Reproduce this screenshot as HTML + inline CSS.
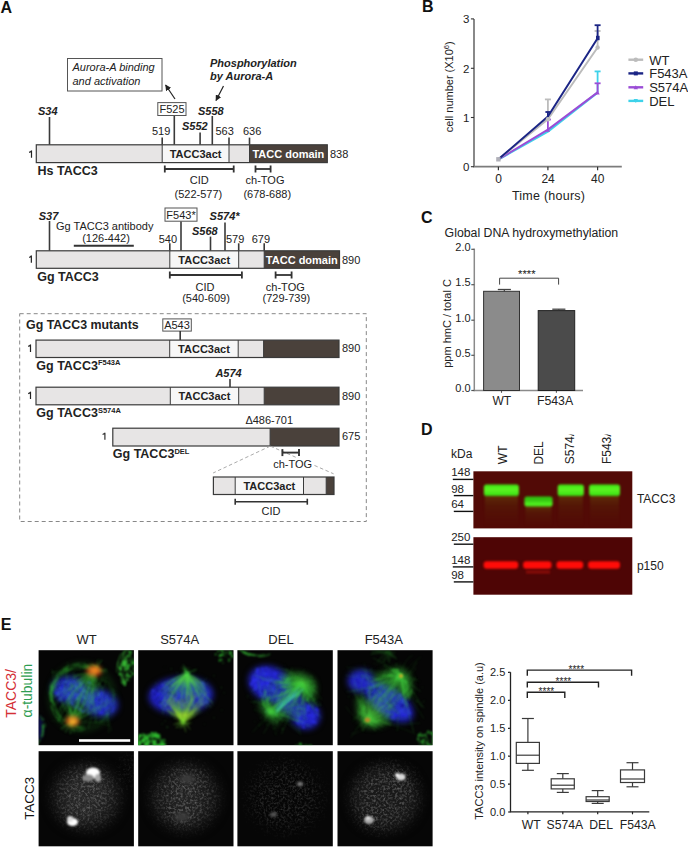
<!DOCTYPE html>
<html><head><meta charset="utf-8">
<style>
html,body{margin:0;padding:0;background:#fff;}
body{width:688px;height:847px;overflow:hidden;position:relative;}
svg{position:absolute;left:0;top:0;color-interpolation-filters:sRGB;}
text{font-family:"Liberation Sans",sans-serif;}
.b{font-weight:bold}
.i{font-style:italic}
</style></head><body>
<svg width="688" height="847" viewBox="0 0 688 847">
<defs>
  <filter id="bl08" x="-20%" y="-20%" width="140%" height="140%"><feGaussianBlur stdDeviation="1.0"/></filter>
  <filter id="bl1" x="-50%" y="-50%" width="200%" height="200%"><feGaussianBlur stdDeviation="1"/></filter>
  <filter id="bl2" x="-50%" y="-50%" width="200%" height="200%"><feGaussianBlur stdDeviation="2"/></filter>
  <filter id="bl3" x="-50%" y="-50%" width="200%" height="200%"><feGaussianBlur stdDeviation="3"/></filter>
  <filter id="bl4" x="-50%" y="-50%" width="200%" height="200%"><feGaussianBlur stdDeviation="4"/></filter>
  <filter id="bl6" x="-50%" y="-50%" width="200%" height="200%"><feGaussianBlur stdDeviation="6"/></filter>
  <marker id="ah" viewBox="0 0 10 10" refX="9" refY="5" markerWidth="5" markerHeight="5" orient="auto-start-reverse"><path d="M0,0 L10,5 L0,10 z" fill="#222"/></marker>
</defs>
<text x="0.5" y="12.6" class="b" font-size="16" fill="#111">A</text><rect x="67.5" y="58.5" width="94.5" height="32.5" fill="#fff" stroke="#555" stroke-width="1"/><text x="72.5" y="71.2" class="i" font-size="11" fill="#222">Aurora-A binding</text><text x="72.5" y="84.8" class="i" font-size="11" fill="#222">and activation</text><text x="210" y="66.5" class="b i" font-size="11" fill="#222">Phosphorylation</text><text x="210" y="80" class="b i" font-size="11" fill="#222">by Aurora-A</text><line x1="175" y1="99" x2="165.6" y2="85" stroke="#222" stroke-width="1.2" marker-end="url(#ah)"/><line x1="223.5" y1="86" x2="216" y2="100.5" stroke="#222" stroke-width="1.2" marker-end="url(#ah)"/><line x1="49.5" y1="117" x2="49.5" y2="144.8" stroke="#3a3a3a" stroke-width="1.6"/><line x1="162.2" y1="137.6" x2="162.2" y2="144.8" stroke="#3a3a3a" stroke-width="1.6"/><line x1="174.3" y1="115.5" x2="174.3" y2="144.8" stroke="#3a3a3a" stroke-width="1.6"/><line x1="200.1" y1="132.4" x2="200.1" y2="144.8" stroke="#3a3a3a" stroke-width="1.6"/><line x1="212.3" y1="116" x2="212.3" y2="144.8" stroke="#3a3a3a" stroke-width="1.6"/><line x1="229" y1="137.6" x2="229" y2="144.8" stroke="#3a3a3a" stroke-width="1.6"/><line x1="249.5" y1="137.6" x2="249.5" y2="144.8" stroke="#3a3a3a" stroke-width="1.6"/><rect x="36.3" y="144.8" width="125.89999999999999" height="17.799999999999983" fill="#e7e5e5"/><rect x="162.2" y="144.8" width="66.80000000000001" height="17.799999999999983" fill="#f7f7f7"/><rect x="229" y="144.8" width="20.5" height="17.799999999999983" fill="#e7e5e5"/><rect x="249.5" y="144.8" width="77.80000000000001" height="17.799999999999983" fill="#4a413b"/><rect x="36.3" y="144.8" width="291.0" height="17.799999999999983" fill="none" stroke="#3a3a3a" stroke-width="1.2"/><line x1="162.2" y1="144.8" x2="162.2" y2="162.6" stroke="#3a3a3a" stroke-width="1.0"/><line x1="229" y1="144.8" x2="229" y2="162.6" stroke="#3a3a3a" stroke-width="1.0"/><line x1="249.5" y1="144.8" x2="249.5" y2="162.6" stroke="#3a3a3a" stroke-width="1.0"/><text x="38" y="114.8" class="b i" font-size="11" fill="#222">S34</text><rect x="157.8" y="102.6" width="28.2" height="12.9" fill="#fff" stroke="#555" stroke-width="1"/><text x="172" y="113" font-size="11" fill="#222" text-anchor="middle">F525</text><text x="198" y="114.8" class="b i" font-size="11" fill="#222">S558</text><text x="182" y="129.8" class="b i" font-size="11" fill="#222">S552</text><text x="152" y="135" font-size="11" fill="#222">519</text><text x="215.5" y="135" font-size="11" fill="#222">563</text><text x="243" y="135" font-size="11" fill="#222">636</text><path d="M31.5,157.7 V150.5 M31.7,150.6 Q30.9,151.8 29.1,152.4" stroke="#222" stroke-width="1.2" fill="none" stroke-linecap="butt"/><text x="195.6" y="158.2" class="b" font-size="11" fill="#222" text-anchor="middle">TACC3act</text><text x="288.4" y="158.2" class="b" font-size="11" fill="#fff" text-anchor="middle">TACC domain</text><text x="330" y="157.6" font-size="11" fill="#222">838</text><text x="37.6" y="175.1" class="b" font-size="12.5" fill="#222">Hs TACC3</text><line x1="164.8" y1="169" x2="233.7" y2="169" stroke="#333" stroke-width="1.8"/><line x1="164.8" y1="165.5" x2="164.8" y2="172.5" stroke="#333" stroke-width="1.8"/><line x1="233.7" y1="165.5" x2="233.7" y2="172.5" stroke="#333" stroke-width="1.8"/><text x="199.2" y="183.8" font-size="11" fill="#222" text-anchor="middle">CID</text><text x="198.4" y="198.3" font-size="11" fill="#222" text-anchor="middle">(522-577)</text><line x1="255.5" y1="169" x2="270.6" y2="169" stroke="#333" stroke-width="1.8"/><line x1="255.5" y1="165.5" x2="255.5" y2="172.5" stroke="#333" stroke-width="1.8"/><line x1="270.6" y1="165.5" x2="270.6" y2="172.5" stroke="#333" stroke-width="1.8"/><text x="265" y="183.8" font-size="11" fill="#222" text-anchor="middle">ch-TOG</text><text x="267.3" y="198.3" font-size="11" fill="#222" text-anchor="middle">(678-688)</text><line x1="49.5" y1="221" x2="49.5" y2="250.8" stroke="#3a3a3a" stroke-width="1.6"/><line x1="73.8" y1="245.8" x2="133.8" y2="245.8" stroke="#333" stroke-width="2.0"/><line x1="169.8" y1="243.3" x2="169.8" y2="250.8" stroke="#3a3a3a" stroke-width="1.6"/><line x1="181" y1="221.2" x2="181" y2="250.8" stroke="#3a3a3a" stroke-width="1.6"/><line x1="210.5" y1="236.6" x2="210.5" y2="250.8" stroke="#3a3a3a" stroke-width="1.6"/><line x1="225" y1="222.6" x2="225" y2="250.8" stroke="#3a3a3a" stroke-width="1.6"/><line x1="238.7" y1="243.3" x2="238.7" y2="250.8" stroke="#3a3a3a" stroke-width="1.6"/><line x1="264.2" y1="243.3" x2="264.2" y2="250.8" stroke="#3a3a3a" stroke-width="1.6"/><rect x="36.3" y="250.8" width="133.5" height="17.5" fill="#e7e5e5"/><rect x="169.8" y="250.8" width="68.89999999999998" height="17.5" fill="#f7f7f7"/><rect x="238.7" y="250.8" width="25.5" height="17.5" fill="#e7e5e5"/><rect x="264.2" y="250.8" width="75.30000000000001" height="17.5" fill="#4a413b"/><rect x="36.3" y="250.8" width="303.2" height="17.5" fill="none" stroke="#3a3a3a" stroke-width="1.2"/><line x1="169.8" y1="250.8" x2="169.8" y2="268.3" stroke="#3a3a3a" stroke-width="1.0"/><line x1="238.7" y1="250.8" x2="238.7" y2="268.3" stroke="#3a3a3a" stroke-width="1.0"/><line x1="264.2" y1="250.8" x2="264.2" y2="268.3" stroke="#3a3a3a" stroke-width="1.0"/><text x="38.7" y="220" class="b i" font-size="11" fill="#222">S37</text><text x="56" y="229.5" font-size="11" fill="#222">Gg TACC3 antibody</text><text x="106" y="242" font-size="11" fill="#222" text-anchor="middle">(126-442)</text><rect x="165" y="208" width="32" height="13.2" fill="#fff" stroke="#555" stroke-width="1"/><text x="181" y="218.6" font-size="11" fill="#222" text-anchor="middle">F543*</text><text x="209.6" y="220" class="b i" font-size="11" fill="#222">S574*</text><text x="192" y="234.8" class="b i" font-size="11" fill="#222">S568</text><text x="158.7" y="242.6" font-size="11" fill="#222">540</text><text x="226" y="242.6" font-size="11" fill="#222">579</text><text x="251.7" y="242.6" font-size="11" fill="#222">679</text><path d="M31.35,262.8 V255.60000000000002 M31.55,255.70000000000002 Q30.75,256.9 29.2,257.5" stroke="#222" stroke-width="1.2" fill="none" stroke-linecap="butt"/><text x="204.2" y="264" class="b" font-size="11" fill="#222" text-anchor="middle">TACC3act</text><text x="301.8" y="264" class="b" font-size="11" fill="#fff" text-anchor="middle">TACC domain</text><text x="342" y="263.5" font-size="11" fill="#222">890</text><text x="37.2" y="281.3" class="b" font-size="12.5" fill="#222">Gg TACC3</text><line x1="169.8" y1="275" x2="241.9" y2="275" stroke="#333" stroke-width="1.8"/><line x1="169.8" y1="271.5" x2="169.8" y2="278.5" stroke="#333" stroke-width="1.8"/><line x1="241.9" y1="271.5" x2="241.9" y2="278.5" stroke="#333" stroke-width="1.8"/><text x="205" y="290.6" font-size="11" fill="#222" text-anchor="middle">CID</text><text x="206" y="302.2" font-size="11" fill="#222" text-anchor="middle">(540-609)</text><line x1="275.6" y1="275" x2="291.6" y2="275" stroke="#333" stroke-width="1.8"/><line x1="275.6" y1="271.5" x2="275.6" y2="278.5" stroke="#333" stroke-width="1.8"/><line x1="291.6" y1="271.5" x2="291.6" y2="278.5" stroke="#333" stroke-width="1.8"/><text x="285.3" y="290.6" font-size="11" fill="#222" text-anchor="middle">ch-TOG</text><text x="286.4" y="302.2" font-size="11" fill="#222" text-anchor="middle">(729-739)</text><rect x="19.7" y="313.7" width="346.6" height="207.8" fill="none" stroke="#888" stroke-width="1" stroke-dasharray="4,3"/><text x="26" y="329" class="b" font-size="12.4" fill="#222">Gg TACC3 mutants</text><rect x="162.8" y="318.9" width="28.5" height="12.2" fill="#fff" stroke="#555" stroke-width="1"/><text x="177" y="329" font-size="11" fill="#222" text-anchor="middle">A543</text><line x1="180.2" y1="331.1" x2="180.2" y2="340.1" stroke="#3a3a3a" stroke-width="1.6"/><rect x="36" y="340.1" width="133.7" height="17.399999999999977" fill="#e7e5e5"/><rect x="169.7" y="340.1" width="68.5" height="17.399999999999977" fill="#f7f7f7"/><rect x="238.2" y="340.1" width="25.400000000000034" height="17.399999999999977" fill="#e7e5e5"/><rect x="263.6" y="340.1" width="75.39999999999998" height="17.399999999999977" fill="#4a413b"/><rect x="36" y="340.1" width="303" height="17.399999999999977" fill="none" stroke="#3a3a3a" stroke-width="1.2"/><line x1="169.7" y1="340.1" x2="169.7" y2="357.5" stroke="#3a3a3a" stroke-width="1.0"/><line x1="238.2" y1="340.1" x2="238.2" y2="357.5" stroke="#3a3a3a" stroke-width="1.0"/><line x1="263.6" y1="340.1" x2="263.6" y2="357.5" stroke="#3a3a3a" stroke-width="1.0"/><path d="M30.5,351.9 V344.5 M30.7,344.59999999999997 Q29.9,345.79999999999995 28.2,346.4" stroke="#222" stroke-width="1.2" fill="none" stroke-linecap="butt"/><text x="204" y="352.6" class="b" font-size="11" fill="#222" text-anchor="middle">TACC3act</text><text x="342" y="352.3" font-size="11" fill="#222">890</text><text x="36.3" y="369.8" class="b" font-size="12.5" fill="#222">Gg TACC3<tspan font-size="7.5" dy="-4.5">F543A</tspan></text><text x="215.4" y="376.8" class="b i" font-size="11" fill="#222">A574</text><line x1="230" y1="379" x2="230" y2="387.2" stroke="#3a3a3a" stroke-width="1.6"/><rect x="36" y="387.2" width="134.3" height="17.600000000000023" fill="#e7e5e5"/><rect x="170.3" y="387.2" width="68.39999999999998" height="17.600000000000023" fill="#f7f7f7"/><rect x="238.7" y="387.2" width="25.5" height="17.600000000000023" fill="#e7e5e5"/><rect x="264.2" y="387.2" width="74.80000000000001" height="17.600000000000023" fill="#4a413b"/><rect x="36" y="387.2" width="303" height="17.600000000000023" fill="none" stroke="#3a3a3a" stroke-width="1.2"/><line x1="170.3" y1="387.2" x2="170.3" y2="404.8" stroke="#3a3a3a" stroke-width="1.0"/><line x1="238.7" y1="387.2" x2="238.7" y2="404.8" stroke="#3a3a3a" stroke-width="1.0"/><line x1="264.2" y1="387.2" x2="264.2" y2="404.8" stroke="#3a3a3a" stroke-width="1.0"/><path d="M30.5,399.1 V391.7 M30.7,391.79999999999995 Q29.9,393.0 28.2,393.6" stroke="#222" stroke-width="1.2" fill="none" stroke-linecap="butt"/><text x="204.5" y="399.8" class="b" font-size="11" fill="#222" text-anchor="middle">TACC3act</text><text x="342" y="399.6" font-size="11" fill="#222">890</text><text x="36.3" y="417.4" class="b" font-size="12.5" fill="#222">Gg TACC3<tspan font-size="7.5" dy="-4.5">S574A</tspan></text><text x="245.4" y="424.3" font-size="11" fill="#222">Δ486-701</text><rect x="112.8" y="428.2" width="157.3" height="17.80000000000001" fill="#e7e5e5"/><rect x="270.1" y="428.2" width="68.89999999999998" height="17.80000000000001" fill="#4a413b"/><rect x="112.8" y="428.2" width="226.2" height="17.80000000000001" fill="none" stroke="#3a3a3a" stroke-width="1.2"/><line x1="270.1" y1="428.2" x2="270.1" y2="446" stroke="#3a3a3a" stroke-width="1.0"/><path d="M104.9,439.7 V432.7 M105.10000000000001,432.79999999999995 Q104.30000000000001,433.9 102.6,434.5" stroke="#333" stroke-width="1.2" fill="none" stroke-linecap="butt"/><text x="342" y="440.3" font-size="11" fill="#222">675</text><text x="112.8" y="458" class="b" font-size="12.5" fill="#222">Gg TACC3<tspan font-size="7.5" dy="-4.5">DEL</tspan></text><line x1="270.1" y1="446.2" x2="213.1" y2="473" stroke="#a0a0a0" stroke-width="0.9" stroke-dasharray="3.5,2.5"/><line x1="270.5" y1="446.2" x2="333.6" y2="473.8" stroke="#a0a0a0" stroke-width="0.9" stroke-dasharray="3.5,2.5"/><line x1="282.4" y1="452.6" x2="299" y2="452.6" stroke="#333" stroke-width="1.9"/><line x1="282.4" y1="449.1" x2="282.4" y2="456.1" stroke="#333" stroke-width="1.9"/><line x1="299" y1="449.1" x2="299" y2="456.1" stroke="#333" stroke-width="1.9"/><rect x="272" y="458" width="42" height="11.5" fill="#fff"/><text x="292.6" y="468.4" font-size="11" fill="#222" text-anchor="middle">ch-TOG</text><rect x="213.4" y="477" width="21.799999999999983" height="17.5" fill="#e7e5e5"/><rect x="235.2" y="477" width="68.30000000000001" height="17.5" fill="#f7f7f7"/><rect x="303.5" y="477" width="22.69999999999999" height="17.5" fill="#e7e5e5"/><rect x="326.2" y="477" width="7.800000000000011" height="17.5" fill="#4a413b"/><rect x="213.4" y="477" width="120.6" height="17.5" fill="none" stroke="#3a3a3a" stroke-width="1.2"/><line x1="235.2" y1="477" x2="235.2" y2="494.5" stroke="#3a3a3a" stroke-width="1.0"/><line x1="303.5" y1="477" x2="303.5" y2="494.5" stroke="#3a3a3a" stroke-width="1.0"/><line x1="326.2" y1="477" x2="326.2" y2="494.5" stroke="#3a3a3a" stroke-width="1.0"/><text x="269.3" y="490" class="b" font-size="11" fill="#222" text-anchor="middle">TACC3act</text><line x1="235.2" y1="501.7" x2="307.3" y2="501.7" stroke="#333" stroke-width="1.6"/><line x1="235.2" y1="498.7" x2="235.2" y2="504.7" stroke="#333" stroke-width="1.6"/><line x1="307.3" y1="498.7" x2="307.3" y2="504.7" stroke="#333" stroke-width="1.6"/><text x="271" y="515.3" font-size="11" fill="#222" text-anchor="middle">CID</text><text x="422" y="11.8" class="b" font-size="16" fill="#111">B</text><line x1="474" y1="18.9" x2="474" y2="166.8" stroke="#7c7c7c" stroke-width="1.8"/><line x1="473.1" y1="166.7" x2="621.8" y2="166.7" stroke="#7c7c7c" stroke-width="1.8"/><line x1="470.9" y1="18.9" x2="474" y2="18.9" stroke="#333" stroke-width="1.1"/><text x="469.5" y="23.4" font-size="11.5" fill="#222" text-anchor="end">3</text><line x1="470.9" y1="68.3" x2="474" y2="68.3" stroke="#333" stroke-width="1.1"/><text x="469.5" y="72.8" font-size="11.5" fill="#222" text-anchor="end">2</text><line x1="470.9" y1="117.5" x2="474" y2="117.5" stroke="#333" stroke-width="1.1"/><text x="469.5" y="122.0" font-size="11.5" fill="#222" text-anchor="end">1</text><line x1="470.9" y1="166.7" x2="474" y2="166.7" stroke="#333" stroke-width="1.1"/><text x="469.5" y="171.2" font-size="11.5" fill="#222" text-anchor="end">0</text><line x1="498.4" y1="166.7" x2="498.4" y2="170.2" stroke="#333" stroke-width="1.2"/><text x="498.59999999999997" y="182.8" font-size="12" fill="#222" text-anchor="middle">0</text><line x1="547.9" y1="166.7" x2="547.9" y2="170.2" stroke="#333" stroke-width="1.2"/><text x="548.1" y="182.8" font-size="12" fill="#222" text-anchor="middle">24</text><line x1="597.6" y1="166.7" x2="597.6" y2="170.2" stroke="#333" stroke-width="1.2"/><text x="597.8000000000001" y="182.8" font-size="12" fill="#222" text-anchor="middle">40</text><text x="548.6" y="199.8" font-size="12.5" letter-spacing="0.25" fill="#222" text-anchor="middle">Time (hours)</text><text transform="translate(453.4,86.8) rotate(-90)" font-size="11" fill="#222" text-anchor="middle">cell number (X10<tspan font-size="7.5" dy="-4.2">6</tspan><tspan dy="4.2">)</tspan></text><polyline points="498.4,159.6 547.9,131.6 597.6,92.6" fill="none" stroke="#3ed2ea" stroke-width="2" stroke-linejoin="round"/><line x1="597.6" y1="92.6" x2="597.6" y2="71.4" stroke="#3ed2ea" stroke-width="1.8"/><line x1="594.6" y1="71.4" x2="600.6" y2="71.4" stroke="#3ed2ea" stroke-width="1.8"/><polyline points="498.4,159.4 547.9,129.6 597.6,92.4" fill="none" stroke="#9b4dd6" stroke-width="2" stroke-linejoin="round"/><line x1="547.9" y1="129.6" x2="547.9" y2="119.5" stroke="#9b4dd6" stroke-width="1.8"/><line x1="544.9" y1="119.5" x2="550.9" y2="119.5" stroke="#9b4dd6" stroke-width="1.8"/><line x1="597.6" y1="92.4" x2="597.6" y2="83.3" stroke="#9b4dd6" stroke-width="1.8"/><line x1="594.6" y1="83.3" x2="600.6" y2="83.3" stroke="#9b4dd6" stroke-width="1.8"/><line x1="547.9" y1="119.2" x2="547.9" y2="99.4" stroke="#bcbcbc" stroke-width="1.8"/><line x1="544.9" y1="99.4" x2="550.9" y2="99.4" stroke="#bcbcbc" stroke-width="1.8"/><line x1="597.6" y1="47.5" x2="597.6" y2="31" stroke="#bcbcbc" stroke-width="1.8"/><line x1="594.6" y1="31" x2="600.6" y2="31" stroke="#bcbcbc" stroke-width="1.8"/><polyline points="498.4,159.3 547.9,119.2 597.6,47.5" fill="none" stroke="#bcbcbc" stroke-width="2" stroke-linejoin="round"/><polyline points="498.4,159.3 547.9,116.5 597.6,38.2" fill="none" stroke="#1b2585" stroke-width="2" stroke-linejoin="round"/><line x1="597.6" y1="38.2" x2="597.6" y2="25.2" stroke="#1b2585" stroke-width="1.8"/><line x1="594.6" y1="25.2" x2="600.6" y2="25.2" stroke="#1b2585" stroke-width="1.8"/><line x1="547.9" y1="116.5" x2="547.9" y2="112" stroke="#1b2585" stroke-width="1.8"/><line x1="545.4" y1="112" x2="550.4" y2="112" stroke="#1b2585" stroke-width="1.8"/><rect x="596" y="35.8" width="3.6" height="4.4" fill="#1b2585"/><circle cx="597.6" cy="47.5" r="2.2" fill="#bcbcbc"/><circle cx="547.9" cy="119.2" r="2.2" fill="#bcbcbc"/><path d="M595.5,94.5 L599.7,94.5 L597.6,90.3 z" fill="#9b4dd6"/><path d="M545.8,131.7 L550,131.7 L547.9,127.5 z" fill="#9b4dd6"/><rect x="496.2" y="157.1" width="4.4" height="4.4" fill="#b0b0b8"/><line x1="628.4" y1="59.7" x2="643.2" y2="59.7" stroke="#bcbcbc" stroke-width="2.4"/><circle cx="635.8" cy="59.7" r="2.3" fill="#bcbcbc"/><text x="649.2" y="64.7" font-size="13" fill="#222">WT</text><line x1="628.4" y1="73.4" x2="643.2" y2="73.4" stroke="#1b2585" stroke-width="2.4"/><rect x="633.8" y="71.4" width="4" height="4" fill="#1b2585"/><text x="649.2" y="78.4" font-size="13" fill="#222">F543A</text><line x1="628.4" y1="87.3" x2="643.2" y2="87.3" stroke="#9b4dd6" stroke-width="2.4"/><path d="M633.6,89.3 L638,89.3 L635.8,85.3 z" fill="#9b4dd6"/><text x="649.2" y="92.3" font-size="13" fill="#222">S574A</text><line x1="628.4" y1="100.9" x2="643.2" y2="100.9" stroke="#3ed2ea" stroke-width="2.4"/><path d="M633.6,98.9 L638,98.9 L635.8,102.9 z" fill="#3ed2ea"/><text x="649.2" y="105.9" font-size="13" fill="#222">DEL</text><text x="421" y="223.2" class="b" font-size="16" fill="#111">C</text><text x="444.6" y="237.3" font-size="12.3" fill="#222">Global DNA hydroxymethylation</text><line x1="474.3" y1="248.6" x2="474.3" y2="391.2" stroke="#8a8a8a" stroke-width="1.5"/><line x1="473.6" y1="390.5" x2="583" y2="390.5" stroke="#8a8a8a" stroke-width="1.5"/><line x1="471.3" y1="249.3" x2="474.3" y2="249.3" stroke="#555" stroke-width="1.2"/><text x="470.6" y="250.9" font-size="11" fill="#222" text-anchor="end">2.0</text><line x1="471.3" y1="284.7" x2="474.3" y2="284.7" stroke="#555" stroke-width="1.2"/><text x="470.6" y="286.3" font-size="11" fill="#222" text-anchor="end">1.5</text><line x1="471.3" y1="320.2" x2="474.3" y2="320.2" stroke="#555" stroke-width="1.2"/><text x="470.6" y="321.8" font-size="11" fill="#222" text-anchor="end">1.0</text><line x1="471.3" y1="355.3" x2="474.3" y2="355.3" stroke="#555" stroke-width="1.2"/><text x="470.6" y="356.90000000000003" font-size="11" fill="#222" text-anchor="end">0.5</text><line x1="471.3" y1="390.5" x2="474.3" y2="390.5" stroke="#555" stroke-width="1.2"/><text x="470.6" y="392.1" font-size="11" fill="#222" text-anchor="end">0.0</text><line x1="501.5" y1="390.5" x2="501.5" y2="392.8" stroke="#555" stroke-width="1.1"/><line x1="556.4" y1="390.5" x2="556.4" y2="392.8" stroke="#555" stroke-width="1.1"/><rect x="483.6" y="291.3" width="35.9" height="99.2" fill="#8b8b8b" stroke="#333" stroke-width="1.0"/><rect x="538.2" y="310.6" width="36.5" height="79.9" fill="#4b4b4b" stroke="#222" stroke-width="1.0"/><line x1="504.3" y1="289.5" x2="504.3" y2="291.3" stroke="#333" stroke-width="1.1"/><line x1="497.8" y1="289.5" x2="510.9" y2="289.5" stroke="#444" stroke-width="1.3"/><line x1="558.8" y1="309.2" x2="558.8" y2="310.6" stroke="#333" stroke-width="1.1"/><line x1="552.3" y1="309.2" x2="565.4" y2="309.2" stroke="#444" stroke-width="1.3"/><path d="M499.6,284.6 V278.2 H558.6 V284.6" fill="none" stroke="#444" stroke-width="1"/><text x="526.8" y="278.2" font-size="11.2" fill="#222" text-anchor="middle">****</text><text transform="translate(450.5,323.5) rotate(-90)" font-size="11" fill="#222" text-anchor="middle">ppm hmC / total C</text><text x="501.8" y="405.3" font-size="12" fill="#222" text-anchor="middle">WT</text><text x="555" y="405.3" font-size="12.3" fill="#222" text-anchor="middle">F543A</text><text x="421" y="435" class="b" font-size="16" fill="#111">D</text><text x="451" y="457.8" font-size="12" fill="#222">kDa</text><defs><clipPath id="lblclip"><rect x="480" y="434.6" width="150" height="40"/></clipPath><linearGradient id="smear" x1="0" y1="0" x2="0" y2="1"><stop offset="0" stop-color="#6a4a0a" stop-opacity="0.6"/><stop offset="0.35" stop-color="#5a3008" stop-opacity="0.32"/><stop offset="1" stop-color="#5a2008" stop-opacity="0.0"/></linearGradient><linearGradient id="gband" x1="0" y1="0" x2="0" y2="1"><stop offset="0" stop-color="#3ee612"/><stop offset="0.45" stop-color="#5cf422"/><stop offset="0.8" stop-color="#44e818"/><stop offset="1" stop-color="#3ad010"/></linearGradient><linearGradient id="gdel" x1="0" y1="0" x2="0" y2="1"><stop offset="0" stop-color="#2fc010"/><stop offset="0.4" stop-color="#36c812"/><stop offset="0.7" stop-color="#50f020"/><stop offset="1" stop-color="#48e818"/></linearGradient></defs><g clip-path="url(#lblclip)"><text transform="translate(507.1,464.2) rotate(-90)" font-size="12" fill="#222">WT</text><text transform="translate(542.8,464.6) rotate(-90)" font-size="12" fill="#222">DEL</text><text transform="translate(574.4,464.3) rotate(-90)" font-size="12" fill="#222">S574A</text><text transform="translate(611.1,464.1) rotate(-90)" font-size="12" fill="#222">F543A</text></g><rect x="473.4" y="471.3" width="158.9" height="57.1" fill="#520a06"/><rect x="473.4" y="537.2" width="158.9" height="57.5" fill="#4e0505"/><text x="451.2" y="476" font-size="11.5" fill="#222">148</text><text x="451.2" y="492.8" font-size="11.5" fill="#222">98</text><text x="451.2" y="508.4" font-size="11.5" fill="#222">64</text><line x1="452.8" y1="479.4" x2="473.4" y2="479.4" stroke="#111" stroke-width="1.4"/><line x1="453.8" y1="495.6" x2="473.4" y2="495.6" stroke="#111" stroke-width="1.4"/><line x1="453.8" y1="511.4" x2="473.4" y2="511.4" stroke="#111" stroke-width="1.4"/><text x="451.2" y="540.7" font-size="11.5" fill="#222">250</text><text x="451.2" y="563.8" font-size="11.5" fill="#222">148</text><text x="451.2" y="579.4" font-size="11.5" fill="#222">98</text><line x1="453.8" y1="544.2" x2="473.4" y2="544.2" stroke="#111" stroke-width="1.4"/><line x1="452.8" y1="566.9" x2="473.4" y2="566.9" stroke="#111" stroke-width="1.4"/><line x1="453.8" y1="581.9" x2="473.4" y2="581.9" stroke="#111" stroke-width="1.4"/><text x="636.9" y="502.9" font-size="12" fill="#222">TACC3</text><text x="636.9" y="569.8" font-size="12" fill="#222">p150</text><rect x="484.9" y="495" width="33.0" height="32" fill="url(#smear)" filter="url(#bl1)"/><rect x="558.7" y="495" width="24.199999999999932" height="32" fill="url(#smear)" filter="url(#bl1)"/><rect x="590.1" y="495" width="28.899999999999977" height="32" fill="url(#smear)" filter="url(#bl1)"/><rect x="525.5" y="505.5" width="26" height="22" fill="url(#smear)" filter="url(#bl1)"/><rect x="483.9" y="484.6" width="35.0" height="11.4" rx="2.5" fill="url(#gband)" filter="url(#bl08)"/><rect x="557.7" y="484.6" width="26.199999999999932" height="11.4" rx="2.5" fill="url(#gband)" filter="url(#bl08)"/><rect x="589.1" y="484.6" width="30.899999999999977" height="11.4" rx="2.5" fill="url(#gband)" filter="url(#bl08)"/><rect x="524.4" y="496.6" width="28.2" height="10" rx="2.5" fill="url(#gdel)" filter="url(#bl08)"/><rect x="483.6" y="561.3" width="34.60000000000002" height="7.4" rx="3" fill="#ff0c08" filter="url(#bl08)"/><rect x="523.1" y="561.3" width="28.399999999999977" height="7.4" rx="3" fill="#ff0c08" filter="url(#bl08)"/><rect x="556.5" y="561.3" width="26.700000000000045" height="7.4" rx="3" fill="#ff0c08" filter="url(#bl08)"/><rect x="588.1" y="561.3" width="31.899999999999977" height="7.4" rx="3" fill="#ff0c08" filter="url(#bl08)"/><rect x="526" y="570.5" width="24" height="3" fill="#8a0c08" filter="url(#bl1)"/><text x="0.8" y="629.9" class="b" font-size="16" fill="#111">E</text><text x="86.7" y="644.4" font-size="13" fill="#222" text-anchor="middle">WT</text><text x="179.7" y="644.4" font-size="13" fill="#222" text-anchor="middle">S574A</text><text x="281" y="644.4" font-size="13" fill="#222" text-anchor="middle">DEL</text><text x="383.8" y="644.4" font-size="13" fill="#222" text-anchor="middle">F543A</text><text transform="translate(16,717.8) rotate(-90)" font-size="14" fill="#d43036">TACC3/</text><text transform="translate(32.2,717.4) rotate(-90)" font-size="13.9" fill="#2e9c50">α-tubulin</text><text transform="translate(34.1,819.8) rotate(-90)" font-size="13.4" fill="#111">TACC3</text><defs><clipPath id="c1_0"><rect x="38.6" y="650.2" width="95.30000000000001" height="95.0"/></clipPath><clipPath id="c2_0"><rect x="38.6" y="751.2" width="95.30000000000001" height="95.09999999999991"/></clipPath><clipPath id="c1_1"><rect x="138.2" y="650.2" width="95.30000000000001" height="95.0"/></clipPath><clipPath id="c2_1"><rect x="138.2" y="751.2" width="95.30000000000001" height="95.09999999999991"/></clipPath><clipPath id="c1_2"><rect x="237.4" y="650.2" width="95.4" height="95.0"/></clipPath><clipPath id="c2_2"><rect x="237.4" y="751.2" width="95.4" height="95.09999999999991"/></clipPath><clipPath id="c1_3"><rect x="337.5" y="650.2" width="95.10000000000002" height="95.0"/></clipPath><clipPath id="c2_3"><rect x="337.5" y="751.2" width="95.10000000000002" height="95.09999999999991"/></clipPath><filter id="noise" x="0" y="0" width="100%" height="100%">
<feTurbulence type="fractalNoise" baseFrequency="0.9" numOctaves="1" seed="3" result="t"/>
<feColorMatrix type="matrix" values="0 0 0 0 1  0 0 0 0 1  0 0 0 0 1  0 0 0 1.6 -0.95" />
</filter></defs><rect x="38.6" y="650.2" width="95.30000000000001" height="95.0" fill="#050505"/><rect x="38.6" y="751.2" width="95.30000000000001" height="95.09999999999991" fill="#060606"/><rect x="138.2" y="650.2" width="95.30000000000001" height="95.0" fill="#050505"/><rect x="138.2" y="751.2" width="95.30000000000001" height="95.09999999999991" fill="#060606"/><rect x="237.4" y="650.2" width="95.4" height="95.0" fill="#050505"/><rect x="237.4" y="751.2" width="95.4" height="95.09999999999991" fill="#060606"/><rect x="337.5" y="650.2" width="95.10000000000002" height="95.0" fill="#050505"/><rect x="337.5" y="751.2" width="95.10000000000002" height="95.09999999999991" fill="#060606"/><g clip-path="url(#c1_0)"><g filter="url(#bl3)"><ellipse cx="70" cy="690" rx="18" ry="13" transform="rotate(10 70 690)" fill="#2224c8"/><ellipse cx="100" cy="703" rx="18" ry="13" transform="rotate(15 100 703)" fill="#2224c8"/></g><g filter="url(#bl08)"><circle cx="77.5" cy="683.6" r="1.6" fill="#2d30ec" opacity="0.24"/><circle cx="88.4" cy="693.9" r="0.9" fill="#2d30ec" opacity="0.45"/><circle cx="57.5" cy="686.0" r="0.9" fill="#2d30ec" opacity="0.25"/><circle cx="77.4" cy="704.8" r="0.9" fill="#2d30ec" opacity="0.31"/><circle cx="88.6" cy="712.3" r="1.5" fill="#2d30ec" opacity="0.40"/><circle cx="108.8" cy="698.1" r="1.0" fill="#2d30ec" opacity="0.26"/><circle cx="70.4" cy="702.2" r="1.0" fill="#2d30ec" opacity="0.49"/><circle cx="94.6" cy="696.1" r="1.5" fill="#2d30ec" opacity="0.23"/><circle cx="96.7" cy="698.5" r="1.2" fill="#2d30ec" opacity="0.49"/><circle cx="84.0" cy="690.4" r="1.8" fill="#2d30ec" opacity="0.55"/><circle cx="68.7" cy="694.1" r="1.4" fill="#2d30ec" opacity="0.64"/><circle cx="100.9" cy="695.5" r="2.0" fill="#2d30ec" opacity="0.26"/><circle cx="77.6" cy="702.7" r="1.0" fill="#2d30ec" opacity="0.44"/><circle cx="55.4" cy="692.7" r="1.7" fill="#2d30ec" opacity="0.49"/><circle cx="109.6" cy="699.1" r="1.6" fill="#2d30ec" opacity="0.50"/><circle cx="90.3" cy="697.3" r="1.8" fill="#2d30ec" opacity="0.67"/><circle cx="81.9" cy="701.2" r="0.9" fill="#2d30ec" opacity="0.55"/><circle cx="106.6" cy="697.2" r="1.3" fill="#2d30ec" opacity="0.53"/><circle cx="56.3" cy="686.5" r="1.0" fill="#2d30ec" opacity="0.26"/><circle cx="64.8" cy="682.5" r="1.3" fill="#2d30ec" opacity="0.64"/><circle cx="59.9" cy="687.3" r="1.5" fill="#2d30ec" opacity="0.64"/><circle cx="101.1" cy="713.7" r="1.1" fill="#2d30ec" opacity="0.41"/><circle cx="72.8" cy="705.2" r="1.9" fill="#2d30ec" opacity="0.28"/><circle cx="67.8" cy="682.9" r="1.1" fill="#2d30ec" opacity="0.44"/><circle cx="92.6" cy="692.0" r="0.8" fill="#2d30ec" opacity="0.41"/><circle cx="76.4" cy="696.3" r="1.9" fill="#2d30ec" opacity="0.55"/><circle cx="84.9" cy="700.7" r="1.6" fill="#2d30ec" opacity="0.23"/><circle cx="106.7" cy="712.9" r="1.8" fill="#2d30ec" opacity="0.60"/><circle cx="79.4" cy="692.0" r="0.9" fill="#2d30ec" opacity="0.52"/><circle cx="70.4" cy="681.6" r="1.2" fill="#2d30ec" opacity="0.23"/><circle cx="62.0" cy="685.2" r="0.8" fill="#2d30ec" opacity="0.64"/><circle cx="95.2" cy="689.2" r="1.1" fill="#2d30ec" opacity="0.37"/><circle cx="80.2" cy="683.6" r="1.8" fill="#2d30ec" opacity="0.70"/><circle cx="83.1" cy="695.9" r="0.9" fill="#2d30ec" opacity="0.25"/><circle cx="77.6" cy="687.2" r="1.8" fill="#2d30ec" opacity="0.28"/><circle cx="90.0" cy="687.5" r="1.5" fill="#2d30ec" opacity="0.21"/><circle cx="82.3" cy="711.2" r="1.8" fill="#2d30ec" opacity="0.55"/><circle cx="71.7" cy="688.5" r="1.0" fill="#2d30ec" opacity="0.59"/><circle cx="84.4" cy="705.6" r="1.2" fill="#2d30ec" opacity="0.31"/><circle cx="103.6" cy="712.7" r="1.8" fill="#2d30ec" opacity="0.57"/><circle cx="68.2" cy="692.1" r="1.2" fill="#2d30ec" opacity="0.21"/><circle cx="68.6" cy="697.7" r="1.9" fill="#2d30ec" opacity="0.42"/><circle cx="113.9" cy="702.1" r="1.1" fill="#2d30ec" opacity="0.31"/><circle cx="69.3" cy="682.6" r="1.5" fill="#2d30ec" opacity="0.65"/><circle cx="105.9" cy="703.1" r="1.6" fill="#2d30ec" opacity="0.60"/><circle cx="58.2" cy="693.4" r="1.9" fill="#2d30ec" opacity="0.59"/><circle cx="100.4" cy="701.3" r="1.0" fill="#2d30ec" opacity="0.59"/><circle cx="72.0" cy="702.3" r="2.0" fill="#2d30ec" opacity="0.40"/><circle cx="74.9" cy="707.8" r="1.7" fill="#2d30ec" opacity="0.29"/><circle cx="60.4" cy="699.3" r="2.0" fill="#2d30ec" opacity="0.53"/><circle cx="75.4" cy="695.4" r="1.0" fill="#2d30ec" opacity="0.21"/><circle cx="112.3" cy="710.6" r="1.4" fill="#2d30ec" opacity="0.67"/><circle cx="77.5" cy="706.3" r="1.8" fill="#2d30ec" opacity="0.31"/><circle cx="71.8" cy="686.2" r="1.1" fill="#2d30ec" opacity="0.49"/><circle cx="71.1" cy="689.9" r="1.0" fill="#2d30ec" opacity="0.66"/><circle cx="76.5" cy="692.9" r="1.5" fill="#2d30ec" opacity="0.65"/><circle cx="76.3" cy="707.3" r="1.4" fill="#2d30ec" opacity="0.47"/><circle cx="90.9" cy="683.7" r="1.3" fill="#2d30ec" opacity="0.29"/><circle cx="65.3" cy="689.8" r="1.7" fill="#2d30ec" opacity="0.48"/><circle cx="74.2" cy="694.1" r="1.5" fill="#2d30ec" opacity="0.59"/><circle cx="60.5" cy="690.9" r="1.1" fill="#2d30ec" opacity="0.34"/><circle cx="101.5" cy="702.6" r="1.5" fill="#2d30ec" opacity="0.58"/><circle cx="110.6" cy="703.5" r="1.5" fill="#2d30ec" opacity="0.45"/><circle cx="84.0" cy="702.7" r="1.3" fill="#2d30ec" opacity="0.47"/><circle cx="79.6" cy="709.2" r="1.6" fill="#2d30ec" opacity="0.64"/><circle cx="84.5" cy="710.8" r="1.8" fill="#2d30ec" opacity="0.27"/><circle cx="62.5" cy="687.9" r="0.9" fill="#2d30ec" opacity="0.32"/><circle cx="57.4" cy="693.4" r="1.7" fill="#2d30ec" opacity="0.65"/><circle cx="62.0" cy="696.3" r="1.6" fill="#2d30ec" opacity="0.27"/><circle cx="78.9" cy="694.6" r="2.0" fill="#2d30ec" opacity="0.62"/><circle cx="65.0" cy="688.4" r="1.4" fill="#2d30ec" opacity="0.37"/><circle cx="68.2" cy="685.8" r="1.7" fill="#2d30ec" opacity="0.21"/><circle cx="88.8" cy="696.4" r="0.8" fill="#2d30ec" opacity="0.37"/><circle cx="92.4" cy="699.8" r="0.9" fill="#2d30ec" opacity="0.69"/><circle cx="63.1" cy="682.5" r="0.8" fill="#2d30ec" opacity="0.59"/><circle cx="74.5" cy="681.9" r="1.3" fill="#2d30ec" opacity="0.66"/><circle cx="106.7" cy="696.4" r="1.0" fill="#2d30ec" opacity="0.66"/><circle cx="87.4" cy="704.1" r="0.9" fill="#2d30ec" opacity="0.23"/><circle cx="97.1" cy="698.6" r="0.9" fill="#2d30ec" opacity="0.67"/><circle cx="90.4" cy="708.3" r="0.9" fill="#2d30ec" opacity="0.63"/><circle cx="83.7" cy="691.5" r="1.5" fill="#2d30ec" opacity="0.66"/><circle cx="74.3" cy="681.8" r="1.4" fill="#2d30ec" opacity="0.32"/><circle cx="75.4" cy="687.7" r="1.7" fill="#2d30ec" opacity="0.34"/><circle cx="88.0" cy="687.8" r="1.2" fill="#2d30ec" opacity="0.21"/><circle cx="98.7" cy="703.1" r="1.0" fill="#2d30ec" opacity="0.44"/><circle cx="105.0" cy="701.4" r="1.4" fill="#2d30ec" opacity="0.62"/><circle cx="78.4" cy="695.1" r="1.6" fill="#2d30ec" opacity="0.69"/><circle cx="72.3" cy="703.4" r="1.6" fill="#2d30ec" opacity="0.52"/><circle cx="80.6" cy="690.8" r="0.9" fill="#2d30ec" opacity="0.26"/><circle cx="56.6" cy="695.4" r="1.1" fill="#2d30ec" opacity="0.28"/><circle cx="106.0" cy="709.2" r="1.1" fill="#2d30ec" opacity="0.32"/><circle cx="72.8" cy="691.8" r="1.0" fill="#2d30ec" opacity="0.42"/><circle cx="113.3" cy="707.7" r="1.1" fill="#2d30ec" opacity="0.68"/><circle cx="74.7" cy="689.1" r="0.8" fill="#2d30ec" opacity="0.39"/><circle cx="83.4" cy="696.6" r="1.0" fill="#2d30ec" opacity="0.45"/><circle cx="61.0" cy="686.0" r="0.9" fill="#2d30ec" opacity="0.21"/><circle cx="75.6" cy="685.5" r="1.5" fill="#2d30ec" opacity="0.46"/><circle cx="98.8" cy="706.4" r="1.7" fill="#2d30ec" opacity="0.64"/><circle cx="79.9" cy="689.9" r="2.0" fill="#2d30ec" opacity="0.27"/><circle cx="97.3" cy="705.5" r="0.9" fill="#2d30ec" opacity="0.62"/><circle cx="107.7" cy="708.4" r="1.7" fill="#2d30ec" opacity="0.61"/><circle cx="62.8" cy="690.5" r="1.4" fill="#2d30ec" opacity="0.62"/><circle cx="100.5" cy="712.3" r="1.5" fill="#2d30ec" opacity="0.65"/><circle cx="94.3" cy="706.1" r="1.1" fill="#2d30ec" opacity="0.22"/><circle cx="64.0" cy="685.8" r="0.9" fill="#2d30ec" opacity="0.62"/><circle cx="87.4" cy="701.8" r="1.6" fill="#2d30ec" opacity="0.54"/><circle cx="89.0" cy="682.6" r="1.8" fill="#2d30ec" opacity="0.57"/><circle cx="84.9" cy="698.1" r="1.6" fill="#2d30ec" opacity="0.23"/><circle cx="101.7" cy="694.6" r="0.9" fill="#2d30ec" opacity="0.33"/><circle cx="101.7" cy="693.1" r="1.7" fill="#2d30ec" opacity="0.69"/></g><g filter="url(#bl08)"><circle cx="85.7" cy="693.8" r="1.0" fill="#0c0c60" opacity="0.47"/><circle cx="99.7" cy="705.2" r="1.2" fill="#0c0c60" opacity="0.23"/><circle cx="66.3" cy="683.7" r="1.3" fill="#0c0c60" opacity="0.32"/><circle cx="93.2" cy="685.3" r="0.7" fill="#0c0c60" opacity="0.31"/><circle cx="93.5" cy="705.4" r="1.2" fill="#0c0c60" opacity="0.32"/><circle cx="86.3" cy="696.4" r="1.0" fill="#0c0c60" opacity="0.25"/><circle cx="110.8" cy="696.5" r="1.5" fill="#0c0c60" opacity="0.57"/><circle cx="56.9" cy="686.7" r="1.3" fill="#0c0c60" opacity="0.59"/><circle cx="84.0" cy="689.9" r="0.8" fill="#0c0c60" opacity="0.58"/><circle cx="67.2" cy="693.6" r="0.7" fill="#0c0c60" opacity="0.41"/><circle cx="103.8" cy="703.4" r="1.4" fill="#0c0c60" opacity="0.48"/><circle cx="65.7" cy="702.4" r="1.0" fill="#0c0c60" opacity="0.21"/><circle cx="55.8" cy="687.3" r="1.0" fill="#0c0c60" opacity="0.32"/><circle cx="65.2" cy="686.0" r="0.9" fill="#0c0c60" opacity="0.54"/><circle cx="108.3" cy="710.8" r="1.4" fill="#0c0c60" opacity="0.32"/><circle cx="78.4" cy="691.7" r="1.5" fill="#0c0c60" opacity="0.44"/><circle cx="77.4" cy="692.4" r="0.8" fill="#0c0c60" opacity="0.22"/><circle cx="68.6" cy="704.5" r="0.8" fill="#0c0c60" opacity="0.31"/><circle cx="88.3" cy="689.0" r="0.9" fill="#0c0c60" opacity="0.58"/><circle cx="105.0" cy="712.7" r="1.2" fill="#0c0c60" opacity="0.57"/><circle cx="110.6" cy="706.8" r="1.2" fill="#0c0c60" opacity="0.22"/><circle cx="99.1" cy="700.1" r="1.3" fill="#0c0c60" opacity="0.46"/><circle cx="76.3" cy="680.9" r="1.4" fill="#0c0c60" opacity="0.25"/><circle cx="84.7" cy="692.3" r="0.9" fill="#0c0c60" opacity="0.50"/><circle cx="95.9" cy="694.7" r="1.1" fill="#0c0c60" opacity="0.36"/><circle cx="68.3" cy="681.6" r="0.8" fill="#0c0c60" opacity="0.56"/><circle cx="87.3" cy="689.5" r="1.4" fill="#0c0c60" opacity="0.60"/><circle cx="85.2" cy="686.4" r="0.8" fill="#0c0c60" opacity="0.24"/><circle cx="79.2" cy="683.1" r="0.8" fill="#0c0c60" opacity="0.30"/><circle cx="85.8" cy="708.6" r="1.3" fill="#0c0c60" opacity="0.37"/><circle cx="79.7" cy="696.0" r="0.9" fill="#0c0c60" opacity="0.34"/><circle cx="61.1" cy="682.7" r="1.5" fill="#0c0c60" opacity="0.25"/><circle cx="84.1" cy="700.5" r="1.4" fill="#0c0c60" opacity="0.29"/><circle cx="73.7" cy="685.9" r="1.0" fill="#0c0c60" opacity="0.38"/><circle cx="108.6" cy="703.9" r="1.1" fill="#0c0c60" opacity="0.20"/><circle cx="74.9" cy="706.3" r="1.3" fill="#0c0c60" opacity="0.54"/><circle cx="84.7" cy="702.3" r="1.4" fill="#0c0c60" opacity="0.49"/><circle cx="91.4" cy="706.9" r="1.0" fill="#0c0c60" opacity="0.42"/><circle cx="65.6" cy="703.1" r="1.2" fill="#0c0c60" opacity="0.32"/><circle cx="65.2" cy="683.3" r="1.2" fill="#0c0c60" opacity="0.48"/><circle cx="85.7" cy="699.7" r="0.9" fill="#0c0c60" opacity="0.29"/><circle cx="95.2" cy="685.9" r="0.9" fill="#0c0c60" opacity="0.38"/><circle cx="110.8" cy="709.6" r="1.4" fill="#0c0c60" opacity="0.39"/><circle cx="71.5" cy="685.2" r="1.5" fill="#0c0c60" opacity="0.48"/><circle cx="83.4" cy="701.6" r="1.0" fill="#0c0c60" opacity="0.30"/><circle cx="91.2" cy="711.5" r="0.8" fill="#0c0c60" opacity="0.21"/><circle cx="76.1" cy="691.8" r="1.2" fill="#0c0c60" opacity="0.28"/><circle cx="100.4" cy="709.1" r="1.1" fill="#0c0c60" opacity="0.28"/><circle cx="106.2" cy="696.0" r="0.8" fill="#0c0c60" opacity="0.50"/><circle cx="69.0" cy="705.1" r="1.0" fill="#0c0c60" opacity="0.27"/><circle cx="69.4" cy="689.5" r="1.2" fill="#0c0c60" opacity="0.58"/><circle cx="65.1" cy="687.4" r="0.8" fill="#0c0c60" opacity="0.59"/><circle cx="60.0" cy="685.7" r="1.4" fill="#0c0c60" opacity="0.55"/><circle cx="111.9" cy="700.7" r="0.8" fill="#0c0c60" opacity="0.57"/><circle cx="95.7" cy="696.9" r="0.9" fill="#0c0c60" opacity="0.33"/><circle cx="73.3" cy="688.8" r="1.5" fill="#0c0c60" opacity="0.25"/><circle cx="73.8" cy="702.8" r="1.3" fill="#0c0c60" opacity="0.37"/><circle cx="58.7" cy="687.7" r="0.9" fill="#0c0c60" opacity="0.57"/><circle cx="68.1" cy="687.5" r="1.4" fill="#0c0c60" opacity="0.21"/><circle cx="77.0" cy="703.6" r="1.3" fill="#0c0c60" opacity="0.22"/></g><g filter="url(#bl08)"><circle cx="99.1" cy="694.1" r="0.9" fill="#40a0e0" opacity="0.66"/><circle cx="74.7" cy="686.5" r="1.0" fill="#40a0e0" opacity="0.55"/><circle cx="68.7" cy="693.9" r="0.7" fill="#40a0e0" opacity="0.41"/><circle cx="96.6" cy="701.2" r="1.0" fill="#40a0e0" opacity="0.31"/><circle cx="69.0" cy="688.9" r="1.0" fill="#40a0e0" opacity="0.68"/><circle cx="76.8" cy="686.7" r="0.7" fill="#40a0e0" opacity="0.50"/><circle cx="91.2" cy="701.7" r="0.9" fill="#40a0e0" opacity="0.61"/><circle cx="85.6" cy="691.2" r="0.7" fill="#40a0e0" opacity="0.44"/><circle cx="65.8" cy="693.7" r="0.6" fill="#40a0e0" opacity="0.33"/><circle cx="60.2" cy="687.7" r="0.7" fill="#40a0e0" opacity="0.69"/><circle cx="72.7" cy="681.9" r="0.5" fill="#40a0e0" opacity="0.50"/><circle cx="89.1" cy="694.8" r="0.6" fill="#40a0e0" opacity="0.47"/><circle cx="84.0" cy="697.9" r="0.9" fill="#40a0e0" opacity="0.64"/><circle cx="89.2" cy="688.0" r="0.9" fill="#40a0e0" opacity="0.42"/><circle cx="83.6" cy="691.5" r="0.9" fill="#40a0e0" opacity="0.38"/><circle cx="71.0" cy="684.7" r="0.6" fill="#40a0e0" opacity="0.65"/><circle cx="84.3" cy="690.8" r="0.7" fill="#40a0e0" opacity="0.70"/><circle cx="82.0" cy="688.0" r="0.9" fill="#40a0e0" opacity="0.56"/><circle cx="77.0" cy="698.7" r="0.9" fill="#40a0e0" opacity="0.67"/><circle cx="66.0" cy="681.9" r="1.0" fill="#40a0e0" opacity="0.53"/><circle cx="98.8" cy="696.4" r="0.9" fill="#40a0e0" opacity="0.48"/><circle cx="68.2" cy="695.0" r="1.0" fill="#40a0e0" opacity="0.34"/><circle cx="83.3" cy="696.6" r="0.6" fill="#40a0e0" opacity="0.45"/><circle cx="66.8" cy="682.5" r="0.6" fill="#40a0e0" opacity="0.54"/><circle cx="88.2" cy="689.4" r="0.5" fill="#40a0e0" opacity="0.43"/></g><g filter="url(#bl3)"><ellipse cx="82" cy="697" rx="31" ry="32" fill="none" stroke="#1e7a1e" stroke-width="5" opacity="0.3"/></g><g filter="url(#bl08)"><polyline points="75.8,666.6 77.3,666.3 78.7,666.1 80.2,666.0 81.6,665.9" stroke="#38c838" stroke-width="0.8" fill="none" opacity="0.31"/><polyline points="83.7,667.2 85.9,667.5 88.0,667.8 90.1,668.4 92.2,669.1" stroke="#38c838" stroke-width="0.8" fill="none" opacity="0.26"/><polyline points="58.2,675.4 59.9,673.6 61.7,671.9 63.6,670.4 65.6,669.1" stroke="#38c838" stroke-width="0.8" fill="none" opacity="0.25"/><polyline points="52.0,690.8 52.7,688.2 53.5,685.6 54.6,683.1 55.8,680.7" stroke="#38c838" stroke-width="0.8" fill="none" opacity="0.35"/><polyline points="56.0,681.5 57.7,678.7 59.7,676.2 61.9,673.9 64.4,671.8" stroke="#38c838" stroke-width="0.8" fill="none" opacity="0.49"/><polyline points="55.6,676.9 56.9,675.2 58.4,673.5 59.9,672.0 61.6,670.5" stroke="#38c838" stroke-width="0.8" fill="none" opacity="0.70"/><polyline points="56.4,676.9 57.4,675.6 58.5,674.4 59.6,673.2 60.8,672.1" stroke="#38c838" stroke-width="0.8" fill="none" opacity="0.31"/><polyline points="51.8,702.1 51.4,698.9 51.4,695.7 51.7,692.5 52.3,689.3" stroke="#38c838" stroke-width="0.8" fill="none" opacity="0.61"/><polyline points="59.4,675.4 61.6,673.2 64.0,671.2 66.6,669.4 69.4,668.0" stroke="#38c838" stroke-width="0.8" fill="none" opacity="0.29"/><polyline points="50.6,701.6 50.4,699.1 50.3,696.6 50.4,694.2 50.7,691.7" stroke="#38c838" stroke-width="0.8" fill="none" opacity="0.66"/><polyline points="51.7,696.1 51.8,693.6 52.2,691.1 52.8,688.6 53.5,686.2" stroke="#38c838" stroke-width="0.8" fill="none" opacity="0.46"/><polyline points="51.3,692.0 51.6,690.2 52.0,688.5 52.5,686.8 53.1,685.1" stroke="#38c838" stroke-width="0.8" fill="none" opacity="0.66"/><polyline points="49.6,694.6 49.8,692.2 50.2,689.9 50.8,687.5 51.5,685.3" stroke="#38c838" stroke-width="0.8" fill="none" opacity="0.68"/><polyline points="50.0,687.8 50.4,686.3 50.9,684.9 51.5,683.5 52.1,682.1" stroke="#38c838" stroke-width="0.8" fill="none" opacity="0.69"/><polyline points="61.9,669.8 63.0,669.0 64.1,668.3 65.2,667.6 66.3,667.0" stroke="#38c838" stroke-width="0.8" fill="none" opacity="0.40"/><polyline points="91.8,664.9 94.3,665.9 96.7,667.0 99.0,668.3 101.2,669.8" stroke="#38c838" stroke-width="0.8" fill="none" opacity="0.29"/><polyline points="83.1,665.5 84.7,665.6 86.3,665.8 87.8,666.1 89.3,666.4" stroke="#38c838" stroke-width="0.8" fill="none" opacity="0.62"/><polyline points="86.0,666.7 87.4,666.9 88.8,667.2 90.2,667.6 91.6,668.1" stroke="#38c838" stroke-width="0.8" fill="none" opacity="0.41"/><polyline points="66.3,671.7 67.9,670.7 69.5,669.8 71.2,669.0 72.9,668.4" stroke="#38c838" stroke-width="0.8" fill="none" opacity="0.33"/><polyline points="79.1,667.4 82.0,667.3 84.9,667.4 87.8,667.9 90.6,668.7" stroke="#38c838" stroke-width="0.8" fill="none" opacity="0.49"/><polyline points="81.1,663.3 82.4,663.3 83.6,663.3 84.8,663.4 86.1,663.6" stroke="#38c838" stroke-width="0.8" fill="none" opacity="0.27"/><polyline points="70.1,666.8 72.4,665.9 74.7,665.3 77.0,664.8 79.4,664.5" stroke="#38c838" stroke-width="0.8" fill="none" opacity="0.36"/><polyline points="60.2,674.8 61.9,673.1 63.8,671.6 65.8,670.2 67.9,668.9" stroke="#38c838" stroke-width="0.8" fill="none" opacity="0.53"/><polyline points="62.9,675.0 64.4,673.7 65.9,672.5 67.5,671.4 69.2,670.5" stroke="#38c838" stroke-width="0.8" fill="none" opacity="0.51"/><polyline points="62.8,670.2 64.2,669.2 65.7,668.3 67.1,667.4 68.7,666.6" stroke="#38c838" stroke-width="0.8" fill="none" opacity="0.59"/><polyline points="62.0,672.7 63.1,671.8 64.3,670.9 65.6,670.0 66.9,669.2" stroke="#38c838" stroke-width="0.8" fill="none" opacity="0.26"/><polyline points="53.2,693.5 53.5,691.5 53.9,689.6 54.5,687.6 55.2,685.8" stroke="#38c838" stroke-width="0.8" fill="none" opacity="0.43"/><polyline points="64.4,669.8 65.4,669.1 66.5,668.5 67.5,667.9 68.6,667.4" stroke="#38c838" stroke-width="0.8" fill="none" opacity="0.25"/><polyline points="79.5,665.0 82.4,664.9 85.2,665.1 88.1,665.6 90.9,666.3" stroke="#38c838" stroke-width="0.8" fill="none" opacity="0.24"/><polyline points="63.2,668.8 64.9,667.6 66.8,666.6 68.6,665.6 70.6,664.8" stroke="#38c838" stroke-width="0.8" fill="none" opacity="0.28"/><polyline points="88.4,664.5 91.8,665.4 95.0,666.7 98.1,668.3 101.1,670.3" stroke="#38c838" stroke-width="0.8" fill="none" opacity="0.61"/><polyline points="52.1,688.6 53.2,685.4 54.5,682.2 56.2,679.3 58.2,676.5" stroke="#38c838" stroke-width="0.8" fill="none" opacity="0.68"/><polyline points="92.6,665.4 94.0,665.9 95.4,666.6 96.8,667.3 98.2,668.0" stroke="#38c838" stroke-width="0.8" fill="none" opacity="0.67"/><polyline points="49.7,697.9 49.7,695.8 49.9,693.8 50.1,691.8 50.5,689.8" stroke="#38c838" stroke-width="0.8" fill="none" opacity="0.29"/><polyline points="91.3,664.8 93.0,665.4 94.7,666.1 96.3,666.8 97.9,667.7" stroke="#38c838" stroke-width="0.8" fill="none" opacity="0.28"/><polyline points="65.2,671.9 67.8,670.2 70.5,668.9 73.4,667.8 76.3,667.0" stroke="#38c838" stroke-width="0.8" fill="none" opacity="0.34"/><polyline points="65.9,672.5 67.3,671.5 68.8,670.7 70.3,669.9 71.8,669.2" stroke="#38c838" stroke-width="0.8" fill="none" opacity="0.30"/><polyline points="50.7,690.7 51.5,687.4 52.6,684.2 54.1,681.1 55.8,678.2" stroke="#38c838" stroke-width="0.8" fill="none" opacity="0.65"/><polyline points="53.6,690.8 54.2,688.1 55.2,685.4 56.3,682.9 57.7,680.5" stroke="#38c838" stroke-width="0.8" fill="none" opacity="0.47"/><polyline points="72.2,664.7 74.2,664.1 76.2,663.7 78.2,663.4 80.2,663.2" stroke="#38c838" stroke-width="0.8" fill="none" opacity="0.48"/></g><g filter="url(#bl08)"><polyline points="62.5,719.2 60.4,717.1 58.6,714.8 57.0,712.3 55.7,709.6" stroke="#38c838" stroke-width="0.8" fill="none" opacity="0.60"/><polyline points="58.4,720.0 57.0,718.4 55.7,716.7 54.5,714.9 53.5,713.0" stroke="#38c838" stroke-width="0.8" fill="none" opacity="0.29"/><polyline points="52.2,702.9 51.9,700.5 51.7,698.1 51.7,695.6 51.9,693.2" stroke="#38c838" stroke-width="0.8" fill="none" opacity="0.50"/><polyline points="66.0,725.8 64.7,725.0 63.4,724.1 62.1,723.2 60.9,722.1" stroke="#38c838" stroke-width="0.8" fill="none" opacity="0.20"/><polyline points="53.6,711.4 52.9,709.8 52.2,708.2 51.7,706.5 51.2,704.9" stroke="#38c838" stroke-width="0.8" fill="none" opacity="0.59"/><polyline points="61.6,719.8 59.8,718.0 58.2,716.0 56.7,713.8 55.5,711.6" stroke="#38c838" stroke-width="0.8" fill="none" opacity="0.18"/><polyline points="85.8,729.3 84.4,729.5 82.9,729.6 81.5,729.6 80.0,729.5" stroke="#38c838" stroke-width="0.8" fill="none" opacity="0.36"/><polyline points="64.8,721.4 62.5,719.4 60.4,717.3 58.5,714.9 56.9,712.4" stroke="#38c838" stroke-width="0.8" fill="none" opacity="0.28"/><polyline points="60.6,716.4 59.9,715.6 59.2,714.8 58.6,713.9 58.0,713.0" stroke="#38c838" stroke-width="0.8" fill="none" opacity="0.33"/><polyline points="82.2,727.6 80.4,727.6 78.6,727.4 76.8,727.1 75.0,726.8" stroke="#38c838" stroke-width="0.8" fill="none" opacity="0.43"/><polyline points="60.4,720.8 59.3,719.7 58.2,718.5 57.2,717.3 56.3,715.9" stroke="#38c838" stroke-width="0.8" fill="none" opacity="0.38"/><polyline points="80.9,727.7 77.8,727.4 74.8,726.8 71.8,725.9 68.9,724.6" stroke="#38c838" stroke-width="0.8" fill="none" opacity="0.24"/><polyline points="82.8,730.8 80.1,730.8 77.4,730.5 74.7,730.0 72.1,729.3" stroke="#38c838" stroke-width="0.8" fill="none" opacity="0.51"/><polyline points="69.4,723.5 68.0,722.8 66.7,722.0 65.4,721.0 64.2,720.1" stroke="#38c838" stroke-width="0.8" fill="none" opacity="0.45"/><polyline points="61.3,721.8 59.9,720.5 58.6,719.1 57.3,717.6 56.1,716.0" stroke="#38c838" stroke-width="0.8" fill="none" opacity="0.37"/><polyline points="53.4,705.3 52.8,702.6 52.4,699.9 52.3,697.2 52.4,694.4" stroke="#38c838" stroke-width="0.8" fill="none" opacity="0.56"/><polyline points="85.2,728.4 82.9,728.5 80.7,728.5 78.4,728.3 76.2,728.0" stroke="#38c838" stroke-width="0.8" fill="none" opacity="0.28"/><polyline points="84.4,726.5 81.7,726.6 79.1,726.4 76.5,726.0 73.9,725.3" stroke="#38c838" stroke-width="0.8" fill="none" opacity="0.41"/><polyline points="53.6,705.1 53.2,703.7 53.0,702.4 52.8,701.0 52.6,699.6" stroke="#38c838" stroke-width="0.8" fill="none" opacity="0.44"/><polyline points="63.0,724.3 60.9,722.6 58.9,720.7 57.1,718.7 55.5,716.5" stroke="#38c838" stroke-width="0.8" fill="none" opacity="0.25"/><polyline points="73.2,725.3 71.6,724.7 70.1,724.1 68.7,723.3 67.2,722.5" stroke="#38c838" stroke-width="0.8" fill="none" opacity="0.55"/><polyline points="57.2,711.6 56.0,709.2 55.1,706.8 54.4,704.3 53.8,701.8" stroke="#38c838" stroke-width="0.8" fill="none" opacity="0.53"/><polyline points="55.0,715.1 53.8,713.1 52.8,711.0 51.9,708.9 51.2,706.7" stroke="#38c838" stroke-width="0.8" fill="none" opacity="0.37"/><polyline points="76.7,727.2 75.4,726.9 74.2,726.6 73.0,726.2 71.8,725.8" stroke="#38c838" stroke-width="0.8" fill="none" opacity="0.20"/></g><g filter="url(#bl08)"><polyline points="113.8,693.3 114.0,696.3 113.9,699.3 113.6,702.2 113.0,705.1" stroke="#30a030" stroke-width="0.7" fill="none" opacity="0.31"/><polyline points="108.8,713.7 107.8,715.2 106.8,716.6 105.8,718.0 104.6,719.3" stroke="#30a030" stroke-width="0.7" fill="none" opacity="0.21"/><polyline points="105.2,716.3 103.8,718.1 102.2,719.7 100.6,721.1 98.8,722.5" stroke="#30a030" stroke-width="0.7" fill="none" opacity="0.26"/><polyline points="100.2,725.3 98.7,726.2 97.3,727.0 95.8,727.8 94.2,728.5" stroke="#30a030" stroke-width="0.7" fill="none" opacity="0.11"/><polyline points="113.3,689.0 113.6,690.7 113.9,692.4 114.1,694.1 114.2,695.9" stroke="#30a030" stroke-width="0.7" fill="none" opacity="0.34"/><polyline points="109.1,716.3 107.9,717.9 106.7,719.4 105.4,720.9 103.9,722.3" stroke="#30a030" stroke-width="0.7" fill="none" opacity="0.19"/><polyline points="112.4,688.0 113.2,691.2 113.6,694.5 113.6,697.8 113.4,701.2" stroke="#30a030" stroke-width="0.7" fill="none" opacity="0.27"/><polyline points="109.6,711.2 108.0,714.2 106.0,717.0 103.8,719.5 101.3,721.8" stroke="#30a030" stroke-width="0.7" fill="none" opacity="0.31"/><polyline points="108.6,712.7 107.0,715.4 105.1,717.8 103.0,720.1 100.7,722.1" stroke="#30a030" stroke-width="0.7" fill="none" opacity="0.28"/><polyline points="110.3,706.0 109.7,707.6 109.1,709.3 108.3,710.9 107.5,712.4" stroke="#30a030" stroke-width="0.7" fill="none" opacity="0.26"/><polyline points="106.7,680.9 108.2,683.6 109.4,686.4 110.3,689.4 110.9,692.4" stroke="#30a030" stroke-width="0.7" fill="none" opacity="0.11"/><polyline points="108.3,681.7 109.7,684.6 110.8,687.6 111.6,690.8 112.1,694.0" stroke="#30a030" stroke-width="0.7" fill="none" opacity="0.14"/></g><g filter="url(#bl08)"><path d="M94.6,671.7 Q76.0,679.8 53.4,685.3" stroke="#40d040" stroke-width="0.7" fill="none" opacity="0.17"/><path d="M95.2,669.7 Q91.0,687.1 80.3,695.6" stroke="#40d040" stroke-width="0.7" fill="none" opacity="0.45"/><path d="M92.8,669.6 Q90.2,689.1 95.9,714.2" stroke="#40d040" stroke-width="0.7" fill="none" opacity="0.45"/><path d="M93.4,669.8 Q96.4,689.2 91.0,704.3" stroke="#40d040" stroke-width="0.7" fill="none" opacity="0.18"/><path d="M92.6,670.3 Q89.0,679.9 88.4,690.6" stroke="#40d040" stroke-width="0.7" fill="none" opacity="0.25"/><path d="M94.0,672.1 Q88.0,689.0 86.4,695.8" stroke="#40d040" stroke-width="0.7" fill="none" opacity="0.37"/><path d="M93.5,671.6 Q73.0,687.4 53.5,697.2" stroke="#40d040" stroke-width="0.7" fill="none" opacity="0.34"/><path d="M93.0,669.5 Q73.3,695.1 62.4,711.6" stroke="#40d040" stroke-width="0.7" fill="none" opacity="0.22"/><path d="M94.0,671.9 Q85.3,693.0 88.6,715.3" stroke="#40d040" stroke-width="0.7" fill="none" opacity="0.21"/><path d="M95.3,670.4 Q88.9,680.2 75.7,695.1" stroke="#40d040" stroke-width="0.7" fill="none" opacity="0.23"/><path d="M92.7,671.9 Q85.1,687.1 85.6,699.9" stroke="#40d040" stroke-width="0.7" fill="none" opacity="0.39"/><path d="M93.7,672.2 Q90.2,686.4 89.8,704.1" stroke="#40d040" stroke-width="0.7" fill="none" opacity="0.18"/><path d="M95.2,671.0 Q90.8,675.1 94.6,684.8" stroke="#40d040" stroke-width="0.7" fill="none" opacity="0.28"/><path d="M94.8,671.8 Q93.7,681.6 94.4,691.5" stroke="#40d040" stroke-width="0.7" fill="none" opacity="0.38"/><path d="M94.5,671.7 Q77.2,686.8 68.7,694.5" stroke="#40d040" stroke-width="0.7" fill="none" opacity="0.21"/><path d="M93.9,672.2 Q84.5,685.4 73.1,708.7" stroke="#40d040" stroke-width="0.7" fill="none" opacity="0.23"/><path d="M93.0,670.0 Q80.0,686.4 61.2,693.6" stroke="#40d040" stroke-width="0.7" fill="none" opacity="0.24"/><path d="M93.1,672.4 Q76.8,683.8 67.7,700.7" stroke="#40d040" stroke-width="0.7" fill="none" opacity="0.41"/><path d="M95.5,671.9 Q70.7,691.5 56.9,714.8" stroke="#40d040" stroke-width="0.7" fill="none" opacity="0.41"/><path d="M93.1,670.7 Q85.1,675.9 72.9,690.3" stroke="#40d040" stroke-width="0.7" fill="none" opacity="0.16"/><path d="M94.4,670.9 Q84.9,690.2 71.2,709.3" stroke="#40d040" stroke-width="0.7" fill="none" opacity="0.20"/><path d="M93.8,671.2 Q90.4,688.9 81.0,697.0" stroke="#40d040" stroke-width="0.7" fill="none" opacity="0.41"/><path d="M94.8,671.6 Q85.8,685.7 72.2,691.3" stroke="#40d040" stroke-width="0.7" fill="none" opacity="0.45"/><path d="M94.4,669.8 Q88.8,685.5 84.6,704.5" stroke="#40d040" stroke-width="0.7" fill="none" opacity="0.30"/><path d="M93.8,670.9 Q93.3,685.9 89.6,706.8" stroke="#40d040" stroke-width="0.7" fill="none" opacity="0.37"/><path d="M94.5,671.8 Q88.0,684.5 71.6,705.6" stroke="#40d040" stroke-width="0.7" fill="none" opacity="0.29"/><path d="M93.0,671.8 Q79.2,693.6 75.5,715.2" stroke="#40d040" stroke-width="0.7" fill="none" opacity="0.48"/><path d="M94.7,671.0 Q86.4,679.6 76.9,687.2" stroke="#40d040" stroke-width="0.7" fill="none" opacity="0.37"/><path d="M93.1,671.6 Q91.8,691.2 91.8,700.7" stroke="#40d040" stroke-width="0.7" fill="none" opacity="0.29"/><path d="M92.7,670.3 Q97.1,677.7 88.6,687.9" stroke="#40d040" stroke-width="0.7" fill="none" opacity="0.29"/><path d="M93.6,670.3 Q72.4,686.6 52.6,697.4" stroke="#40d040" stroke-width="0.7" fill="none" opacity="0.23"/><path d="M94.9,670.7 Q91.1,689.2 87.6,714.1" stroke="#40d040" stroke-width="0.7" fill="none" opacity="0.22"/><path d="M93.9,671.2 Q79.8,691.5 58.2,708.9" stroke="#40d040" stroke-width="0.7" fill="none" opacity="0.23"/><path d="M94.9,670.9 Q97.8,687.0 98.3,695.3" stroke="#40d040" stroke-width="0.7" fill="none" opacity="0.25"/><path d="M95.1,670.3 Q90.2,677.8 78.3,688.0" stroke="#40d040" stroke-width="0.7" fill="none" opacity="0.28"/><path d="M94.7,670.3 Q75.3,678.4 64.2,697.6" stroke="#40d040" stroke-width="0.7" fill="none" opacity="0.24"/><path d="M94.5,670.6 Q79.4,686.8 66.5,699.3" stroke="#40d040" stroke-width="0.7" fill="none" opacity="0.48"/><path d="M94.9,669.9 Q97.4,683.3 93.0,685.8" stroke="#40d040" stroke-width="0.7" fill="none" opacity="0.44"/><path d="M94.5,670.3 Q82.3,683.2 82.4,684.5" stroke="#40d040" stroke-width="0.7" fill="none" opacity="0.19"/><path d="M93.0,672.2 Q79.7,679.4 58.9,691.5" stroke="#40d040" stroke-width="0.7" fill="none" opacity="0.43"/></g><g filter="url(#bl08)"><path d="M72.5,722.2 Q72.5,718.1 70.4,708.5" stroke="#40d040" stroke-width="0.7" fill="none" opacity="0.38"/><path d="M72.7,720.8 Q90.3,704.0 103.9,686.3" stroke="#40d040" stroke-width="0.7" fill="none" opacity="0.41"/><path d="M72.0,719.7 Q77.7,700.4 89.8,688.5" stroke="#40d040" stroke-width="0.7" fill="none" opacity="0.28"/><path d="M73.1,719.5 Q70.6,708.8 69.2,695.7" stroke="#40d040" stroke-width="0.7" fill="none" opacity="0.40"/><path d="M71.6,720.8 Q80.7,713.6 85.4,698.0" stroke="#40d040" stroke-width="0.7" fill="none" opacity="0.44"/><path d="M72.3,721.5 Q70.5,705.0 65.8,700.4" stroke="#40d040" stroke-width="0.7" fill="none" opacity="0.43"/><path d="M73.2,719.6 Q75.4,716.0 78.5,711.4" stroke="#40d040" stroke-width="0.7" fill="none" opacity="0.36"/><path d="M71.9,721.1 Q87.0,704.3 93.3,690.8" stroke="#40d040" stroke-width="0.7" fill="none" opacity="0.38"/><path d="M73.0,720.4 Q71.3,708.1 72.5,693.9" stroke="#40d040" stroke-width="0.7" fill="none" opacity="0.40"/><path d="M73.4,721.5 Q74.4,708.6 82.2,696.1" stroke="#40d040" stroke-width="0.7" fill="none" opacity="0.38"/><path d="M72.4,721.9 Q72.9,706.6 78.5,690.1" stroke="#40d040" stroke-width="0.7" fill="none" opacity="0.15"/><path d="M71.4,719.5 Q85.6,709.3 98.1,708.3" stroke="#40d040" stroke-width="0.7" fill="none" opacity="0.19"/><path d="M73.2,721.3 Q91.9,713.7 108.1,699.5" stroke="#40d040" stroke-width="0.7" fill="none" opacity="0.33"/><path d="M71.1,721.5 Q83.8,713.8 93.3,702.3" stroke="#40d040" stroke-width="0.7" fill="none" opacity="0.28"/><path d="M72.8,722.2 Q82.2,696.6 100.1,683.2" stroke="#40d040" stroke-width="0.7" fill="none" opacity="0.34"/><path d="M71.3,720.4 Q79.7,714.4 80.4,706.3" stroke="#40d040" stroke-width="0.7" fill="none" opacity="0.27"/><path d="M70.7,721.2 Q76.7,712.6 77.9,693.8" stroke="#40d040" stroke-width="0.7" fill="none" opacity="0.15"/><path d="M71.8,719.5 Q70.9,718.5 67.9,705.9" stroke="#40d040" stroke-width="0.7" fill="none" opacity="0.26"/><path d="M71.7,719.8 Q87.6,715.2 91.6,710.0" stroke="#40d040" stroke-width="0.7" fill="none" opacity="0.34"/><path d="M72.6,719.9 Q66.5,697.0 72.6,684.9" stroke="#40d040" stroke-width="0.7" fill="none" opacity="0.44"/><path d="M72.7,720.2 Q64.8,708.6 66.4,707.8" stroke="#40d040" stroke-width="0.7" fill="none" opacity="0.37"/><path d="M73.1,721.7 Q75.0,703.9 71.4,681.6" stroke="#40d040" stroke-width="0.7" fill="none" opacity="0.16"/><path d="M71.3,722.4 Q82.2,717.0 93.4,702.7" stroke="#40d040" stroke-width="0.7" fill="none" opacity="0.36"/><path d="M70.7,720.4 Q69.1,704.5 62.6,680.5" stroke="#40d040" stroke-width="0.7" fill="none" opacity="0.36"/><path d="M71.6,721.2 Q71.0,709.0 70.3,707.6" stroke="#40d040" stroke-width="0.7" fill="none" opacity="0.27"/><path d="M72.4,721.4 Q87.5,701.2 95.8,684.6" stroke="#40d040" stroke-width="0.7" fill="none" opacity="0.27"/><path d="M72.2,720.4 Q82.0,716.5 81.3,705.2" stroke="#40d040" stroke-width="0.7" fill="none" opacity="0.15"/><path d="M72.3,722.4 Q95.3,709.7 110.7,702.5" stroke="#40d040" stroke-width="0.7" fill="none" opacity="0.40"/><path d="M71.6,721.6 Q81.2,710.1 92.1,689.9" stroke="#40d040" stroke-width="0.7" fill="none" opacity="0.32"/><path d="M71.3,720.8 Q86.8,707.4 106.8,705.8" stroke="#40d040" stroke-width="0.7" fill="none" opacity="0.32"/><path d="M72.9,722.1 Q81.9,718.7 102.8,708.4" stroke="#40d040" stroke-width="0.7" fill="none" opacity="0.32"/><path d="M73.2,720.5 Q77.5,716.3 75.7,707.2" stroke="#40d040" stroke-width="0.7" fill="none" opacity="0.16"/><path d="M73.3,720.2 Q77.2,716.3 89.7,705.5" stroke="#40d040" stroke-width="0.7" fill="none" opacity="0.33"/><path d="M72.8,721.9 Q80.4,705.0 95.9,694.9" stroke="#40d040" stroke-width="0.7" fill="none" opacity="0.28"/><path d="M72.2,722.2 Q72.5,710.2 66.4,705.8" stroke="#40d040" stroke-width="0.7" fill="none" opacity="0.41"/><path d="M71.1,720.0 Q81.1,704.4 88.1,695.3" stroke="#40d040" stroke-width="0.7" fill="none" opacity="0.36"/><path d="M70.9,719.6 Q74.9,709.7 80.1,698.1" stroke="#40d040" stroke-width="0.7" fill="none" opacity="0.45"/><path d="M71.0,721.3 Q77.9,705.6 80.7,683.4" stroke="#40d040" stroke-width="0.7" fill="none" opacity="0.24"/><path d="M73.1,721.0 Q74.4,706.7 88.0,680.7" stroke="#40d040" stroke-width="0.7" fill="none" opacity="0.31"/><path d="M72.8,722.0 Q72.7,718.3 75.1,704.9" stroke="#40d040" stroke-width="0.7" fill="none" opacity="0.44"/></g><g filter="url(#bl08)"><line x1="94.0" y1="671.0" x2="91.5" y2="667.4" stroke="#48d840" stroke-width="0.7" opacity="0.26"/><line x1="94.0" y1="671.0" x2="90.4" y2="667.7" stroke="#48d840" stroke-width="0.7" opacity="0.20"/><line x1="94.0" y1="671.0" x2="98.4" y2="659.1" stroke="#48d840" stroke-width="0.7" opacity="0.37"/><line x1="94.0" y1="671.0" x2="107.1" y2="671.1" stroke="#48d840" stroke-width="0.7" opacity="0.21"/><line x1="94.0" y1="671.0" x2="97.7" y2="663.9" stroke="#48d840" stroke-width="0.7" opacity="0.23"/><line x1="94.0" y1="671.0" x2="100.6" y2="671.3" stroke="#48d840" stroke-width="0.7" opacity="0.42"/><line x1="94.0" y1="671.0" x2="101.8" y2="659.9" stroke="#48d840" stroke-width="0.7" opacity="0.46"/><line x1="94.0" y1="671.0" x2="92.6" y2="662.6" stroke="#48d840" stroke-width="0.7" opacity="0.25"/><line x1="94.0" y1="671.0" x2="107.9" y2="671.9" stroke="#48d840" stroke-width="0.7" opacity="0.27"/><line x1="94.0" y1="671.0" x2="87.7" y2="669.1" stroke="#48d840" stroke-width="0.7" opacity="0.33"/><line x1="94.0" y1="671.0" x2="106.9" y2="669.3" stroke="#48d840" stroke-width="0.7" opacity="0.53"/><line x1="94.0" y1="671.0" x2="82.7" y2="667.2" stroke="#48d840" stroke-width="0.7" opacity="0.48"/><line x1="94.0" y1="671.0" x2="102.2" y2="659.8" stroke="#48d840" stroke-width="0.7" opacity="0.20"/><line x1="94.0" y1="671.0" x2="84.7" y2="664.2" stroke="#48d840" stroke-width="0.7" opacity="0.57"/><line x1="94.0" y1="671.0" x2="98.7" y2="665.8" stroke="#48d840" stroke-width="0.7" opacity="0.43"/><line x1="94.0" y1="671.0" x2="98.2" y2="668.2" stroke="#48d840" stroke-width="0.7" opacity="0.32"/><line x1="94.0" y1="671.0" x2="91.1" y2="666.6" stroke="#48d840" stroke-width="0.7" opacity="0.38"/><line x1="94.0" y1="671.0" x2="89.1" y2="666.9" stroke="#48d840" stroke-width="0.7" opacity="0.24"/><line x1="94.0" y1="671.0" x2="96.8" y2="667.9" stroke="#48d840" stroke-width="0.7" opacity="0.48"/><line x1="94.0" y1="671.0" x2="90.9" y2="667.9" stroke="#48d840" stroke-width="0.7" opacity="0.57"/></g><g filter="url(#bl08)"><line x1="72.0" y1="721.0" x2="65.4" y2="732.6" stroke="#48d840" stroke-width="0.7" opacity="0.54"/><line x1="72.0" y1="721.0" x2="69.3" y2="716.3" stroke="#48d840" stroke-width="0.7" opacity="0.37"/><line x1="72.0" y1="721.0" x2="70.3" y2="734.2" stroke="#48d840" stroke-width="0.7" opacity="0.53"/><line x1="72.0" y1="721.0" x2="63.7" y2="719.1" stroke="#48d840" stroke-width="0.7" opacity="0.32"/><line x1="72.0" y1="721.0" x2="66.1" y2="714.5" stroke="#48d840" stroke-width="0.7" opacity="0.44"/><line x1="72.0" y1="721.0" x2="70.3" y2="727.0" stroke="#48d840" stroke-width="0.7" opacity="0.20"/><line x1="72.0" y1="721.0" x2="63.6" y2="716.5" stroke="#48d840" stroke-width="0.7" opacity="0.24"/><line x1="72.0" y1="721.0" x2="68.3" y2="715.4" stroke="#48d840" stroke-width="0.7" opacity="0.35"/><line x1="72.0" y1="721.0" x2="69.9" y2="727.4" stroke="#48d840" stroke-width="0.7" opacity="0.53"/><line x1="72.0" y1="721.0" x2="67.6" y2="724.6" stroke="#48d840" stroke-width="0.7" opacity="0.39"/><line x1="72.0" y1="721.0" x2="62.4" y2="729.8" stroke="#48d840" stroke-width="0.7" opacity="0.23"/><line x1="72.0" y1="721.0" x2="70.9" y2="716.6" stroke="#48d840" stroke-width="0.7" opacity="0.56"/><line x1="72.0" y1="721.0" x2="66.3" y2="718.9" stroke="#48d840" stroke-width="0.7" opacity="0.38"/><line x1="72.0" y1="721.0" x2="67.6" y2="725.9" stroke="#48d840" stroke-width="0.7" opacity="0.26"/><line x1="72.0" y1="721.0" x2="60.5" y2="728.9" stroke="#48d840" stroke-width="0.7" opacity="0.60"/><line x1="72.0" y1="721.0" x2="70.0" y2="716.4" stroke="#48d840" stroke-width="0.7" opacity="0.30"/><line x1="72.0" y1="721.0" x2="69.8" y2="717.0" stroke="#48d840" stroke-width="0.7" opacity="0.49"/><line x1="72.0" y1="721.0" x2="62.6" y2="731.1" stroke="#48d840" stroke-width="0.7" opacity="0.19"/><line x1="72.0" y1="721.0" x2="66.8" y2="715.7" stroke="#48d840" stroke-width="0.7" opacity="0.24"/><line x1="72.0" y1="721.0" x2="74.1" y2="733.1" stroke="#48d840" stroke-width="0.7" opacity="0.40"/></g><g filter="url(#bl08)"><circle cx="122.4" cy="665.0" r="1.4" fill="#30b830" opacity="0.52"/><circle cx="130.3" cy="656.1" r="0.8" fill="#30b830" opacity="0.82"/><circle cx="132.1" cy="658.4" r="0.7" fill="#30b830" opacity="0.45"/><circle cx="128.7" cy="668.2" r="0.8" fill="#30b830" opacity="0.51"/><circle cx="127.5" cy="675.3" r="1.3" fill="#30b830" opacity="0.72"/><circle cx="131.2" cy="665.6" r="1.2" fill="#30b830" opacity="0.43"/><circle cx="132.9" cy="663.3" r="1.4" fill="#30b830" opacity="0.88"/><circle cx="129.8" cy="651.8" r="1.4" fill="#30b830" opacity="0.66"/><circle cx="134.2" cy="661.2" r="0.8" fill="#30b830" opacity="0.86"/><circle cx="126.9" cy="656.4" r="0.9" fill="#30b830" opacity="0.73"/><circle cx="119.1" cy="667.3" r="1.0" fill="#30b830" opacity="0.68"/><circle cx="119.8" cy="674.1" r="1.3" fill="#30b830" opacity="0.88"/><circle cx="122.9" cy="674.6" r="0.9" fill="#30b830" opacity="0.81"/><circle cx="134.2" cy="669.1" r="1.1" fill="#30b830" opacity="0.69"/><circle cx="130.4" cy="652.1" r="1.5" fill="#30b830" opacity="0.52"/><circle cx="121.2" cy="677.9" r="0.6" fill="#30b830" opacity="0.45"/><circle cx="131.9" cy="658.3" r="0.6" fill="#30b830" opacity="0.73"/><circle cx="128.1" cy="669.0" r="1.2" fill="#30b830" opacity="0.46"/><circle cx="131.5" cy="676.3" r="0.6" fill="#30b830" opacity="0.47"/><circle cx="126.9" cy="668.0" r="0.9" fill="#30b830" opacity="0.47"/><circle cx="127.7" cy="655.6" r="1.1" fill="#30b830" opacity="0.87"/><circle cx="121.0" cy="669.5" r="1.3" fill="#30b830" opacity="0.49"/><circle cx="125.7" cy="665.0" r="1.4" fill="#30b830" opacity="0.69"/><circle cx="122.8" cy="682.5" r="1.3" fill="#30b830" opacity="0.59"/><circle cx="123.9" cy="661.8" r="1.0" fill="#30b830" opacity="0.94"/><circle cx="129.9" cy="680.5" r="0.6" fill="#30b830" opacity="0.68"/><circle cx="123.5" cy="664.7" r="1.2" fill="#30b830" opacity="0.60"/><circle cx="130.0" cy="653.7" r="1.0" fill="#30b830" opacity="0.68"/><circle cx="133.1" cy="673.7" r="1.3" fill="#30b830" opacity="0.89"/><circle cx="130.6" cy="660.6" r="1.2" fill="#30b830" opacity="0.55"/><circle cx="125.2" cy="682.3" r="1.2" fill="#30b830" opacity="0.54"/><circle cx="127.7" cy="665.8" r="1.5" fill="#30b830" opacity="0.56"/><circle cx="123.1" cy="672.4" r="0.7" fill="#30b830" opacity="0.73"/><circle cx="134.1" cy="669.7" r="0.8" fill="#30b830" opacity="0.66"/><circle cx="129.6" cy="656.3" r="0.7" fill="#30b830" opacity="0.47"/><circle cx="124.3" cy="664.3" r="0.9" fill="#30b830" opacity="0.53"/><circle cx="120.2" cy="668.4" r="1.4" fill="#30b830" opacity="0.74"/><circle cx="127.2" cy="673.2" r="0.8" fill="#30b830" opacity="0.79"/><circle cx="126.1" cy="669.5" r="1.2" fill="#30b830" opacity="0.66"/><circle cx="125.5" cy="658.8" r="0.8" fill="#30b830" opacity="0.68"/><circle cx="124.7" cy="670.5" r="0.6" fill="#30b830" opacity="0.59"/><circle cx="134.2" cy="660.3" r="1.1" fill="#30b830" opacity="0.67"/><circle cx="122.2" cy="676.5" r="0.7" fill="#30b830" opacity="0.44"/><circle cx="133.2" cy="667.0" r="0.7" fill="#30b830" opacity="0.61"/><circle cx="124.7" cy="675.7" r="0.7" fill="#30b830" opacity="0.52"/><circle cx="122.5" cy="661.6" r="0.9" fill="#30b830" opacity="0.77"/><circle cx="126.8" cy="680.0" r="1.3" fill="#30b830" opacity="0.68"/><circle cx="129.3" cy="676.8" r="1.3" fill="#30b830" opacity="0.66"/><circle cx="130.3" cy="675.8" r="1.4" fill="#30b830" opacity="0.47"/><circle cx="130.7" cy="671.6" r="1.0" fill="#30b830" opacity="0.93"/><circle cx="128.6" cy="665.5" r="1.3" fill="#30b830" opacity="0.88"/><circle cx="129.4" cy="664.3" r="1.0" fill="#30b830" opacity="0.65"/><circle cx="131.7" cy="661.7" r="1.0" fill="#30b830" opacity="0.71"/><circle cx="126.2" cy="661.7" r="1.3" fill="#30b830" opacity="0.87"/><circle cx="127.3" cy="666.1" r="0.8" fill="#30b830" opacity="0.57"/><circle cx="121.0" cy="669.5" r="1.1" fill="#30b830" opacity="0.45"/><circle cx="134.7" cy="663.3" r="1.4" fill="#30b830" opacity="0.86"/><circle cx="123.4" cy="681.5" r="0.6" fill="#30b830" opacity="0.43"/><circle cx="128.0" cy="668.1" r="1.4" fill="#30b830" opacity="0.83"/><circle cx="124.7" cy="684.8" r="1.1" fill="#30b830" opacity="0.68"/></g><g filter="url(#bl08)"><polyline points="124.1,663.6 124.5,661.8 125.1,660.1 125.7,658.4 126.4,656.8" stroke="#45d840" stroke-width="0.9" fill="none" opacity="0.64"/><polyline points="120.7,675.7 120.3,672.4 120.2,669.1 120.5,665.8 121.1,662.5" stroke="#45d840" stroke-width="0.9" fill="none" opacity="0.60"/><polyline points="126.2,683.7 125.4,682.0 124.8,680.3 124.2,678.6 123.8,676.9" stroke="#45d840" stroke-width="0.9" fill="none" opacity="0.62"/><polyline points="117.5,666.9 117.9,663.4 118.7,660.1 119.8,656.8 121.2,653.7" stroke="#45d840" stroke-width="0.9" fill="none" opacity="0.58"/><polyline points="117.1,672.6 117.0,669.7 117.2,666.9 117.5,664.1 118.1,661.3" stroke="#45d840" stroke-width="0.9" fill="none" opacity="0.49"/><polyline points="125.3,669.0 125.5,666.5 125.9,664.0 126.6,661.5 127.4,659.1" stroke="#45d840" stroke-width="0.9" fill="none" opacity="0.47"/><polyline points="126.5,653.4 128.1,651.0 129.9,648.9 131.9,646.9 134.1,645.2" stroke="#45d840" stroke-width="0.9" fill="none" opacity="0.34"/><polyline points="122.3,654.6 123.7,652.1 125.2,649.8 127.0,647.6 128.9,645.6" stroke="#45d840" stroke-width="0.9" fill="none" opacity="0.89"/><polyline points="128.1,657.9 128.9,656.3 129.8,654.9 130.8,653.5 131.8,652.1" stroke="#45d840" stroke-width="0.9" fill="none" opacity="0.45"/><polyline points="125.1,669.6 125.2,667.7 125.4,665.7 125.8,663.8 126.3,662.0" stroke="#45d840" stroke-width="0.9" fill="none" opacity="0.38"/><polyline points="123.8,665.5 124.2,663.3 124.8,661.1 125.5,658.9 126.4,656.9" stroke="#45d840" stroke-width="0.9" fill="none" opacity="0.90"/><polyline points="123.3,665.2 123.5,664.1 123.7,663.0 123.9,661.9 124.3,660.9" stroke="#45d840" stroke-width="0.9" fill="none" opacity="0.77"/><polyline points="127.6,675.9 127.2,673.7 127.0,671.6 127.0,669.4 127.1,667.3" stroke="#45d840" stroke-width="0.9" fill="none" opacity="0.46"/><polyline points="122.9,657.1 123.9,654.9 125.1,652.8 126.4,650.7 127.9,648.8" stroke="#45d840" stroke-width="0.9" fill="none" opacity="0.39"/><polyline points="124.3,670.1 124.4,668.0 124.6,665.9 125.0,663.8 125.5,661.8" stroke="#45d840" stroke-width="0.9" fill="none" opacity="0.68"/><polyline points="121.3,668.8 121.6,665.5 122.2,662.2 123.1,659.0 124.4,656.0" stroke="#45d840" stroke-width="0.9" fill="none" opacity="0.53"/><polyline points="122.6,684.5 122.0,683.2 121.5,681.8 121.0,680.3 120.6,678.9" stroke="#45d840" stroke-width="0.9" fill="none" opacity="0.34"/><polyline points="125.1,684.2 124.5,682.9 123.9,681.6 123.4,680.2 123.0,678.9" stroke="#45d840" stroke-width="0.9" fill="none" opacity="0.79"/><polyline points="126.6,666.5 127.0,664.1 127.6,661.8 128.5,659.5 129.5,657.3" stroke="#45d840" stroke-width="0.9" fill="none" opacity="0.28"/><polyline points="121.5,659.6 122.1,657.8 122.8,656.1 123.6,654.4 124.5,652.8" stroke="#45d840" stroke-width="0.9" fill="none" opacity="0.49"/><polyline points="127.9,680.2 127.5,678.9 127.0,677.5 126.7,676.2 126.4,674.8" stroke="#45d840" stroke-width="0.9" fill="none" opacity="0.84"/><polyline points="122.6,667.0 122.9,665.3 123.2,663.5 123.6,661.8 124.1,660.1" stroke="#45d840" stroke-width="0.9" fill="none" opacity="0.51"/><polyline points="125.3,686.0 124.0,683.2 122.8,680.3 122.0,677.4 121.5,674.3" stroke="#45d840" stroke-width="0.9" fill="none" opacity="0.87"/><polyline points="124.6,672.0 124.5,669.8 124.6,667.6 124.9,665.4 125.3,663.2" stroke="#45d840" stroke-width="0.9" fill="none" opacity="0.30"/></g><g filter="url(#bl2)"><ellipse cx="38" cy="728" rx="5" ry="12" fill="#1818a0" opacity="0.45"/></g><g filter="url(#bl08)"><polyline points="34.5,745.3 33.3,745.9 32.0,746.2 30.7,746.4 29.3,746.4" stroke="#3ad03a" stroke-width="1.0" fill="none" opacity="0.84"/><polyline points="38.4,743.5 37.7,744.1 37.0,744.7 36.3,745.3 35.5,745.7" stroke="#3ad03a" stroke-width="1.0" fill="none" opacity="0.87"/><polyline points="43.1,730.1 42.8,732.1 42.3,734.0 41.7,735.9 41.0,737.6" stroke="#3ad03a" stroke-width="1.0" fill="none" opacity="0.52"/><polyline points="40.2,739.6 39.7,740.4 39.2,741.1 38.7,741.8 38.2,742.4" stroke="#3ad03a" stroke-width="1.0" fill="none" opacity="0.82"/><polyline points="43.1,729.6 42.9,731.4 42.5,733.1 42.1,734.8 41.5,736.4" stroke="#3ad03a" stroke-width="1.0" fill="none" opacity="0.38"/><polyline points="45.2,723.3 45.3,724.4 45.4,725.4 45.4,726.5 45.4,727.5" stroke="#3ad03a" stroke-width="1.0" fill="none" opacity="0.45"/><polyline points="43.4,733.4 43.2,734.2 42.9,735.0 42.7,735.8 42.4,736.6" stroke="#3ad03a" stroke-width="1.0" fill="none" opacity="0.51"/><polyline points="42.8,725.8 42.9,726.6 42.9,727.3 42.8,728.1 42.8,728.8" stroke="#3ad03a" stroke-width="1.0" fill="none" opacity="0.79"/><polyline points="42.8,723.4 43.0,724.4 43.0,725.4 43.1,726.4 43.1,727.4" stroke="#3ad03a" stroke-width="1.0" fill="none" opacity="0.45"/><polyline points="42.9,717.8 43.2,718.5 43.4,719.2 43.6,719.9 43.8,720.6" stroke="#3ad03a" stroke-width="1.0" fill="none" opacity="0.49"/><polyline points="40.0,715.4 40.7,716.7 41.3,718.1 41.7,719.6 42.1,721.1" stroke="#3ad03a" stroke-width="1.0" fill="none" opacity="0.44"/><polyline points="37.6,743.6 37.0,744.1 36.5,744.5 35.9,744.9 35.4,745.3" stroke="#3ad03a" stroke-width="1.0" fill="none" opacity="0.80"/><polyline points="38.2,742.6 37.7,743.1 37.2,743.6 36.6,744.1 36.1,744.5" stroke="#3ad03a" stroke-width="1.0" fill="none" opacity="0.73"/><polyline points="43.0,724.6 43.1,726.6 43.1,728.6 42.9,730.6 42.5,732.6" stroke="#3ad03a" stroke-width="1.0" fill="none" opacity="0.87"/></g><g filter="url(#bl08)"><line x1="84.3" y1="682.8" x2="81.5" y2="677.8" stroke="#3cc43c" stroke-width="0.6" opacity="0.28"/><line x1="71.6" y1="717.8" x2="88.6" y2="690.1" stroke="#3cc43c" stroke-width="0.6" opacity="0.16"/><line x1="89.6" y1="682.1" x2="103.4" y2="677.4" stroke="#3cc43c" stroke-width="0.6" opacity="0.23"/><line x1="86.2" y1="685.1" x2="98.1" y2="691.0" stroke="#3cc43c" stroke-width="0.6" opacity="0.26"/><line x1="87.5" y1="687.2" x2="78.3" y2="675.5" stroke="#3cc43c" stroke-width="0.6" opacity="0.14"/><line x1="102.3" y1="687.7" x2="92.5" y2="676.7" stroke="#3cc43c" stroke-width="0.6" opacity="0.24"/><line x1="76.8" y1="697.0" x2="73.4" y2="674.4" stroke="#3cc43c" stroke-width="0.6" opacity="0.18"/><line x1="69.8" y1="677.6" x2="95.3" y2="685.7" stroke="#3cc43c" stroke-width="0.6" opacity="0.20"/><line x1="105.3" y1="711.3" x2="103.9" y2="715.8" stroke="#3cc43c" stroke-width="0.6" opacity="0.13"/><line x1="72.4" y1="672.5" x2="93.3" y2="705.5" stroke="#3cc43c" stroke-width="0.6" opacity="0.19"/><line x1="79.5" y1="705.3" x2="94.4" y2="683.9" stroke="#3cc43c" stroke-width="0.6" opacity="0.31"/><line x1="76.3" y1="703.7" x2="67.4" y2="677.0" stroke="#3cc43c" stroke-width="0.6" opacity="0.33"/><line x1="96.2" y1="708.1" x2="60.1" y2="673.1" stroke="#3cc43c" stroke-width="0.6" opacity="0.14"/><line x1="68.3" y1="686.8" x2="77.8" y2="673.0" stroke="#3cc43c" stroke-width="0.6" opacity="0.18"/><line x1="91.2" y1="680.3" x2="101.7" y2="700.6" stroke="#3cc43c" stroke-width="0.6" opacity="0.28"/><line x1="71.2" y1="693.6" x2="93.6" y2="689.2" stroke="#3cc43c" stroke-width="0.6" opacity="0.10"/><line x1="101.4" y1="711.4" x2="72.9" y2="673.2" stroke="#3cc43c" stroke-width="0.6" opacity="0.31"/><line x1="89.6" y1="673.5" x2="70.7" y2="676.8" stroke="#3cc43c" stroke-width="0.6" opacity="0.30"/><line x1="68.9" y1="718.6" x2="97.0" y2="675.5" stroke="#3cc43c" stroke-width="0.6" opacity="0.27"/><line x1="78.5" y1="709.9" x2="101.1" y2="685.6" stroke="#3cc43c" stroke-width="0.6" opacity="0.12"/><line x1="107.2" y1="693.0" x2="106.4" y2="707.0" stroke="#3cc43c" stroke-width="0.6" opacity="0.28"/><line x1="101.2" y1="703.7" x2="81.5" y2="673.8" stroke="#3cc43c" stroke-width="0.6" opacity="0.27"/><line x1="80.3" y1="697.6" x2="106.3" y2="677.6" stroke="#3cc43c" stroke-width="0.6" opacity="0.29"/><line x1="60.3" y1="707.5" x2="99.9" y2="684.6" stroke="#3cc43c" stroke-width="0.6" opacity="0.24"/><line x1="108.4" y1="704.2" x2="86.3" y2="684.0" stroke="#3cc43c" stroke-width="0.6" opacity="0.11"/><line x1="76.6" y1="692.4" x2="68.5" y2="687.1" stroke="#3cc43c" stroke-width="0.6" opacity="0.13"/><line x1="94.8" y1="705.9" x2="70.4" y2="683.6" stroke="#3cc43c" stroke-width="0.6" opacity="0.23"/><line x1="81.1" y1="719.7" x2="76.3" y2="686.6" stroke="#3cc43c" stroke-width="0.6" opacity="0.32"/><line x1="65.4" y1="700.3" x2="75.3" y2="713.4" stroke="#3cc43c" stroke-width="0.6" opacity="0.24"/><line x1="97.5" y1="679.8" x2="92.7" y2="702.1" stroke="#3cc43c" stroke-width="0.6" opacity="0.22"/><line x1="97.8" y1="714.2" x2="64.0" y2="686.0" stroke="#3cc43c" stroke-width="0.6" opacity="0.19"/><line x1="68.7" y1="674.1" x2="72.6" y2="681.2" stroke="#3cc43c" stroke-width="0.6" opacity="0.28"/><line x1="81.3" y1="676.9" x2="74.9" y2="695.4" stroke="#3cc43c" stroke-width="0.6" opacity="0.19"/><line x1="66.7" y1="674.7" x2="58.6" y2="722.6" stroke="#3cc43c" stroke-width="0.6" opacity="0.29"/><line x1="62.4" y1="708.3" x2="109.0" y2="700.3" stroke="#3cc43c" stroke-width="0.6" opacity="0.13"/><line x1="83.4" y1="693.6" x2="67.9" y2="699.2" stroke="#3cc43c" stroke-width="0.6" opacity="0.10"/><line x1="105.8" y1="704.5" x2="90.6" y2="719.6" stroke="#3cc43c" stroke-width="0.6" opacity="0.26"/><line x1="71.1" y1="683.8" x2="65.2" y2="672.4" stroke="#3cc43c" stroke-width="0.6" opacity="0.29"/><line x1="101.7" y1="686.4" x2="67.7" y2="704.2" stroke="#3cc43c" stroke-width="0.6" opacity="0.31"/><line x1="106.2" y1="679.8" x2="98.8" y2="714.2" stroke="#3cc43c" stroke-width="0.6" opacity="0.29"/></g><g filter="url(#bl08)"><path d="M93.6,671.2 Q88.3,671.6 72.2,677.9" stroke="#40c840" stroke-width="0.6" fill="none" opacity="0.20"/><path d="M94.4,672.0 Q92.9,677.4 106.5,681.8" stroke="#40c840" stroke-width="0.6" fill="none" opacity="0.28"/><path d="M93.0,670.4 Q102.7,701.1 111.6,731.1" stroke="#40c840" stroke-width="0.6" fill="none" opacity="0.25"/><path d="M95.4,669.8 Q69.3,691.2 55.5,713.2" stroke="#40c840" stroke-width="0.6" fill="none" opacity="0.11"/><path d="M95.0,672.1 Q90.5,666.7 79.9,678.4" stroke="#40c840" stroke-width="0.6" fill="none" opacity="0.30"/><path d="M93.8,670.5 Q89.1,678.1 78.9,684.8" stroke="#40c840" stroke-width="0.6" fill="none" opacity="0.21"/><path d="M93.4,670.8 Q101.1,691.5 95.3,722.8" stroke="#40c840" stroke-width="0.6" fill="none" opacity="0.24"/><path d="M93.9,672.4 Q77.2,672.0 73.7,678.7" stroke="#40c840" stroke-width="0.6" fill="none" opacity="0.33"/><path d="M94.9,669.7 Q108.8,704.0 108.8,733.2" stroke="#40c840" stroke-width="0.6" fill="none" opacity="0.27"/><path d="M93.9,671.4 Q93.8,685.6 91.4,685.8" stroke="#40c840" stroke-width="0.6" fill="none" opacity="0.18"/><path d="M94.5,670.8 Q76.1,694.0 73.4,727.0" stroke="#40c840" stroke-width="0.6" fill="none" opacity="0.13"/><path d="M94.1,671.2 Q95.7,679.7 94.9,691.0" stroke="#40c840" stroke-width="0.6" fill="none" opacity="0.20"/><path d="M92.8,672.1 Q82.1,675.1 57.8,677.6" stroke="#40c840" stroke-width="0.6" fill="none" opacity="0.17"/><path d="M94.2,670.2 Q71.3,686.4 56.5,702.2" stroke="#40c840" stroke-width="0.6" fill="none" opacity="0.25"/><path d="M93.7,669.7 Q77.3,679.2 57.7,700.9" stroke="#40c840" stroke-width="0.6" fill="none" opacity="0.21"/><path d="M92.8,672.5 Q104.8,691.4 108.7,703.5" stroke="#40c840" stroke-width="0.6" fill="none" opacity="0.28"/><path d="M95.4,671.2 Q73.7,691.8 56.9,723.1" stroke="#40c840" stroke-width="0.6" fill="none" opacity="0.29"/><path d="M93.6,669.5 Q69.6,691.0 59.3,719.3" stroke="#40c840" stroke-width="0.6" fill="none" opacity="0.25"/><path d="M95.2,671.4 Q82.6,677.3 64.5,686.0" stroke="#40c840" stroke-width="0.6" fill="none" opacity="0.32"/><path d="M94.7,670.5 Q97.1,694.8 88.3,729.2" stroke="#40c840" stroke-width="0.6" fill="none" opacity="0.29"/><path d="M94.7,672.3 Q89.1,694.9 96.3,722.8" stroke="#40c840" stroke-width="0.6" fill="none" opacity="0.28"/><path d="M94.9,669.8 Q67.1,689.9 53.0,707.3" stroke="#40c840" stroke-width="0.6" fill="none" opacity="0.33"/><path d="M95.0,671.2 Q90.0,676.1 95.9,682.8" stroke="#40c840" stroke-width="0.6" fill="none" opacity="0.13"/><path d="M94.2,670.4 Q77.5,666.8 51.4,672.7" stroke="#40c840" stroke-width="0.6" fill="none" opacity="0.27"/><path d="M94.6,671.9 Q91.0,673.7 75.9,675.1" stroke="#40c840" stroke-width="0.6" fill="none" opacity="0.34"/><path d="M95.1,671.9 Q66.9,680.0 50.9,689.0" stroke="#40c840" stroke-width="0.6" fill="none" opacity="0.11"/><path d="M93.9,670.0 Q81.1,694.9 62.4,722.3" stroke="#40c840" stroke-width="0.6" fill="none" opacity="0.31"/><path d="M93.5,670.1 Q87.1,691.8 76.8,726.1" stroke="#40c840" stroke-width="0.6" fill="none" opacity="0.32"/><path d="M93.9,671.2 Q86.7,667.3 90.1,668.1" stroke="#40c840" stroke-width="0.6" fill="none" opacity="0.20"/><path d="M92.6,670.9 Q85.3,665.6 74.1,665.4" stroke="#40c840" stroke-width="0.6" fill="none" opacity="0.35"/></g><g filter="url(#bl08)"><path d="M71.3,721.0 Q65.3,692.0 53.1,670.2" stroke="#40c840" stroke-width="0.6" fill="none" opacity="0.17"/><path d="M70.6,721.2 Q87.7,716.9 88.7,697.0" stroke="#40c840" stroke-width="0.6" fill="none" opacity="0.29"/><path d="M71.6,720.3 Q92.8,719.8 109.3,714.2" stroke="#40c840" stroke-width="0.6" fill="none" opacity="0.30"/><path d="M72.8,721.7 Q93.6,720.2 109.4,725.7" stroke="#40c840" stroke-width="0.6" fill="none" opacity="0.23"/><path d="M70.7,720.5 Q83.4,701.3 93.2,684.5" stroke="#40c840" stroke-width="0.6" fill="none" opacity="0.18"/><path d="M71.2,720.5 Q92.5,703.2 117.2,693.7" stroke="#40c840" stroke-width="0.6" fill="none" opacity="0.14"/><path d="M72.2,720.4 Q60.5,720.1 50.5,721.0" stroke="#40c840" stroke-width="0.6" fill="none" opacity="0.15"/><path d="M72.2,722.3 Q60.2,704.7 54.5,681.1" stroke="#40c840" stroke-width="0.6" fill="none" opacity="0.19"/><path d="M72.2,722.5 Q85.6,705.8 112.6,700.8" stroke="#40c840" stroke-width="0.6" fill="none" opacity="0.19"/><path d="M72.0,722.2 Q93.2,698.6 102.7,690.0" stroke="#40c840" stroke-width="0.6" fill="none" opacity="0.17"/><path d="M72.6,720.2 Q64.4,687.6 67.5,661.6" stroke="#40c840" stroke-width="0.6" fill="none" opacity="0.20"/><path d="M71.1,721.7 Q73.6,714.0 63.6,702.2" stroke="#40c840" stroke-width="0.6" fill="none" opacity="0.34"/><path d="M71.5,719.9 Q86.4,699.3 90.9,665.6" stroke="#40c840" stroke-width="0.6" fill="none" opacity="0.15"/><path d="M71.1,720.5 Q81.5,727.9 86.5,721.3" stroke="#40c840" stroke-width="0.6" fill="none" opacity="0.29"/><path d="M70.7,720.7 Q85.9,702.1 94.1,688.4" stroke="#40c840" stroke-width="0.6" fill="none" opacity="0.12"/><path d="M71.3,720.9 Q82.2,703.8 92.6,683.4" stroke="#40c840" stroke-width="0.6" fill="none" opacity="0.11"/><path d="M72.3,721.7 Q100.3,703.1 112.9,699.5" stroke="#40c840" stroke-width="0.6" fill="none" opacity="0.19"/><path d="M70.8,721.9 Q58.5,700.2 56.4,670.9" stroke="#40c840" stroke-width="0.6" fill="none" opacity="0.21"/><path d="M72.3,720.5 Q80.2,713.6 86.6,701.2" stroke="#40c840" stroke-width="0.6" fill="none" opacity="0.29"/><path d="M71.4,721.8 Q74.0,719.8 67.5,709.8" stroke="#40c840" stroke-width="0.6" fill="none" opacity="0.34"/><path d="M70.9,719.5 Q76.8,707.3 80.8,679.5" stroke="#40c840" stroke-width="0.6" fill="none" opacity="0.22"/><path d="M71.2,721.8 Q81.1,725.4 94.6,714.2" stroke="#40c840" stroke-width="0.6" fill="none" opacity="0.13"/><path d="M72.2,720.0 Q54.9,695.2 51.9,669.4" stroke="#40c840" stroke-width="0.6" fill="none" opacity="0.34"/><path d="M73.3,720.0 Q68.3,699.5 74.9,670.5" stroke="#40c840" stroke-width="0.6" fill="none" opacity="0.11"/><path d="M72.4,720.5 Q95.2,699.0 102.9,677.0" stroke="#40c840" stroke-width="0.6" fill="none" opacity="0.30"/><path d="M72.7,719.7 Q83.1,695.6 81.3,682.7" stroke="#40c840" stroke-width="0.6" fill="none" opacity="0.26"/><path d="M71.7,722.3 Q67.6,721.8 77.3,720.5" stroke="#40c840" stroke-width="0.6" fill="none" opacity="0.34"/><path d="M71.8,720.2 Q78.4,694.5 92.6,675.7" stroke="#40c840" stroke-width="0.6" fill="none" opacity="0.15"/><path d="M71.1,721.2 Q83.6,720.9 101.6,705.0" stroke="#40c840" stroke-width="0.6" fill="none" opacity="0.14"/><path d="M73.0,720.3 Q86.6,724.9 108.7,720.8" stroke="#40c840" stroke-width="0.6" fill="none" opacity="0.19"/></g><g filter="url(#bl2)"><ellipse cx="94" cy="671" rx="8" ry="6" fill="#d84a18" opacity="0.75"/><ellipse cx="95" cy="670" rx="5" ry="3.5" fill="#f88a20" opacity="0.9"/></g><g filter="url(#bl2)"><ellipse cx="72.5" cy="721" rx="7" ry="5.5" fill="#e85818" opacity="0.8"/><ellipse cx="73" cy="722" rx="4" ry="3" fill="#ffc030" opacity="0.9"/></g></g><rect x="79" y="739.2" width="51.2" height="2.6" fill="#ffffff"/><g clip-path="url(#c1_1)"><g filter="url(#bl3)"><ellipse cx="181" cy="695.5" rx="32" ry="18" transform="rotate(-3 181 695)" fill="#2224c8"/></g><g filter="url(#bl08)"><circle cx="180.8" cy="708.0" r="1.0" fill="#2d30ec" opacity="0.54"/><circle cx="187.0" cy="693.7" r="1.5" fill="#2d30ec" opacity="0.64"/><circle cx="163.7" cy="708.7" r="1.2" fill="#2d30ec" opacity="0.59"/><circle cx="203.0" cy="684.2" r="1.8" fill="#2d30ec" opacity="0.70"/><circle cx="159.8" cy="704.2" r="0.9" fill="#2d30ec" opacity="0.28"/><circle cx="191.6" cy="681.8" r="1.2" fill="#2d30ec" opacity="0.66"/><circle cx="195.0" cy="707.0" r="2.0" fill="#2d30ec" opacity="0.22"/><circle cx="165.1" cy="705.7" r="1.6" fill="#2d30ec" opacity="0.22"/><circle cx="180.8" cy="686.9" r="1.3" fill="#2d30ec" opacity="0.25"/><circle cx="170.3" cy="708.2" r="0.9" fill="#2d30ec" opacity="0.44"/><circle cx="158.3" cy="694.4" r="1.0" fill="#2d30ec" opacity="0.54"/><circle cx="159.6" cy="704.3" r="1.4" fill="#2d30ec" opacity="0.26"/><circle cx="171.9" cy="695.9" r="1.9" fill="#2d30ec" opacity="0.37"/><circle cx="205.1" cy="701.7" r="1.1" fill="#2d30ec" opacity="0.29"/><circle cx="165.7" cy="682.5" r="0.9" fill="#2d30ec" opacity="0.45"/><circle cx="175.4" cy="697.6" r="1.2" fill="#2d30ec" opacity="0.21"/><circle cx="192.9" cy="699.8" r="1.5" fill="#2d30ec" opacity="0.47"/><circle cx="204.5" cy="701.2" r="1.3" fill="#2d30ec" opacity="0.36"/><circle cx="176.8" cy="710.9" r="1.3" fill="#2d30ec" opacity="0.39"/><circle cx="174.8" cy="684.4" r="2.0" fill="#2d30ec" opacity="0.20"/><circle cx="188.4" cy="708.8" r="1.1" fill="#2d30ec" opacity="0.51"/><circle cx="172.9" cy="687.6" r="1.0" fill="#2d30ec" opacity="0.26"/><circle cx="202.7" cy="703.5" r="1.9" fill="#2d30ec" opacity="0.22"/><circle cx="192.7" cy="689.3" r="1.6" fill="#2d30ec" opacity="0.47"/><circle cx="202.9" cy="694.7" r="1.5" fill="#2d30ec" opacity="0.70"/><circle cx="164.8" cy="700.5" r="1.7" fill="#2d30ec" opacity="0.39"/><circle cx="194.0" cy="691.4" r="1.4" fill="#2d30ec" opacity="0.51"/><circle cx="191.7" cy="689.2" r="1.6" fill="#2d30ec" opacity="0.47"/><circle cx="164.1" cy="700.0" r="1.1" fill="#2d30ec" opacity="0.65"/><circle cx="179.7" cy="702.7" r="1.4" fill="#2d30ec" opacity="0.44"/><circle cx="163.1" cy="685.0" r="1.9" fill="#2d30ec" opacity="0.46"/><circle cx="182.5" cy="696.3" r="1.8" fill="#2d30ec" opacity="0.32"/><circle cx="161.3" cy="706.8" r="1.4" fill="#2d30ec" opacity="0.52"/><circle cx="174.2" cy="706.5" r="1.8" fill="#2d30ec" opacity="0.26"/><circle cx="159.2" cy="688.7" r="0.9" fill="#2d30ec" opacity="0.38"/><circle cx="199.8" cy="695.2" r="1.3" fill="#2d30ec" opacity="0.24"/><circle cx="193.0" cy="693.2" r="1.4" fill="#2d30ec" opacity="0.60"/><circle cx="196.4" cy="683.5" r="1.6" fill="#2d30ec" opacity="0.38"/><circle cx="181.8" cy="687.0" r="1.2" fill="#2d30ec" opacity="0.37"/><circle cx="172.8" cy="680.5" r="1.0" fill="#2d30ec" opacity="0.49"/><circle cx="194.1" cy="687.6" r="1.2" fill="#2d30ec" opacity="0.32"/><circle cx="190.0" cy="706.5" r="1.0" fill="#2d30ec" opacity="0.41"/><circle cx="199.3" cy="698.3" r="1.2" fill="#2d30ec" opacity="0.22"/><circle cx="177.2" cy="691.4" r="1.7" fill="#2d30ec" opacity="0.35"/><circle cx="175.5" cy="700.5" r="1.8" fill="#2d30ec" opacity="0.38"/><circle cx="174.0" cy="698.4" r="1.9" fill="#2d30ec" opacity="0.30"/><circle cx="173.4" cy="701.2" r="1.2" fill="#2d30ec" opacity="0.24"/><circle cx="196.7" cy="690.8" r="1.4" fill="#2d30ec" opacity="0.45"/><circle cx="206.3" cy="702.4" r="0.8" fill="#2d30ec" opacity="0.50"/><circle cx="178.6" cy="694.4" r="1.8" fill="#2d30ec" opacity="0.41"/><circle cx="180.0" cy="708.1" r="1.3" fill="#2d30ec" opacity="0.45"/><circle cx="182.3" cy="705.8" r="1.6" fill="#2d30ec" opacity="0.57"/><circle cx="174.1" cy="681.1" r="1.6" fill="#2d30ec" opacity="0.48"/><circle cx="198.1" cy="703.3" r="0.9" fill="#2d30ec" opacity="0.31"/><circle cx="196.8" cy="696.7" r="0.9" fill="#2d30ec" opacity="0.54"/><circle cx="194.0" cy="694.3" r="0.9" fill="#2d30ec" opacity="0.55"/><circle cx="176.1" cy="698.4" r="2.0" fill="#2d30ec" opacity="0.61"/><circle cx="170.8" cy="696.6" r="0.8" fill="#2d30ec" opacity="0.69"/><circle cx="166.7" cy="688.6" r="1.2" fill="#2d30ec" opacity="0.33"/><circle cx="203.3" cy="696.1" r="1.4" fill="#2d30ec" opacity="0.41"/><circle cx="152.9" cy="690.7" r="1.8" fill="#2d30ec" opacity="0.60"/><circle cx="202.7" cy="686.6" r="1.0" fill="#2d30ec" opacity="0.23"/><circle cx="183.1" cy="691.3" r="1.4" fill="#2d30ec" opacity="0.44"/><circle cx="186.0" cy="690.9" r="1.8" fill="#2d30ec" opacity="0.30"/><circle cx="207.1" cy="695.9" r="0.9" fill="#2d30ec" opacity="0.36"/><circle cx="182.9" cy="692.5" r="1.5" fill="#2d30ec" opacity="0.36"/><circle cx="167.5" cy="705.7" r="1.1" fill="#2d30ec" opacity="0.56"/><circle cx="199.9" cy="697.5" r="1.3" fill="#2d30ec" opacity="0.67"/><circle cx="178.2" cy="707.8" r="0.9" fill="#2d30ec" opacity="0.42"/><circle cx="188.9" cy="680.6" r="1.8" fill="#2d30ec" opacity="0.24"/><circle cx="186.4" cy="685.0" r="1.9" fill="#2d30ec" opacity="0.48"/><circle cx="199.6" cy="694.5" r="1.6" fill="#2d30ec" opacity="0.54"/><circle cx="167.8" cy="686.9" r="1.8" fill="#2d30ec" opacity="0.27"/><circle cx="176.0" cy="700.9" r="1.1" fill="#2d30ec" opacity="0.65"/><circle cx="191.9" cy="683.9" r="0.9" fill="#2d30ec" opacity="0.55"/><circle cx="167.8" cy="687.6" r="1.5" fill="#2d30ec" opacity="0.36"/><circle cx="184.2" cy="684.2" r="1.9" fill="#2d30ec" opacity="0.36"/><circle cx="201.5" cy="683.3" r="1.8" fill="#2d30ec" opacity="0.69"/><circle cx="173.5" cy="680.9" r="1.3" fill="#2d30ec" opacity="0.52"/><circle cx="163.9" cy="697.9" r="0.9" fill="#2d30ec" opacity="0.43"/><circle cx="195.0" cy="692.5" r="1.6" fill="#2d30ec" opacity="0.26"/><circle cx="208.3" cy="694.9" r="1.1" fill="#2d30ec" opacity="0.37"/><circle cx="196.5" cy="694.6" r="1.9" fill="#2d30ec" opacity="0.25"/><circle cx="180.7" cy="707.2" r="1.5" fill="#2d30ec" opacity="0.47"/><circle cx="167.5" cy="708.8" r="1.8" fill="#2d30ec" opacity="0.31"/><circle cx="187.9" cy="710.1" r="1.2" fill="#2d30ec" opacity="0.67"/><circle cx="189.9" cy="680.6" r="1.2" fill="#2d30ec" opacity="0.42"/><circle cx="165.8" cy="704.1" r="1.0" fill="#2d30ec" opacity="0.59"/><circle cx="167.8" cy="682.4" r="1.5" fill="#2d30ec" opacity="0.25"/><circle cx="184.7" cy="704.5" r="1.5" fill="#2d30ec" opacity="0.43"/><circle cx="152.2" cy="697.4" r="0.9" fill="#2d30ec" opacity="0.52"/><circle cx="158.3" cy="699.2" r="1.2" fill="#2d30ec" opacity="0.39"/><circle cx="190.5" cy="684.2" r="1.0" fill="#2d30ec" opacity="0.67"/><circle cx="171.1" cy="707.0" r="1.8" fill="#2d30ec" opacity="0.44"/><circle cx="180.8" cy="696.7" r="0.9" fill="#2d30ec" opacity="0.43"/><circle cx="160.3" cy="697.7" r="1.4" fill="#2d30ec" opacity="0.38"/><circle cx="162.1" cy="693.4" r="1.0" fill="#2d30ec" opacity="0.26"/><circle cx="165.5" cy="708.2" r="1.4" fill="#2d30ec" opacity="0.65"/><circle cx="180.8" cy="704.8" r="1.5" fill="#2d30ec" opacity="0.54"/><circle cx="164.7" cy="704.4" r="1.0" fill="#2d30ec" opacity="0.33"/><circle cx="151.8" cy="693.6" r="1.4" fill="#2d30ec" opacity="0.35"/><circle cx="185.4" cy="686.7" r="1.5" fill="#2d30ec" opacity="0.59"/><circle cx="193.3" cy="680.8" r="1.1" fill="#2d30ec" opacity="0.50"/><circle cx="188.6" cy="701.2" r="1.8" fill="#2d30ec" opacity="0.37"/><circle cx="200.2" cy="693.3" r="1.9" fill="#2d30ec" opacity="0.21"/><circle cx="208.1" cy="691.3" r="1.3" fill="#2d30ec" opacity="0.24"/><circle cx="165.6" cy="703.8" r="1.6" fill="#2d30ec" opacity="0.28"/><circle cx="170.8" cy="684.5" r="1.0" fill="#2d30ec" opacity="0.31"/><circle cx="179.7" cy="695.5" r="1.7" fill="#2d30ec" opacity="0.65"/><circle cx="196.8" cy="699.0" r="1.0" fill="#2d30ec" opacity="0.51"/><circle cx="202.9" cy="703.5" r="0.9" fill="#2d30ec" opacity="0.56"/><circle cx="171.1" cy="685.2" r="2.0" fill="#2d30ec" opacity="0.54"/><circle cx="195.6" cy="683.0" r="1.8" fill="#2d30ec" opacity="0.67"/><circle cx="206.5" cy="702.0" r="1.8" fill="#2d30ec" opacity="0.60"/><circle cx="186.5" cy="693.1" r="1.8" fill="#2d30ec" opacity="0.59"/><circle cx="203.6" cy="687.9" r="2.0" fill="#2d30ec" opacity="0.47"/><circle cx="166.2" cy="707.1" r="1.1" fill="#2d30ec" opacity="0.30"/><circle cx="178.0" cy="687.2" r="1.4" fill="#2d30ec" opacity="0.65"/><circle cx="192.8" cy="701.6" r="1.3" fill="#2d30ec" opacity="0.59"/><circle cx="199.5" cy="700.4" r="1.9" fill="#2d30ec" opacity="0.61"/></g><g filter="url(#bl08)"><circle cx="174.7" cy="683.4" r="1.2" fill="#0c0c60" opacity="0.53"/><circle cx="171.5" cy="698.8" r="1.4" fill="#0c0c60" opacity="0.52"/><circle cx="151.3" cy="696.7" r="0.6" fill="#0c0c60" opacity="0.24"/><circle cx="199.6" cy="692.1" r="1.1" fill="#0c0c60" opacity="0.38"/><circle cx="170.7" cy="687.4" r="0.9" fill="#0c0c60" opacity="0.54"/><circle cx="187.8" cy="688.9" r="0.7" fill="#0c0c60" opacity="0.31"/><circle cx="193.0" cy="693.1" r="1.2" fill="#0c0c60" opacity="0.52"/><circle cx="158.6" cy="702.2" r="0.6" fill="#0c0c60" opacity="0.53"/><circle cx="161.7" cy="689.6" r="1.5" fill="#0c0c60" opacity="0.34"/><circle cx="165.1" cy="708.0" r="1.1" fill="#0c0c60" opacity="0.56"/><circle cx="174.7" cy="695.8" r="1.5" fill="#0c0c60" opacity="0.40"/><circle cx="200.3" cy="684.3" r="1.1" fill="#0c0c60" opacity="0.20"/><circle cx="178.8" cy="704.9" r="0.8" fill="#0c0c60" opacity="0.34"/><circle cx="157.2" cy="698.3" r="1.4" fill="#0c0c60" opacity="0.41"/><circle cx="174.3" cy="708.7" r="1.4" fill="#0c0c60" opacity="0.47"/><circle cx="155.8" cy="700.5" r="1.0" fill="#0c0c60" opacity="0.58"/><circle cx="173.0" cy="700.8" r="1.2" fill="#0c0c60" opacity="0.35"/><circle cx="182.6" cy="700.7" r="1.4" fill="#0c0c60" opacity="0.40"/><circle cx="173.6" cy="710.2" r="0.7" fill="#0c0c60" opacity="0.53"/><circle cx="192.1" cy="696.6" r="1.0" fill="#0c0c60" opacity="0.50"/><circle cx="204.8" cy="701.1" r="1.3" fill="#0c0c60" opacity="0.21"/><circle cx="170.0" cy="685.2" r="1.5" fill="#0c0c60" opacity="0.56"/><circle cx="159.8" cy="699.2" r="1.1" fill="#0c0c60" opacity="0.22"/><circle cx="174.9" cy="703.2" r="1.2" fill="#0c0c60" opacity="0.31"/><circle cx="196.4" cy="688.4" r="1.1" fill="#0c0c60" opacity="0.37"/><circle cx="199.5" cy="699.8" r="0.9" fill="#0c0c60" opacity="0.59"/><circle cx="193.9" cy="700.6" r="0.8" fill="#0c0c60" opacity="0.26"/><circle cx="186.0" cy="705.0" r="1.3" fill="#0c0c60" opacity="0.34"/><circle cx="159.4" cy="697.1" r="1.4" fill="#0c0c60" opacity="0.26"/><circle cx="194.8" cy="684.9" r="0.9" fill="#0c0c60" opacity="0.22"/><circle cx="168.7" cy="692.6" r="1.5" fill="#0c0c60" opacity="0.58"/><circle cx="162.0" cy="690.8" r="1.4" fill="#0c0c60" opacity="0.28"/><circle cx="170.2" cy="694.2" r="0.7" fill="#0c0c60" opacity="0.30"/><circle cx="174.5" cy="692.4" r="1.5" fill="#0c0c60" opacity="0.31"/><circle cx="178.5" cy="705.8" r="1.2" fill="#0c0c60" opacity="0.51"/><circle cx="169.4" cy="685.7" r="1.3" fill="#0c0c60" opacity="0.39"/><circle cx="184.8" cy="700.4" r="1.3" fill="#0c0c60" opacity="0.31"/><circle cx="173.4" cy="708.4" r="1.1" fill="#0c0c60" opacity="0.32"/><circle cx="188.4" cy="687.9" r="1.3" fill="#0c0c60" opacity="0.22"/><circle cx="200.7" cy="696.5" r="0.9" fill="#0c0c60" opacity="0.58"/><circle cx="166.5" cy="688.5" r="0.7" fill="#0c0c60" opacity="0.42"/><circle cx="196.5" cy="700.0" r="1.0" fill="#0c0c60" opacity="0.52"/><circle cx="157.4" cy="690.9" r="1.2" fill="#0c0c60" opacity="0.59"/><circle cx="189.3" cy="700.8" r="1.3" fill="#0c0c60" opacity="0.36"/><circle cx="171.3" cy="692.8" r="1.3" fill="#0c0c60" opacity="0.34"/><circle cx="162.8" cy="707.6" r="1.1" fill="#0c0c60" opacity="0.41"/><circle cx="191.8" cy="707.0" r="0.7" fill="#0c0c60" opacity="0.34"/><circle cx="154.9" cy="694.3" r="1.1" fill="#0c0c60" opacity="0.54"/><circle cx="191.2" cy="697.3" r="1.0" fill="#0c0c60" opacity="0.43"/><circle cx="168.0" cy="706.5" r="1.3" fill="#0c0c60" opacity="0.54"/><circle cx="160.4" cy="701.7" r="1.3" fill="#0c0c60" opacity="0.40"/><circle cx="196.1" cy="704.4" r="1.2" fill="#0c0c60" opacity="0.55"/><circle cx="159.2" cy="702.8" r="1.2" fill="#0c0c60" opacity="0.44"/><circle cx="166.8" cy="683.2" r="1.1" fill="#0c0c60" opacity="0.53"/><circle cx="166.9" cy="687.6" r="0.8" fill="#0c0c60" opacity="0.24"/><circle cx="198.9" cy="690.3" r="1.2" fill="#0c0c60" opacity="0.23"/><circle cx="201.0" cy="689.2" r="0.6" fill="#0c0c60" opacity="0.45"/><circle cx="159.0" cy="689.9" r="0.7" fill="#0c0c60" opacity="0.38"/><circle cx="184.8" cy="704.5" r="0.6" fill="#0c0c60" opacity="0.53"/><circle cx="157.2" cy="688.5" r="1.2" fill="#0c0c60" opacity="0.34"/></g><g filter="url(#bl3)"><path d="M187,673.5 L160,692 L213,692 Z" fill="#2a9a2a" opacity="0.2"/><path d="M183,722 L162,702 L206,702 Z" fill="#6a9a20" opacity="0.25"/></g><g filter="url(#bl08)"><path d="M186.1,674.5 Q178.9,688.5 176.5,697.6" stroke="#50d848" stroke-width="0.7" fill="none" opacity="0.52"/><path d="M187.0,673.3 Q190.3,674.4 188.1,684.7" stroke="#50d848" stroke-width="0.7" fill="none" opacity="0.21"/><path d="M187.0,673.8 Q191.0,686.4 193.3,701.4" stroke="#50d848" stroke-width="0.7" fill="none" opacity="0.28"/><path d="M186.5,675.0 Q199.8,695.3 206.6,707.9" stroke="#50d848" stroke-width="0.7" fill="none" opacity="0.21"/><path d="M187.6,673.4 Q185.4,682.2 184.8,687.2" stroke="#50d848" stroke-width="0.7" fill="none" opacity="0.32"/><path d="M187.7,673.5 Q175.6,680.5 168.6,693.7" stroke="#50d848" stroke-width="0.7" fill="none" opacity="0.36"/><path d="M187.2,674.1 Q175.0,684.9 169.1,700.9" stroke="#50d848" stroke-width="0.7" fill="none" opacity="0.59"/><path d="M187.7,672.2 Q197.6,692.4 199.9,706.8" stroke="#50d848" stroke-width="0.7" fill="none" opacity="0.27"/><path d="M186.3,673.1 Q175.1,690.4 158.7,704.7" stroke="#50d848" stroke-width="0.7" fill="none" opacity="0.25"/><path d="M186.0,673.1 Q188.3,686.1 193.4,707.8" stroke="#50d848" stroke-width="0.7" fill="none" opacity="0.56"/><path d="M186.0,674.3 Q191.0,680.3 203.1,694.9" stroke="#50d848" stroke-width="0.7" fill="none" opacity="0.38"/><path d="M188.0,672.4 Q203.2,689.5 213.5,705.9" stroke="#50d848" stroke-width="0.7" fill="none" opacity="0.23"/><path d="M185.6,674.7 Q185.4,682.4 189.6,696.2" stroke="#50d848" stroke-width="0.7" fill="none" opacity="0.48"/><path d="M186.7,674.4 Q198.3,692.8 210.9,707.5" stroke="#50d848" stroke-width="0.7" fill="none" opacity="0.53"/><path d="M186.6,672.0 Q173.4,679.8 165.5,684.3" stroke="#50d848" stroke-width="0.7" fill="none" opacity="0.53"/><path d="M187.1,672.2 Q189.9,688.2 202.0,695.1" stroke="#50d848" stroke-width="0.7" fill="none" opacity="0.32"/><path d="M186.1,672.7 Q189.8,690.8 193.0,705.2" stroke="#50d848" stroke-width="0.7" fill="none" opacity="0.56"/><path d="M186.1,673.4 Q184.1,676.3 179.4,686.5" stroke="#50d848" stroke-width="0.7" fill="none" opacity="0.43"/><path d="M187.7,672.2 Q189.7,682.9 193.6,701.0" stroke="#50d848" stroke-width="0.7" fill="none" opacity="0.38"/><path d="M187.4,674.1 Q185.8,684.2 180.4,700.1" stroke="#50d848" stroke-width="0.7" fill="none" opacity="0.38"/><path d="M186.2,675.0 Q177.5,685.3 165.9,705.8" stroke="#50d848" stroke-width="0.7" fill="none" opacity="0.28"/><path d="M187.7,672.1 Q186.7,689.5 180.0,702.9" stroke="#50d848" stroke-width="0.7" fill="none" opacity="0.22"/><path d="M186.2,674.8 Q195.2,683.9 212.7,703.3" stroke="#50d848" stroke-width="0.7" fill="none" opacity="0.27"/><path d="M186.3,672.5 Q192.7,694.1 195.6,706.3" stroke="#50d848" stroke-width="0.7" fill="none" opacity="0.19"/><path d="M186.1,674.4 Q198.4,682.1 200.4,686.5" stroke="#50d848" stroke-width="0.7" fill="none" opacity="0.25"/><path d="M188.2,672.0 Q189.7,683.9 186.7,686.5" stroke="#50d848" stroke-width="0.7" fill="none" opacity="0.54"/><path d="M187.3,674.4 Q188.1,689.8 189.1,703.7" stroke="#50d848" stroke-width="0.7" fill="none" opacity="0.21"/><path d="M185.5,674.2 Q171.9,684.3 161.0,697.1" stroke="#50d848" stroke-width="0.7" fill="none" opacity="0.19"/><path d="M187.5,672.6 Q195.3,684.7 204.5,703.5" stroke="#50d848" stroke-width="0.7" fill="none" opacity="0.36"/><path d="M185.8,674.2 Q176.1,689.0 164.2,707.4" stroke="#50d848" stroke-width="0.7" fill="none" opacity="0.54"/><path d="M187.8,672.4 Q194.9,678.0 205.5,686.4" stroke="#50d848" stroke-width="0.7" fill="none" opacity="0.43"/><path d="M185.8,674.1 Q195.0,683.7 212.8,702.5" stroke="#50d848" stroke-width="0.7" fill="none" opacity="0.43"/><path d="M187.4,674.7 Q186.1,685.3 187.1,694.9" stroke="#50d848" stroke-width="0.7" fill="none" opacity="0.49"/><path d="M185.6,674.0 Q198.2,691.9 202.6,705.9" stroke="#50d848" stroke-width="0.7" fill="none" opacity="0.54"/><path d="M186.8,674.1 Q181.4,693.7 182.1,705.1" stroke="#50d848" stroke-width="0.7" fill="none" opacity="0.29"/><path d="M186.8,674.9 Q179.2,678.9 174.8,692.4" stroke="#50d848" stroke-width="0.7" fill="none" opacity="0.45"/><path d="M187.8,672.8 Q202.0,692.8 210.2,702.3" stroke="#50d848" stroke-width="0.7" fill="none" opacity="0.28"/><path d="M188.3,673.0 Q181.4,682.9 181.1,684.5" stroke="#50d848" stroke-width="0.7" fill="none" opacity="0.50"/><path d="M185.8,674.5 Q197.1,689.7 201.4,705.4" stroke="#50d848" stroke-width="0.7" fill="none" opacity="0.31"/><path d="M186.0,673.6 Q190.4,687.8 193.1,692.8" stroke="#50d848" stroke-width="0.7" fill="none" opacity="0.45"/><path d="M187.6,674.9 Q186.7,694.1 188.2,706.5" stroke="#50d848" stroke-width="0.7" fill="none" opacity="0.22"/><path d="M186.3,674.1 Q182.5,677.3 169.9,690.9" stroke="#50d848" stroke-width="0.7" fill="none" opacity="0.60"/><path d="M187.7,674.3 Q179.3,685.9 167.9,694.5" stroke="#50d848" stroke-width="0.7" fill="none" opacity="0.28"/><path d="M186.3,674.9 Q181.6,676.2 172.4,684.7" stroke="#50d848" stroke-width="0.7" fill="none" opacity="0.45"/><path d="M186.4,672.2 Q190.0,688.6 191.1,699.7" stroke="#50d848" stroke-width="0.7" fill="none" opacity="0.21"/><path d="M187.0,674.9 Q169.3,679.2 158.8,692.7" stroke="#50d848" stroke-width="0.7" fill="none" opacity="0.47"/><path d="M186.4,673.2 Q176.9,684.0 173.3,702.5" stroke="#50d848" stroke-width="0.7" fill="none" opacity="0.47"/><path d="M186.5,674.5 Q180.9,691.8 182.9,701.5" stroke="#50d848" stroke-width="0.7" fill="none" opacity="0.19"/><path d="M187.5,672.8 Q199.3,684.5 204.4,689.4" stroke="#50d848" stroke-width="0.7" fill="none" opacity="0.18"/><path d="M187.3,674.0 Q174.4,691.2 168.6,705.7" stroke="#50d848" stroke-width="0.7" fill="none" opacity="0.26"/><path d="M187.5,673.7 Q181.3,678.7 166.0,686.3" stroke="#50d848" stroke-width="0.7" fill="none" opacity="0.27"/><path d="M188.4,673.1 Q177.8,675.2 161.6,684.4" stroke="#50d848" stroke-width="0.7" fill="none" opacity="0.48"/><path d="M187.1,672.3 Q173.9,686.9 165.7,702.9" stroke="#50d848" stroke-width="0.7" fill="none" opacity="0.28"/><path d="M186.2,672.6 Q193.6,684.8 202.6,690.8" stroke="#50d848" stroke-width="0.7" fill="none" opacity="0.27"/><path d="M188.1,672.2 Q184.7,682.9 179.5,692.8" stroke="#50d848" stroke-width="0.7" fill="none" opacity="0.46"/><path d="M185.8,673.4 Q191.2,681.0 204.8,689.6" stroke="#50d848" stroke-width="0.7" fill="none" opacity="0.48"/><path d="M186.2,673.3 Q174.9,676.9 163.2,686.8" stroke="#50d848" stroke-width="0.7" fill="none" opacity="0.23"/><path d="M187.2,672.2 Q174.1,687.4 161.8,692.7" stroke="#50d848" stroke-width="0.7" fill="none" opacity="0.27"/><path d="M188.1,672.3 Q197.0,690.1 199.7,697.5" stroke="#50d848" stroke-width="0.7" fill="none" opacity="0.58"/><path d="M186.1,672.2 Q183.9,685.3 187.4,689.8" stroke="#50d848" stroke-width="0.7" fill="none" opacity="0.29"/><path d="M186.9,673.0 Q200.7,680.0 209.7,695.1" stroke="#50d848" stroke-width="0.7" fill="none" opacity="0.27"/><path d="M186.9,672.5 Q187.3,687.9 195.1,692.7" stroke="#50d848" stroke-width="0.7" fill="none" opacity="0.18"/><path d="M187.7,673.6 Q186.0,684.6 194.6,696.4" stroke="#50d848" stroke-width="0.7" fill="none" opacity="0.28"/><path d="M187.9,674.8 Q188.0,682.5 185.9,698.5" stroke="#50d848" stroke-width="0.7" fill="none" opacity="0.49"/><path d="M186.2,673.8 Q200.5,680.0 206.0,692.8" stroke="#50d848" stroke-width="0.7" fill="none" opacity="0.56"/><path d="M185.9,672.6 Q170.2,680.7 162.6,689.2" stroke="#50d848" stroke-width="0.7" fill="none" opacity="0.49"/><path d="M185.5,674.8 Q187.9,691.8 190.7,706.5" stroke="#50d848" stroke-width="0.7" fill="none" opacity="0.28"/><path d="M188.5,673.9 Q190.3,684.8 184.7,696.3" stroke="#50d848" stroke-width="0.7" fill="none" opacity="0.27"/><path d="M186.2,674.9 Q200.8,680.7 204.7,688.8" stroke="#50d848" stroke-width="0.7" fill="none" opacity="0.32"/><path d="M186.6,672.5 Q185.6,678.1 180.8,692.2" stroke="#50d848" stroke-width="0.7" fill="none" opacity="0.53"/><path d="M187.2,674.1 Q170.1,685.6 158.0,698.6" stroke="#50d848" stroke-width="0.7" fill="none" opacity="0.24"/><path d="M185.9,673.6 Q183.8,676.7 171.5,686.9" stroke="#50d848" stroke-width="0.7" fill="none" opacity="0.42"/><path d="M187.3,673.4 Q194.7,676.1 207.6,685.4" stroke="#50d848" stroke-width="0.7" fill="none" opacity="0.35"/><path d="M186.3,674.8 Q201.0,691.3 207.7,699.9" stroke="#50d848" stroke-width="0.7" fill="none" opacity="0.35"/><path d="M186.4,672.9 Q170.0,684.9 160.9,706.0" stroke="#50d848" stroke-width="0.7" fill="none" opacity="0.59"/><path d="M187.9,674.0 Q197.2,687.3 206.7,694.1" stroke="#50d848" stroke-width="0.7" fill="none" opacity="0.40"/><path d="M187.9,674.7 Q177.3,682.5 164.5,689.8" stroke="#50d848" stroke-width="0.7" fill="none" opacity="0.58"/><path d="M186.0,674.1 Q181.9,680.4 168.8,685.8" stroke="#50d848" stroke-width="0.7" fill="none" opacity="0.29"/><path d="M185.7,674.2 Q179.4,684.9 171.2,692.8" stroke="#50d848" stroke-width="0.7" fill="none" opacity="0.44"/><path d="M186.9,674.0 Q188.7,681.9 184.4,700.1" stroke="#50d848" stroke-width="0.7" fill="none" opacity="0.48"/></g><g filter="url(#bl08)"><path d="M182.2,721.8 Q191.6,710.8 191.1,694.0" stroke="#80d830" stroke-width="0.7" fill="none" opacity="0.53"/><path d="M182.2,722.7 Q181.1,714.5 169.9,699.0" stroke="#80d830" stroke-width="0.7" fill="none" opacity="0.30"/><path d="M182.1,721.3 Q183.7,711.7 191.8,706.9" stroke="#80d830" stroke-width="0.7" fill="none" opacity="0.18"/><path d="M183.2,723.3 Q174.0,706.2 166.5,698.9" stroke="#80d830" stroke-width="0.7" fill="none" opacity="0.39"/><path d="M182.9,720.6 Q179.4,710.5 177.1,705.5" stroke="#80d830" stroke-width="0.7" fill="none" opacity="0.43"/><path d="M184.0,722.4 Q180.0,712.7 167.7,698.1" stroke="#80d830" stroke-width="0.7" fill="none" opacity="0.41"/><path d="M182.4,721.3 Q185.4,719.3 193.8,711.3" stroke="#80d830" stroke-width="0.7" fill="none" opacity="0.48"/><path d="M182.1,720.5 Q189.7,716.2 188.9,708.7" stroke="#80d830" stroke-width="0.7" fill="none" opacity="0.37"/><path d="M182.0,722.6 Q184.6,704.0 194.8,696.0" stroke="#80d830" stroke-width="0.7" fill="none" opacity="0.17"/><path d="M181.6,720.8 Q179.1,713.8 171.0,695.8" stroke="#80d830" stroke-width="0.7" fill="none" opacity="0.52"/><path d="M182.5,721.8 Q193.1,707.9 206.6,693.3" stroke="#80d830" stroke-width="0.7" fill="none" opacity="0.35"/><path d="M181.8,722.4 Q173.5,703.2 172.4,691.2" stroke="#80d830" stroke-width="0.7" fill="none" opacity="0.43"/><path d="M183.0,721.1 Q180.1,713.1 172.6,707.4" stroke="#80d830" stroke-width="0.7" fill="none" opacity="0.52"/><path d="M182.7,722.7 Q181.5,708.5 186.9,691.1" stroke="#80d830" stroke-width="0.7" fill="none" opacity="0.25"/><path d="M182.1,722.6 Q186.6,715.7 198.3,707.6" stroke="#80d830" stroke-width="0.7" fill="none" opacity="0.47"/><path d="M183.2,720.9 Q186.4,710.2 198.0,695.1" stroke="#80d830" stroke-width="0.7" fill="none" opacity="0.24"/><path d="M182.3,721.8 Q186.8,704.6 188.0,692.4" stroke="#80d830" stroke-width="0.7" fill="none" opacity="0.37"/><path d="M182.4,722.4 Q191.1,703.5 194.8,690.7" stroke="#80d830" stroke-width="0.7" fill="none" opacity="0.43"/><path d="M183.5,721.3 Q183.3,714.0 189.5,709.8" stroke="#80d830" stroke-width="0.7" fill="none" opacity="0.23"/><path d="M184.4,722.9 Q180.2,716.6 170.9,707.0" stroke="#80d830" stroke-width="0.7" fill="none" opacity="0.28"/><path d="M181.8,720.6 Q174.6,715.0 175.1,705.9" stroke="#80d830" stroke-width="0.7" fill="none" opacity="0.36"/><path d="M182.1,720.9 Q178.9,715.9 167.3,710.5" stroke="#80d830" stroke-width="0.7" fill="none" opacity="0.36"/><path d="M183.8,720.8 Q186.2,710.3 185.0,698.0" stroke="#80d830" stroke-width="0.7" fill="none" opacity="0.19"/><path d="M182.2,721.5 Q178.3,713.0 178.6,700.6" stroke="#80d830" stroke-width="0.7" fill="none" opacity="0.35"/><path d="M184.3,723.3 Q187.3,713.9 194.2,706.9" stroke="#80d830" stroke-width="0.7" fill="none" opacity="0.40"/><path d="M181.6,723.4 Q175.4,708.8 165.0,700.0" stroke="#80d830" stroke-width="0.7" fill="none" opacity="0.52"/><path d="M181.7,722.8 Q175.8,709.1 166.2,700.2" stroke="#80d830" stroke-width="0.7" fill="none" opacity="0.46"/><path d="M184.4,720.7 Q180.9,702.9 181.0,691.9" stroke="#80d830" stroke-width="0.7" fill="none" opacity="0.28"/><path d="M182.0,722.1 Q186.0,703.2 196.9,693.0" stroke="#80d830" stroke-width="0.7" fill="none" opacity="0.49"/><path d="M182.5,720.9 Q178.2,707.2 168.1,693.8" stroke="#80d830" stroke-width="0.7" fill="none" opacity="0.26"/><path d="M184.2,723.2 Q192.4,709.7 206.6,692.6" stroke="#80d830" stroke-width="0.7" fill="none" opacity="0.35"/><path d="M183.6,722.7 Q192.3,712.3 205.9,703.3" stroke="#80d830" stroke-width="0.7" fill="none" opacity="0.21"/><path d="M182.5,721.2 Q172.2,719.7 169.3,711.1" stroke="#80d830" stroke-width="0.7" fill="none" opacity="0.26"/><path d="M182.5,721.0 Q179.2,720.4 182.5,711.8" stroke="#80d830" stroke-width="0.7" fill="none" opacity="0.45"/><path d="M184.1,722.2 Q178.9,711.3 176.4,694.1" stroke="#80d830" stroke-width="0.7" fill="none" opacity="0.17"/><path d="M182.5,723.0 Q193.8,717.2 196.6,703.3" stroke="#80d830" stroke-width="0.7" fill="none" opacity="0.48"/><path d="M182.6,720.8 Q176.6,708.6 172.8,698.0" stroke="#80d830" stroke-width="0.7" fill="none" opacity="0.25"/><path d="M183.8,721.2 Q194.7,714.4 203.7,699.0" stroke="#80d830" stroke-width="0.7" fill="none" opacity="0.52"/><path d="M183.9,721.3 Q193.1,719.4 198.6,711.8" stroke="#80d830" stroke-width="0.7" fill="none" opacity="0.42"/><path d="M182.5,723.0 Q177.0,715.6 178.3,708.5" stroke="#80d830" stroke-width="0.7" fill="none" opacity="0.30"/><path d="M184.3,722.7 Q195.5,711.7 200.5,708.7" stroke="#80d830" stroke-width="0.7" fill="none" opacity="0.43"/><path d="M182.9,721.5 Q190.9,707.0 191.3,691.1" stroke="#80d830" stroke-width="0.7" fill="none" opacity="0.47"/><path d="M182.2,720.8 Q187.4,714.0 197.5,709.1" stroke="#80d830" stroke-width="0.7" fill="none" opacity="0.29"/><path d="M181.7,722.7 Q169.4,710.5 161.2,707.5" stroke="#80d830" stroke-width="0.7" fill="none" opacity="0.24"/><path d="M182.4,722.4 Q185.6,715.0 182.2,698.8" stroke="#80d830" stroke-width="0.7" fill="none" opacity="0.51"/><path d="M184.1,722.2 Q185.1,714.0 182.6,709.8" stroke="#80d830" stroke-width="0.7" fill="none" opacity="0.21"/><path d="M182.7,723.1 Q185.8,715.0 188.2,708.2" stroke="#80d830" stroke-width="0.7" fill="none" opacity="0.42"/><path d="M183.6,720.9 Q175.1,714.6 170.0,698.0" stroke="#80d830" stroke-width="0.7" fill="none" opacity="0.52"/><path d="M182.8,720.8 Q171.7,714.7 161.7,703.0" stroke="#80d830" stroke-width="0.7" fill="none" opacity="0.37"/><path d="M183.7,722.9 Q189.8,711.9 199.4,707.4" stroke="#80d830" stroke-width="0.7" fill="none" opacity="0.25"/><path d="M183.6,723.3 Q192.0,715.7 202.4,711.8" stroke="#80d830" stroke-width="0.7" fill="none" opacity="0.24"/><path d="M183.1,722.0 Q181.1,706.5 174.5,697.2" stroke="#80d830" stroke-width="0.7" fill="none" opacity="0.42"/><path d="M183.9,721.1 Q179.9,717.1 166.9,711.0" stroke="#80d830" stroke-width="0.7" fill="none" opacity="0.52"/><path d="M184.3,721.1 Q188.4,713.0 186.5,706.7" stroke="#80d830" stroke-width="0.7" fill="none" opacity="0.17"/><path d="M183.0,723.3 Q187.6,720.4 184.1,709.8" stroke="#80d830" stroke-width="0.7" fill="none" opacity="0.38"/><path d="M183.3,721.3 Q178.0,712.2 166.9,703.9" stroke="#80d830" stroke-width="0.7" fill="none" opacity="0.27"/><path d="M181.5,721.5 Q181.3,707.6 180.2,701.3" stroke="#80d830" stroke-width="0.7" fill="none" opacity="0.44"/><path d="M182.0,722.3 Q187.0,708.8 195.9,695.2" stroke="#80d830" stroke-width="0.7" fill="none" opacity="0.51"/><path d="M183.6,722.6 Q178.6,714.9 169.7,702.9" stroke="#80d830" stroke-width="0.7" fill="none" opacity="0.27"/><path d="M182.8,720.8 Q187.1,720.6 200.2,710.4" stroke="#80d830" stroke-width="0.7" fill="none" opacity="0.19"/><path d="M183.4,723.5 Q187.0,713.1 198.2,704.9" stroke="#80d830" stroke-width="0.7" fill="none" opacity="0.29"/><path d="M182.7,722.4 Q186.9,705.3 196.8,695.4" stroke="#80d830" stroke-width="0.7" fill="none" opacity="0.28"/><path d="M182.4,722.0 Q171.2,705.3 167.8,694.8" stroke="#80d830" stroke-width="0.7" fill="none" opacity="0.24"/><path d="M184.3,721.9 Q187.7,710.7 183.0,699.7" stroke="#80d830" stroke-width="0.7" fill="none" opacity="0.24"/><path d="M183.6,723.4 Q182.4,703.3 188.4,693.2" stroke="#80d830" stroke-width="0.7" fill="none" opacity="0.32"/><path d="M182.7,721.0 Q178.5,712.6 177.0,699.4" stroke="#80d830" stroke-width="0.7" fill="none" opacity="0.50"/><path d="M182.6,722.4 Q188.7,708.4 187.5,690.1" stroke="#80d830" stroke-width="0.7" fill="none" opacity="0.52"/><path d="M183.5,722.7 Q179.1,711.3 179.3,699.5" stroke="#80d830" stroke-width="0.7" fill="none" opacity="0.53"/><path d="M183.3,722.5 Q178.5,712.9 167.0,698.0" stroke="#80d830" stroke-width="0.7" fill="none" opacity="0.30"/><path d="M181.8,723.2 Q193.2,708.9 205.4,702.1" stroke="#80d830" stroke-width="0.7" fill="none" opacity="0.47"/></g><g filter="url(#bl08)"><line x1="187.0" y1="673.5" x2="181.5" y2="672.6" stroke="#40c840" stroke-width="0.7" opacity="0.35"/><line x1="187.0" y1="673.5" x2="186.9" y2="667.6" stroke="#40c840" stroke-width="0.7" opacity="0.51"/><line x1="187.0" y1="673.5" x2="183.9" y2="667.0" stroke="#40c840" stroke-width="0.7" opacity="0.52"/><line x1="187.0" y1="673.5" x2="189.7" y2="667.3" stroke="#40c840" stroke-width="0.7" opacity="0.29"/><line x1="187.0" y1="673.5" x2="184.4" y2="666.1" stroke="#40c840" stroke-width="0.7" opacity="0.47"/><line x1="187.0" y1="673.5" x2="183.1" y2="669.0" stroke="#40c840" stroke-width="0.7" opacity="0.31"/><line x1="187.0" y1="673.5" x2="182.9" y2="664.0" stroke="#40c840" stroke-width="0.7" opacity="0.37"/><line x1="187.0" y1="673.5" x2="183.5" y2="669.0" stroke="#40c840" stroke-width="0.7" opacity="0.48"/><line x1="187.0" y1="673.5" x2="179.8" y2="669.0" stroke="#40c840" stroke-width="0.7" opacity="0.17"/><line x1="187.0" y1="673.5" x2="184.3" y2="671.4" stroke="#40c840" stroke-width="0.7" opacity="0.48"/><line x1="187.0" y1="673.5" x2="182.8" y2="671.1" stroke="#40c840" stroke-width="0.7" opacity="0.19"/><line x1="187.0" y1="673.5" x2="181.3" y2="666.7" stroke="#40c840" stroke-width="0.7" opacity="0.44"/><line x1="187.0" y1="673.5" x2="196.9" y2="669.8" stroke="#40c840" stroke-width="0.7" opacity="0.38"/><line x1="187.0" y1="673.5" x2="190.5" y2="672.3" stroke="#40c840" stroke-width="0.7" opacity="0.52"/><line x1="187.0" y1="673.5" x2="186.1" y2="669.0" stroke="#40c840" stroke-width="0.7" opacity="0.45"/><line x1="187.0" y1="673.5" x2="192.3" y2="670.5" stroke="#40c840" stroke-width="0.7" opacity="0.20"/><line x1="187.0" y1="673.5" x2="195.1" y2="669.5" stroke="#40c840" stroke-width="0.7" opacity="0.39"/><line x1="187.0" y1="673.5" x2="190.3" y2="673.0" stroke="#40c840" stroke-width="0.7" opacity="0.19"/><line x1="187.0" y1="673.5" x2="184.1" y2="672.1" stroke="#40c840" stroke-width="0.7" opacity="0.44"/><line x1="187.0" y1="673.5" x2="188.5" y2="669.9" stroke="#40c840" stroke-width="0.7" opacity="0.23"/></g><g filter="url(#bl08)"><line x1="183.0" y1="722.0" x2="189.4" y2="726.6" stroke="#70d030" stroke-width="0.7" opacity="0.42"/><line x1="183.0" y1="722.0" x2="177.2" y2="723.0" stroke="#70d030" stroke-width="0.7" opacity="0.54"/><line x1="183.0" y1="722.0" x2="184.2" y2="728.0" stroke="#70d030" stroke-width="0.7" opacity="0.26"/><line x1="183.0" y1="722.0" x2="190.7" y2="729.6" stroke="#70d030" stroke-width="0.7" opacity="0.55"/><line x1="183.0" y1="722.0" x2="180.5" y2="725.6" stroke="#70d030" stroke-width="0.7" opacity="0.23"/><line x1="183.0" y1="722.0" x2="188.0" y2="725.0" stroke="#70d030" stroke-width="0.7" opacity="0.45"/><line x1="183.0" y1="722.0" x2="190.0" y2="723.9" stroke="#70d030" stroke-width="0.7" opacity="0.43"/><line x1="183.0" y1="722.0" x2="189.4" y2="723.2" stroke="#70d030" stroke-width="0.7" opacity="0.47"/><line x1="183.0" y1="722.0" x2="181.5" y2="728.4" stroke="#70d030" stroke-width="0.7" opacity="0.50"/><line x1="183.0" y1="722.0" x2="181.3" y2="727.4" stroke="#70d030" stroke-width="0.7" opacity="0.32"/><line x1="183.0" y1="722.0" x2="173.4" y2="724.5" stroke="#70d030" stroke-width="0.7" opacity="0.52"/><line x1="183.0" y1="722.0" x2="182.3" y2="726.1" stroke="#70d030" stroke-width="0.7" opacity="0.23"/><line x1="183.0" y1="722.0" x2="185.9" y2="730.0" stroke="#70d030" stroke-width="0.7" opacity="0.17"/><line x1="183.0" y1="722.0" x2="175.7" y2="727.8" stroke="#70d030" stroke-width="0.7" opacity="0.36"/><line x1="183.0" y1="722.0" x2="192.3" y2="723.0" stroke="#70d030" stroke-width="0.7" opacity="0.32"/><line x1="183.0" y1="722.0" x2="179.4" y2="728.6" stroke="#70d030" stroke-width="0.7" opacity="0.45"/><line x1="183.0" y1="722.0" x2="185.9" y2="732.3" stroke="#70d030" stroke-width="0.7" opacity="0.53"/><line x1="183.0" y1="722.0" x2="175.4" y2="724.3" stroke="#70d030" stroke-width="0.7" opacity="0.29"/><line x1="183.0" y1="722.0" x2="184.8" y2="726.8" stroke="#70d030" stroke-width="0.7" opacity="0.51"/><line x1="183.0" y1="722.0" x2="175.9" y2="728.0" stroke="#70d030" stroke-width="0.7" opacity="0.48"/></g><g filter="url(#bl2)"><path d="M172,686 Q187,668 204,686 Q187,678 172,686 Z" fill="#58d840" opacity="0.6"/><path d="M172,710 Q183,727 196,710 Q184,716 172,710 Z" fill="#a8e030" opacity="0.75"/></g><g filter="url(#bl08)"><circle cx="144.5" cy="746.6" r="1.1" fill="#30c030" opacity="0.81"/><circle cx="139.8" cy="748.4" r="1.4" fill="#30c030" opacity="0.64"/><circle cx="139.5" cy="746.7" r="1.5" fill="#30c030" opacity="0.95"/><circle cx="152.6" cy="740.7" r="1.9" fill="#30c030" opacity="0.54"/><circle cx="158.3" cy="734.9" r="1.1" fill="#30c030" opacity="0.56"/><circle cx="161.1" cy="741.0" r="1.7" fill="#30c030" opacity="0.63"/><circle cx="156.9" cy="744.7" r="0.9" fill="#30c030" opacity="0.75"/><circle cx="156.7" cy="736.9" r="1.6" fill="#30c030" opacity="0.64"/><circle cx="146.1" cy="749.6" r="1.9" fill="#30c030" opacity="1.00"/><circle cx="147.8" cy="743.3" r="1.8" fill="#30c030" opacity="0.88"/><circle cx="148.7" cy="748.5" r="1.3" fill="#30c030" opacity="0.98"/><circle cx="149.2" cy="735.1" r="1.7" fill="#30c030" opacity="0.57"/><circle cx="155.4" cy="734.0" r="2.0" fill="#30c030" opacity="0.77"/><circle cx="157.2" cy="735.4" r="1.6" fill="#30c030" opacity="0.69"/><circle cx="142.5" cy="747.7" r="0.8" fill="#30c030" opacity="0.74"/><circle cx="148.9" cy="741.4" r="1.7" fill="#30c030" opacity="0.86"/><circle cx="145.3" cy="749.8" r="1.0" fill="#30c030" opacity="0.57"/><circle cx="159.4" cy="735.2" r="1.0" fill="#30c030" opacity="0.75"/><circle cx="145.1" cy="735.9" r="1.9" fill="#30c030" opacity="0.74"/><circle cx="158.6" cy="737.5" r="1.9" fill="#30c030" opacity="0.61"/><circle cx="162.2" cy="744.0" r="2.0" fill="#30c030" opacity="0.89"/><circle cx="153.9" cy="742.6" r="1.8" fill="#30c030" opacity="0.72"/><circle cx="159.2" cy="745.3" r="1.7" fill="#30c030" opacity="0.62"/><circle cx="148.9" cy="747.8" r="2.0" fill="#30c030" opacity="0.96"/><circle cx="139.8" cy="745.3" r="1.5" fill="#30c030" opacity="0.70"/><circle cx="140.0" cy="735.5" r="1.4" fill="#30c030" opacity="0.75"/><circle cx="143.0" cy="739.6" r="1.5" fill="#30c030" opacity="0.88"/><circle cx="152.7" cy="735.9" r="1.9" fill="#30c030" opacity="0.68"/><circle cx="139.2" cy="743.5" r="2.0" fill="#30c030" opacity="0.69"/><circle cx="151.4" cy="738.6" r="0.8" fill="#30c030" opacity="0.60"/><circle cx="138.7" cy="738.1" r="1.6" fill="#30c030" opacity="0.78"/><circle cx="163.4" cy="745.3" r="1.2" fill="#30c030" opacity="0.97"/><circle cx="154.0" cy="742.8" r="1.8" fill="#30c030" opacity="0.83"/><circle cx="145.8" cy="743.9" r="1.2" fill="#30c030" opacity="0.98"/><circle cx="151.6" cy="736.7" r="1.4" fill="#30c030" opacity="0.56"/><circle cx="160.1" cy="745.0" r="1.6" fill="#30c030" opacity="0.96"/><circle cx="136.5" cy="740.7" r="2.0" fill="#30c030" opacity="0.66"/><circle cx="152.1" cy="733.2" r="1.3" fill="#30c030" opacity="0.95"/><circle cx="152.7" cy="747.8" r="0.8" fill="#30c030" opacity="0.60"/><circle cx="140.4" cy="748.0" r="0.9" fill="#30c030" opacity="0.97"/><circle cx="143.0" cy="748.8" r="1.4" fill="#30c030" opacity="0.66"/><circle cx="164.0" cy="740.3" r="1.6" fill="#30c030" opacity="0.53"/><circle cx="138.3" cy="746.4" r="1.1" fill="#30c030" opacity="0.57"/><circle cx="145.9" cy="744.9" r="1.9" fill="#30c030" opacity="1.00"/><circle cx="154.6" cy="735.9" r="1.7" fill="#30c030" opacity="0.78"/><circle cx="145.8" cy="749.2" r="1.1" fill="#30c030" opacity="0.57"/><circle cx="139.7" cy="735.7" r="1.5" fill="#30c030" opacity="0.90"/><circle cx="139.8" cy="742.1" r="1.5" fill="#30c030" opacity="0.78"/><circle cx="147.4" cy="742.8" r="0.8" fill="#30c030" opacity="0.53"/><circle cx="147.7" cy="737.3" r="1.7" fill="#30c030" opacity="0.62"/><circle cx="159.7" cy="737.3" r="0.9" fill="#30c030" opacity="0.74"/><circle cx="146.6" cy="739.0" r="1.7" fill="#30c030" opacity="0.61"/><circle cx="155.1" cy="748.0" r="1.3" fill="#30c030" opacity="0.75"/><circle cx="162.7" cy="743.9" r="1.0" fill="#30c030" opacity="0.53"/><circle cx="137.5" cy="739.0" r="0.9" fill="#30c030" opacity="0.82"/><circle cx="147.7" cy="738.6" r="1.4" fill="#30c030" opacity="0.97"/><circle cx="142.3" cy="735.8" r="1.2" fill="#30c030" opacity="0.66"/><circle cx="162.3" cy="745.7" r="1.3" fill="#30c030" opacity="0.58"/><circle cx="160.4" cy="744.7" r="1.0" fill="#30c030" opacity="0.81"/><circle cx="136.8" cy="742.1" r="1.2" fill="#30c030" opacity="0.55"/><circle cx="157.3" cy="745.9" r="1.4" fill="#30c030" opacity="0.58"/><circle cx="155.1" cy="740.8" r="1.6" fill="#30c030" opacity="0.55"/><circle cx="141.7" cy="740.2" r="1.0" fill="#30c030" opacity="0.54"/><circle cx="145.0" cy="737.8" r="1.6" fill="#30c030" opacity="0.61"/><circle cx="147.0" cy="745.4" r="1.3" fill="#30c030" opacity="0.58"/><circle cx="137.1" cy="742.8" r="2.0" fill="#30c030" opacity="0.96"/><circle cx="138.0" cy="742.0" r="1.4" fill="#30c030" opacity="0.60"/><circle cx="155.1" cy="741.9" r="1.8" fill="#30c030" opacity="0.65"/><circle cx="149.2" cy="735.5" r="1.4" fill="#30c030" opacity="0.56"/><circle cx="155.6" cy="745.6" r="1.5" fill="#30c030" opacity="0.99"/><circle cx="159.0" cy="735.0" r="1.2" fill="#30c030" opacity="0.53"/><circle cx="152.5" cy="746.0" r="1.2" fill="#30c030" opacity="0.85"/><circle cx="146.0" cy="745.8" r="1.1" fill="#30c030" opacity="0.99"/><circle cx="137.7" cy="746.1" r="1.8" fill="#30c030" opacity="0.82"/><circle cx="156.5" cy="735.1" r="1.3" fill="#30c030" opacity="0.84"/><circle cx="145.6" cy="748.7" r="2.0" fill="#30c030" opacity="0.66"/><circle cx="162.3" cy="747.1" r="1.8" fill="#30c030" opacity="0.79"/><circle cx="164.1" cy="744.6" r="1.9" fill="#30c030" opacity="0.78"/><circle cx="140.9" cy="742.3" r="1.4" fill="#30c030" opacity="0.67"/><circle cx="146.2" cy="742.2" r="1.5" fill="#30c030" opacity="0.61"/><circle cx="143.3" cy="742.1" r="1.4" fill="#30c030" opacity="0.71"/><circle cx="154.9" cy="736.3" r="1.4" fill="#30c030" opacity="0.64"/><circle cx="158.1" cy="745.7" r="1.7" fill="#30c030" opacity="0.76"/><circle cx="142.5" cy="749.7" r="1.4" fill="#30c030" opacity="0.69"/><circle cx="143.7" cy="740.2" r="1.7" fill="#30c030" opacity="0.91"/><circle cx="149.5" cy="746.2" r="1.1" fill="#30c030" opacity="0.73"/><circle cx="145.7" cy="738.5" r="1.2" fill="#30c030" opacity="0.88"/><circle cx="157.0" cy="736.7" r="1.1" fill="#30c030" opacity="0.89"/><circle cx="154.6" cy="745.2" r="1.6" fill="#30c030" opacity="0.85"/><circle cx="143.2" cy="734.1" r="1.2" fill="#30c030" opacity="0.52"/></g><g filter="url(#bl08)"><circle cx="232.3" cy="656.3" r="1.2" fill="#30c030" opacity="0.88"/><circle cx="229.5" cy="652.2" r="0.9" fill="#30c030" opacity="0.45"/><circle cx="229.3" cy="659.3" r="1.0" fill="#30c030" opacity="0.58"/><circle cx="219.9" cy="655.8" r="1.2" fill="#30c030" opacity="0.85"/><circle cx="222.9" cy="654.9" r="0.9" fill="#30c030" opacity="0.89"/><circle cx="218.3" cy="651.2" r="0.9" fill="#30c030" opacity="0.86"/><circle cx="230.3" cy="653.6" r="1.4" fill="#30c030" opacity="0.85"/><circle cx="222.7" cy="651.7" r="1.3" fill="#30c030" opacity="0.59"/><circle cx="222.9" cy="654.6" r="1.1" fill="#30c030" opacity="0.53"/><circle cx="215.4" cy="654.5" r="0.9" fill="#30c030" opacity="0.41"/><circle cx="221.7" cy="659.7" r="0.9" fill="#30c030" opacity="0.74"/><circle cx="226.2" cy="651.6" r="0.6" fill="#30c030" opacity="0.74"/><circle cx="226.0" cy="653.1" r="0.8" fill="#30c030" opacity="0.83"/><circle cx="231.4" cy="652.3" r="1.1" fill="#30c030" opacity="0.69"/><circle cx="220.8" cy="649.5" r="0.9" fill="#30c030" opacity="0.72"/><circle cx="225.8" cy="656.1" r="0.7" fill="#30c030" opacity="0.51"/><circle cx="220.6" cy="654.8" r="0.9" fill="#30c030" opacity="0.85"/><circle cx="219.3" cy="661.0" r="0.8" fill="#30c030" opacity="0.69"/><circle cx="221.8" cy="649.5" r="1.3" fill="#30c030" opacity="0.81"/><circle cx="219.8" cy="659.9" r="1.0" fill="#30c030" opacity="0.89"/><circle cx="216.0" cy="654.3" r="0.8" fill="#30c030" opacity="0.71"/><circle cx="229.0" cy="660.8" r="1.1" fill="#30c030" opacity="0.59"/><circle cx="229.4" cy="650.5" r="0.8" fill="#30c030" opacity="0.78"/><circle cx="222.9" cy="662.9" r="0.7" fill="#30c030" opacity="0.63"/><circle cx="221.6" cy="655.1" r="1.1" fill="#30c030" opacity="0.54"/></g><g filter="url(#bl08)"><circle cx="201.2" cy="698.2" r="0.9" fill="#2a8a2a" opacity="0.20"/><circle cx="185.8" cy="696.5" r="0.6" fill="#2a8a2a" opacity="0.41"/><circle cx="161.8" cy="724.2" r="0.6" fill="#2a8a2a" opacity="0.25"/><circle cx="194.2" cy="701.6" r="0.5" fill="#2a8a2a" opacity="0.18"/><circle cx="221.4" cy="687.6" r="0.5" fill="#2a8a2a" opacity="0.35"/><circle cx="187.6" cy="684.6" r="0.6" fill="#2a8a2a" opacity="0.40"/><circle cx="172.1" cy="691.1" r="0.9" fill="#2a8a2a" opacity="0.26"/><circle cx="177.2" cy="672.7" r="0.7" fill="#2a8a2a" opacity="0.35"/><circle cx="180.7" cy="690.2" r="0.5" fill="#2a8a2a" opacity="0.39"/><circle cx="181.6" cy="720.9" r="0.6" fill="#2a8a2a" opacity="0.37"/><circle cx="221.8" cy="710.1" r="0.7" fill="#2a8a2a" opacity="0.30"/><circle cx="182.8" cy="675.2" r="0.5" fill="#2a8a2a" opacity="0.34"/><circle cx="200.5" cy="679.6" r="0.7" fill="#2a8a2a" opacity="0.19"/><circle cx="194.0" cy="673.4" r="0.7" fill="#2a8a2a" opacity="0.24"/><circle cx="189.1" cy="670.6" r="0.6" fill="#2a8a2a" opacity="0.33"/><circle cx="155.8" cy="683.2" r="0.7" fill="#2a8a2a" opacity="0.31"/><circle cx="194.3" cy="717.2" r="0.7" fill="#2a8a2a" opacity="0.22"/><circle cx="180.4" cy="720.8" r="0.7" fill="#2a8a2a" opacity="0.38"/><circle cx="174.1" cy="693.3" r="0.9" fill="#2a8a2a" opacity="0.40"/><circle cx="197.2" cy="668.7" r="0.7" fill="#2a8a2a" opacity="0.16"/><circle cx="203.2" cy="680.3" r="0.8" fill="#2a8a2a" opacity="0.20"/><circle cx="211.2" cy="698.5" r="0.4" fill="#2a8a2a" opacity="0.42"/><circle cx="180.2" cy="720.8" r="0.7" fill="#2a8a2a" opacity="0.31"/><circle cx="214.0" cy="675.6" r="0.8" fill="#2a8a2a" opacity="0.25"/><circle cx="194.9" cy="669.7" r="0.5" fill="#2a8a2a" opacity="0.24"/><circle cx="167.3" cy="727.2" r="0.9" fill="#2a8a2a" opacity="0.41"/><circle cx="224.2" cy="692.7" r="0.8" fill="#2a8a2a" opacity="0.23"/><circle cx="203.6" cy="677.4" r="0.4" fill="#2a8a2a" opacity="0.43"/><circle cx="189.2" cy="705.1" r="0.8" fill="#2a8a2a" opacity="0.19"/><circle cx="200.9" cy="694.4" r="0.8" fill="#2a8a2a" opacity="0.29"/><circle cx="167.5" cy="714.6" r="0.8" fill="#2a8a2a" opacity="0.22"/><circle cx="200.6" cy="689.5" r="0.5" fill="#2a8a2a" opacity="0.22"/><circle cx="221.3" cy="687.5" r="0.7" fill="#2a8a2a" opacity="0.30"/><circle cx="204.6" cy="724.1" r="0.6" fill="#2a8a2a" opacity="0.21"/><circle cx="172.8" cy="713.7" r="0.7" fill="#2a8a2a" opacity="0.27"/><circle cx="187.0" cy="672.1" r="0.9" fill="#2a8a2a" opacity="0.29"/><circle cx="185.5" cy="717.7" r="0.5" fill="#2a8a2a" opacity="0.37"/><circle cx="173.3" cy="719.5" r="0.4" fill="#2a8a2a" opacity="0.23"/><circle cx="195.8" cy="695.7" r="0.6" fill="#2a8a2a" opacity="0.32"/><circle cx="162.4" cy="692.5" r="0.4" fill="#2a8a2a" opacity="0.39"/><circle cx="165.3" cy="720.8" r="0.7" fill="#2a8a2a" opacity="0.33"/><circle cx="195.1" cy="670.0" r="0.8" fill="#2a8a2a" opacity="0.24"/><circle cx="214.0" cy="717.6" r="0.7" fill="#2a8a2a" opacity="0.39"/><circle cx="179.9" cy="709.5" r="0.9" fill="#2a8a2a" opacity="0.21"/><circle cx="153.1" cy="690.7" r="0.7" fill="#2a8a2a" opacity="0.19"/><circle cx="162.7" cy="723.4" r="0.6" fill="#2a8a2a" opacity="0.19"/><circle cx="159.6" cy="702.6" r="0.5" fill="#2a8a2a" opacity="0.29"/><circle cx="188.0" cy="692.7" r="0.7" fill="#2a8a2a" opacity="0.40"/><circle cx="206.4" cy="702.0" r="0.7" fill="#2a8a2a" opacity="0.22"/><circle cx="207.5" cy="683.1" r="0.8" fill="#2a8a2a" opacity="0.22"/><circle cx="190.8" cy="707.7" r="0.6" fill="#2a8a2a" opacity="0.29"/><circle cx="150.2" cy="707.3" r="0.7" fill="#2a8a2a" opacity="0.20"/><circle cx="189.1" cy="713.8" r="0.5" fill="#2a8a2a" opacity="0.40"/><circle cx="164.9" cy="667.1" r="0.5" fill="#2a8a2a" opacity="0.18"/><circle cx="184.1" cy="679.0" r="0.6" fill="#2a8a2a" opacity="0.29"/><circle cx="174.7" cy="717.8" r="0.8" fill="#2a8a2a" opacity="0.18"/><circle cx="171.3" cy="668.8" r="0.7" fill="#2a8a2a" opacity="0.38"/><circle cx="177.9" cy="728.0" r="0.6" fill="#2a8a2a" opacity="0.24"/><circle cx="186.0" cy="692.7" r="0.6" fill="#2a8a2a" opacity="0.38"/><circle cx="211.5" cy="695.3" r="0.5" fill="#2a8a2a" opacity="0.27"/></g><g filter="url(#bl08)"><line x1="202.8" y1="693.3" x2="191.7" y2="699.4" stroke="#3cc43c" stroke-width="0.6" opacity="0.22"/><line x1="187.6" y1="686.8" x2="186.8" y2="711.6" stroke="#3cc43c" stroke-width="0.6" opacity="0.12"/><line x1="177.7" y1="712.2" x2="207.0" y2="677.5" stroke="#3cc43c" stroke-width="0.6" opacity="0.26"/><line x1="190.3" y1="710.7" x2="182.6" y2="682.2" stroke="#3cc43c" stroke-width="0.6" opacity="0.18"/><line x1="194.2" y1="706.1" x2="169.8" y2="702.7" stroke="#3cc43c" stroke-width="0.6" opacity="0.26"/><line x1="191.6" y1="677.9" x2="181.2" y2="690.0" stroke="#3cc43c" stroke-width="0.6" opacity="0.25"/><line x1="176.2" y1="682.1" x2="192.2" y2="688.5" stroke="#3cc43c" stroke-width="0.6" opacity="0.30"/><line x1="174.7" y1="698.8" x2="198.8" y2="681.6" stroke="#3cc43c" stroke-width="0.6" opacity="0.28"/><line x1="163.3" y1="714.5" x2="161.2" y2="706.0" stroke="#3cc43c" stroke-width="0.6" opacity="0.19"/><line x1="168.6" y1="692.8" x2="184.1" y2="693.6" stroke="#3cc43c" stroke-width="0.6" opacity="0.13"/><line x1="185.1" y1="689.0" x2="206.4" y2="692.3" stroke="#3cc43c" stroke-width="0.6" opacity="0.21"/><line x1="170.9" y1="715.8" x2="175.4" y2="702.9" stroke="#3cc43c" stroke-width="0.6" opacity="0.31"/><line x1="178.9" y1="707.2" x2="173.4" y2="681.4" stroke="#3cc43c" stroke-width="0.6" opacity="0.11"/><line x1="181.6" y1="712.0" x2="169.7" y2="694.6" stroke="#3cc43c" stroke-width="0.6" opacity="0.29"/><line x1="173.3" y1="683.1" x2="184.9" y2="694.0" stroke="#3cc43c" stroke-width="0.6" opacity="0.33"/><line x1="203.1" y1="686.5" x2="186.9" y2="693.6" stroke="#3cc43c" stroke-width="0.6" opacity="0.11"/><line x1="181.3" y1="713.6" x2="174.5" y2="700.4" stroke="#3cc43c" stroke-width="0.6" opacity="0.28"/><line x1="163.0" y1="714.0" x2="165.2" y2="689.1" stroke="#3cc43c" stroke-width="0.6" opacity="0.28"/><line x1="160.9" y1="692.0" x2="166.1" y2="695.9" stroke="#3cc43c" stroke-width="0.6" opacity="0.10"/><line x1="167.3" y1="685.9" x2="163.9" y2="680.6" stroke="#3cc43c" stroke-width="0.6" opacity="0.15"/><line x1="184.8" y1="682.5" x2="199.4" y2="693.7" stroke="#3cc43c" stroke-width="0.6" opacity="0.16"/><line x1="171.6" y1="710.6" x2="162.3" y2="706.7" stroke="#3cc43c" stroke-width="0.6" opacity="0.12"/><line x1="205.3" y1="693.3" x2="188.7" y2="711.5" stroke="#3cc43c" stroke-width="0.6" opacity="0.13"/><line x1="163.1" y1="704.7" x2="188.2" y2="705.8" stroke="#3cc43c" stroke-width="0.6" opacity="0.17"/><line x1="183.9" y1="684.5" x2="181.0" y2="688.3" stroke="#3cc43c" stroke-width="0.6" opacity="0.25"/><line x1="174.4" y1="688.0" x2="190.8" y2="680.4" stroke="#3cc43c" stroke-width="0.6" opacity="0.30"/><line x1="183.8" y1="686.2" x2="165.5" y2="697.4" stroke="#3cc43c" stroke-width="0.6" opacity="0.23"/><line x1="194.5" y1="692.0" x2="179.8" y2="712.7" stroke="#3cc43c" stroke-width="0.6" opacity="0.17"/><line x1="207.1" y1="712.7" x2="207.5" y2="714.7" stroke="#3cc43c" stroke-width="0.6" opacity="0.16"/><line x1="199.1" y1="701.5" x2="169.8" y2="716.9" stroke="#3cc43c" stroke-width="0.6" opacity="0.26"/><line x1="198.9" y1="699.3" x2="163.8" y2="711.5" stroke="#3cc43c" stroke-width="0.6" opacity="0.14"/><line x1="172.4" y1="701.6" x2="169.3" y2="695.5" stroke="#3cc43c" stroke-width="0.6" opacity="0.28"/><line x1="164.6" y1="703.4" x2="165.0" y2="696.0" stroke="#3cc43c" stroke-width="0.6" opacity="0.26"/><line x1="193.0" y1="678.7" x2="169.2" y2="715.4" stroke="#3cc43c" stroke-width="0.6" opacity="0.20"/><line x1="180.4" y1="692.0" x2="193.4" y2="706.6" stroke="#3cc43c" stroke-width="0.6" opacity="0.26"/><line x1="179.3" y1="699.8" x2="184.7" y2="684.5" stroke="#3cc43c" stroke-width="0.6" opacity="0.34"/><line x1="206.3" y1="708.1" x2="207.6" y2="695.6" stroke="#3cc43c" stroke-width="0.6" opacity="0.31"/><line x1="171.6" y1="706.7" x2="194.3" y2="714.5" stroke="#3cc43c" stroke-width="0.6" opacity="0.31"/><line x1="202.2" y1="687.7" x2="197.8" y2="696.0" stroke="#3cc43c" stroke-width="0.6" opacity="0.18"/><line x1="177.7" y1="709.0" x2="200.5" y2="710.8" stroke="#3cc43c" stroke-width="0.6" opacity="0.27"/></g></g><g clip-path="url(#c1_2)"><g filter="url(#bl3)"><ellipse cx="270" cy="684" rx="22" ry="17" transform="rotate(25 270 684)" fill="#2224c8"/><ellipse cx="306" cy="716" rx="14" ry="13" fill="#2224c8"/><ellipse cx="288" cy="700" rx="20" ry="13" transform="rotate(35 288 700)" fill="#2022b8"/></g><g filter="url(#bl08)"><circle cx="262.1" cy="668.2" r="1.5" fill="#2d30ec" opacity="0.31"/><circle cx="269.2" cy="669.6" r="1.0" fill="#2d30ec" opacity="0.56"/><circle cx="254.8" cy="689.2" r="1.2" fill="#2d30ec" opacity="0.62"/><circle cx="265.6" cy="673.8" r="1.3" fill="#2d30ec" opacity="0.21"/><circle cx="269.2" cy="679.4" r="0.8" fill="#2d30ec" opacity="0.63"/><circle cx="251.9" cy="683.0" r="1.5" fill="#2d30ec" opacity="0.45"/><circle cx="263.2" cy="673.3" r="2.0" fill="#2d30ec" opacity="0.39"/><circle cx="279.1" cy="695.2" r="1.5" fill="#2d30ec" opacity="0.61"/><circle cx="256.3" cy="679.0" r="1.1" fill="#2d30ec" opacity="0.40"/><circle cx="255.4" cy="684.6" r="1.5" fill="#2d30ec" opacity="0.59"/><circle cx="273.5" cy="689.2" r="1.9" fill="#2d30ec" opacity="0.61"/><circle cx="274.9" cy="680.1" r="1.9" fill="#2d30ec" opacity="0.39"/><circle cx="257.1" cy="672.1" r="1.6" fill="#2d30ec" opacity="0.67"/><circle cx="273.3" cy="691.3" r="1.9" fill="#2d30ec" opacity="0.59"/><circle cx="268.4" cy="681.9" r="1.7" fill="#2d30ec" opacity="0.36"/><circle cx="253.5" cy="680.5" r="1.8" fill="#2d30ec" opacity="0.32"/><circle cx="271.7" cy="698.6" r="1.0" fill="#2d30ec" opacity="0.27"/><circle cx="272.0" cy="679.1" r="1.9" fill="#2d30ec" opacity="0.70"/><circle cx="264.0" cy="691.5" r="1.6" fill="#2d30ec" opacity="0.29"/><circle cx="254.5" cy="675.1" r="0.8" fill="#2d30ec" opacity="0.44"/><circle cx="260.5" cy="695.6" r="1.3" fill="#2d30ec" opacity="0.62"/><circle cx="279.5" cy="691.5" r="1.1" fill="#2d30ec" opacity="0.35"/><circle cx="271.1" cy="680.8" r="1.6" fill="#2d30ec" opacity="0.45"/><circle cx="261.8" cy="684.0" r="2.0" fill="#2d30ec" opacity="0.30"/><circle cx="262.5" cy="692.4" r="1.6" fill="#2d30ec" opacity="0.68"/><circle cx="281.7" cy="692.5" r="1.5" fill="#2d30ec" opacity="0.21"/><circle cx="268.8" cy="675.0" r="1.5" fill="#2d30ec" opacity="0.23"/><circle cx="273.3" cy="681.1" r="1.4" fill="#2d30ec" opacity="0.40"/><circle cx="251.7" cy="683.7" r="1.8" fill="#2d30ec" opacity="0.50"/><circle cx="254.0" cy="680.1" r="1.8" fill="#2d30ec" opacity="0.69"/><circle cx="282.2" cy="695.5" r="1.1" fill="#2d30ec" opacity="0.66"/><circle cx="259.3" cy="681.8" r="1.3" fill="#2d30ec" opacity="0.35"/><circle cx="278.4" cy="692.0" r="1.2" fill="#2d30ec" opacity="0.47"/><circle cx="285.4" cy="693.5" r="1.9" fill="#2d30ec" opacity="0.48"/><circle cx="267.8" cy="684.8" r="1.7" fill="#2d30ec" opacity="0.68"/><circle cx="275.0" cy="685.6" r="1.6" fill="#2d30ec" opacity="0.47"/><circle cx="271.8" cy="700.6" r="0.8" fill="#2d30ec" opacity="0.36"/><circle cx="271.6" cy="695.3" r="1.1" fill="#2d30ec" opacity="0.39"/><circle cx="256.8" cy="685.1" r="1.4" fill="#2d30ec" opacity="0.50"/><circle cx="262.2" cy="683.4" r="1.9" fill="#2d30ec" opacity="0.59"/><circle cx="272.2" cy="681.0" r="1.2" fill="#2d30ec" opacity="0.60"/><circle cx="256.8" cy="679.9" r="1.7" fill="#2d30ec" opacity="0.67"/><circle cx="263.8" cy="696.5" r="1.0" fill="#2d30ec" opacity="0.62"/><circle cx="265.4" cy="683.6" r="1.9" fill="#2d30ec" opacity="0.23"/><circle cx="268.2" cy="671.0" r="1.0" fill="#2d30ec" opacity="0.35"/><circle cx="276.6" cy="689.9" r="0.9" fill="#2d30ec" opacity="0.60"/><circle cx="275.1" cy="673.8" r="1.8" fill="#2d30ec" opacity="0.61"/><circle cx="285.5" cy="681.7" r="0.8" fill="#2d30ec" opacity="0.63"/><circle cx="276.4" cy="696.7" r="1.6" fill="#2d30ec" opacity="0.62"/><circle cx="260.4" cy="686.0" r="1.6" fill="#2d30ec" opacity="0.62"/><circle cx="275.6" cy="678.7" r="1.1" fill="#2d30ec" opacity="0.47"/><circle cx="288.3" cy="683.4" r="1.6" fill="#2d30ec" opacity="0.54"/><circle cx="251.8" cy="685.4" r="1.7" fill="#2d30ec" opacity="0.35"/><circle cx="257.7" cy="670.5" r="1.7" fill="#2d30ec" opacity="0.43"/><circle cx="286.6" cy="679.7" r="0.9" fill="#2d30ec" opacity="0.37"/><circle cx="250.3" cy="683.8" r="0.9" fill="#2d30ec" opacity="0.53"/><circle cx="257.6" cy="669.3" r="1.6" fill="#2d30ec" opacity="0.64"/><circle cx="267.2" cy="680.9" r="0.8" fill="#2d30ec" opacity="0.37"/><circle cx="256.3" cy="687.8" r="1.7" fill="#2d30ec" opacity="0.59"/><circle cx="268.5" cy="690.3" r="1.0" fill="#2d30ec" opacity="0.39"/><circle cx="265.1" cy="674.0" r="1.7" fill="#2d30ec" opacity="0.31"/><circle cx="266.3" cy="674.6" r="1.8" fill="#2d30ec" opacity="0.52"/><circle cx="270.9" cy="680.2" r="1.9" fill="#2d30ec" opacity="0.67"/><circle cx="267.2" cy="685.0" r="1.8" fill="#2d30ec" opacity="0.33"/><circle cx="266.2" cy="668.2" r="1.4" fill="#2d30ec" opacity="0.58"/><circle cx="257.8" cy="675.9" r="2.0" fill="#2d30ec" opacity="0.44"/><circle cx="260.9" cy="691.8" r="1.9" fill="#2d30ec" opacity="0.39"/><circle cx="253.8" cy="681.3" r="1.7" fill="#2d30ec" opacity="0.66"/><circle cx="278.7" cy="681.3" r="1.4" fill="#2d30ec" opacity="0.34"/><circle cx="268.4" cy="682.1" r="1.9" fill="#2d30ec" opacity="0.65"/><circle cx="286.5" cy="690.9" r="2.0" fill="#2d30ec" opacity="0.27"/><circle cx="284.1" cy="695.5" r="1.8" fill="#2d30ec" opacity="0.41"/><circle cx="278.9" cy="699.4" r="1.2" fill="#2d30ec" opacity="0.61"/><circle cx="255.7" cy="686.2" r="1.4" fill="#2d30ec" opacity="0.41"/><circle cx="254.4" cy="687.3" r="1.7" fill="#2d30ec" opacity="0.24"/><circle cx="266.4" cy="679.3" r="1.5" fill="#2d30ec" opacity="0.65"/><circle cx="285.1" cy="695.8" r="1.2" fill="#2d30ec" opacity="0.25"/><circle cx="253.3" cy="676.9" r="1.5" fill="#2d30ec" opacity="0.42"/><circle cx="289.5" cy="690.1" r="1.2" fill="#2d30ec" opacity="0.41"/><circle cx="272.9" cy="686.9" r="1.3" fill="#2d30ec" opacity="0.33"/><circle cx="263.1" cy="680.5" r="1.3" fill="#2d30ec" opacity="0.69"/><circle cx="276.4" cy="676.6" r="0.9" fill="#2d30ec" opacity="0.28"/><circle cx="260.3" cy="689.5" r="1.9" fill="#2d30ec" opacity="0.32"/><circle cx="281.5" cy="687.3" r="1.4" fill="#2d30ec" opacity="0.47"/><circle cx="273.8" cy="692.5" r="1.3" fill="#2d30ec" opacity="0.66"/><circle cx="284.9" cy="683.9" r="0.9" fill="#2d30ec" opacity="0.48"/><circle cx="279.6" cy="678.7" r="0.9" fill="#2d30ec" opacity="0.44"/><circle cx="277.8" cy="679.8" r="1.3" fill="#2d30ec" opacity="0.32"/><circle cx="262.4" cy="669.2" r="1.8" fill="#2d30ec" opacity="0.43"/><circle cx="280.3" cy="683.4" r="1.8" fill="#2d30ec" opacity="0.50"/></g><g filter="url(#bl08)"><circle cx="310.0" cy="713.4" r="1.5" fill="#2d30ec" opacity="0.30"/><circle cx="306.8" cy="719.3" r="0.9" fill="#2d30ec" opacity="0.37"/><circle cx="299.0" cy="724.2" r="0.8" fill="#2d30ec" opacity="0.42"/><circle cx="315.6" cy="722.8" r="1.7" fill="#2d30ec" opacity="0.35"/><circle cx="299.0" cy="720.9" r="1.2" fill="#2d30ec" opacity="0.56"/><circle cx="302.1" cy="722.3" r="1.5" fill="#2d30ec" opacity="0.61"/><circle cx="307.2" cy="713.3" r="1.7" fill="#2d30ec" opacity="0.36"/><circle cx="298.4" cy="722.8" r="1.5" fill="#2d30ec" opacity="0.58"/><circle cx="305.7" cy="704.9" r="1.7" fill="#2d30ec" opacity="0.31"/><circle cx="299.7" cy="720.0" r="1.7" fill="#2d30ec" opacity="0.52"/><circle cx="304.5" cy="721.6" r="1.6" fill="#2d30ec" opacity="0.30"/><circle cx="306.9" cy="718.3" r="1.7" fill="#2d30ec" opacity="0.30"/><circle cx="301.1" cy="712.2" r="0.9" fill="#2d30ec" opacity="0.37"/><circle cx="312.0" cy="717.9" r="1.0" fill="#2d30ec" opacity="0.57"/><circle cx="296.0" cy="722.0" r="1.0" fill="#2d30ec" opacity="0.25"/><circle cx="299.5" cy="716.4" r="1.1" fill="#2d30ec" opacity="0.64"/><circle cx="317.4" cy="710.8" r="1.7" fill="#2d30ec" opacity="0.55"/><circle cx="307.6" cy="710.1" r="1.9" fill="#2d30ec" opacity="0.68"/><circle cx="301.3" cy="708.8" r="1.3" fill="#2d30ec" opacity="0.65"/><circle cx="316.4" cy="710.5" r="1.1" fill="#2d30ec" opacity="0.26"/><circle cx="302.5" cy="706.9" r="1.0" fill="#2d30ec" opacity="0.33"/><circle cx="308.0" cy="714.7" r="1.2" fill="#2d30ec" opacity="0.46"/><circle cx="313.1" cy="721.4" r="1.2" fill="#2d30ec" opacity="0.66"/><circle cx="313.6" cy="717.5" r="1.4" fill="#2d30ec" opacity="0.36"/><circle cx="308.8" cy="706.4" r="1.9" fill="#2d30ec" opacity="0.64"/><circle cx="299.2" cy="716.9" r="1.8" fill="#2d30ec" opacity="0.38"/><circle cx="306.0" cy="720.0" r="1.0" fill="#2d30ec" opacity="0.51"/><circle cx="304.1" cy="727.6" r="1.0" fill="#2d30ec" opacity="0.56"/><circle cx="306.7" cy="708.2" r="1.8" fill="#2d30ec" opacity="0.25"/><circle cx="309.2" cy="724.7" r="1.0" fill="#2d30ec" opacity="0.31"/><circle cx="312.9" cy="715.3" r="1.9" fill="#2d30ec" opacity="0.37"/><circle cx="303.3" cy="727.0" r="1.2" fill="#2d30ec" opacity="0.68"/><circle cx="316.2" cy="708.8" r="1.5" fill="#2d30ec" opacity="0.67"/><circle cx="313.1" cy="722.0" r="1.5" fill="#2d30ec" opacity="0.25"/><circle cx="313.4" cy="721.4" r="1.2" fill="#2d30ec" opacity="0.54"/><circle cx="303.7" cy="722.0" r="0.9" fill="#2d30ec" opacity="0.67"/><circle cx="303.0" cy="723.3" r="1.4" fill="#2d30ec" opacity="0.61"/><circle cx="300.8" cy="717.1" r="0.8" fill="#2d30ec" opacity="0.44"/><circle cx="310.6" cy="714.2" r="2.0" fill="#2d30ec" opacity="0.67"/><circle cx="311.3" cy="721.5" r="1.5" fill="#2d30ec" opacity="0.21"/><circle cx="317.0" cy="714.5" r="1.5" fill="#2d30ec" opacity="0.61"/><circle cx="317.0" cy="710.5" r="0.8" fill="#2d30ec" opacity="0.27"/><circle cx="298.5" cy="707.5" r="1.9" fill="#2d30ec" opacity="0.53"/><circle cx="308.2" cy="707.1" r="1.3" fill="#2d30ec" opacity="0.67"/><circle cx="314.9" cy="721.6" r="0.9" fill="#2d30ec" opacity="0.55"/></g><g filter="url(#bl08)"><circle cx="285.8" cy="699.4" r="0.7" fill="#0c0c60" opacity="0.40"/><circle cx="310.8" cy="695.6" r="1.4" fill="#0c0c60" opacity="0.37"/><circle cx="278.8" cy="682.6" r="1.0" fill="#0c0c60" opacity="0.46"/><circle cx="281.3" cy="717.1" r="1.1" fill="#0c0c60" opacity="0.41"/><circle cx="283.9" cy="679.7" r="1.0" fill="#0c0c60" opacity="0.21"/><circle cx="309.7" cy="712.9" r="1.4" fill="#0c0c60" opacity="0.48"/><circle cx="293.1" cy="717.2" r="0.9" fill="#0c0c60" opacity="0.49"/><circle cx="268.5" cy="692.7" r="1.1" fill="#0c0c60" opacity="0.51"/><circle cx="271.0" cy="683.4" r="1.3" fill="#0c0c60" opacity="0.52"/><circle cx="278.6" cy="675.7" r="1.3" fill="#0c0c60" opacity="0.50"/><circle cx="288.1" cy="715.4" r="1.1" fill="#0c0c60" opacity="0.42"/><circle cx="306.1" cy="719.1" r="1.2" fill="#0c0c60" opacity="0.44"/><circle cx="280.0" cy="709.6" r="1.1" fill="#0c0c60" opacity="0.25"/><circle cx="283.6" cy="694.6" r="1.0" fill="#0c0c60" opacity="0.42"/><circle cx="280.7" cy="691.4" r="1.0" fill="#0c0c60" opacity="0.35"/><circle cx="281.3" cy="694.7" r="1.1" fill="#0c0c60" opacity="0.35"/><circle cx="274.9" cy="691.8" r="0.9" fill="#0c0c60" opacity="0.22"/><circle cx="277.0" cy="682.4" r="1.2" fill="#0c0c60" opacity="0.52"/><circle cx="286.8" cy="694.7" r="0.8" fill="#0c0c60" opacity="0.52"/><circle cx="262.6" cy="691.2" r="1.5" fill="#0c0c60" opacity="0.49"/><circle cx="291.5" cy="685.2" r="0.7" fill="#0c0c60" opacity="0.49"/><circle cx="295.8" cy="704.3" r="1.4" fill="#0c0c60" opacity="0.57"/><circle cx="301.3" cy="688.5" r="1.1" fill="#0c0c60" opacity="0.37"/><circle cx="262.7" cy="708.3" r="1.3" fill="#0c0c60" opacity="0.25"/><circle cx="274.4" cy="685.3" r="1.1" fill="#0c0c60" opacity="0.33"/><circle cx="275.8" cy="710.0" r="0.8" fill="#0c0c60" opacity="0.49"/><circle cx="266.8" cy="711.5" r="1.5" fill="#0c0c60" opacity="0.33"/><circle cx="300.4" cy="688.6" r="1.0" fill="#0c0c60" opacity="0.45"/><circle cx="297.1" cy="698.4" r="0.6" fill="#0c0c60" opacity="0.25"/><circle cx="296.6" cy="689.4" r="0.9" fill="#0c0c60" opacity="0.45"/><circle cx="307.9" cy="713.4" r="0.8" fill="#0c0c60" opacity="0.43"/><circle cx="267.4" cy="703.6" r="0.7" fill="#0c0c60" opacity="0.30"/><circle cx="273.6" cy="713.6" r="0.7" fill="#0c0c60" opacity="0.28"/><circle cx="271.9" cy="677.3" r="0.9" fill="#0c0c60" opacity="0.36"/><circle cx="302.5" cy="704.6" r="1.0" fill="#0c0c60" opacity="0.36"/><circle cx="292.3" cy="724.1" r="1.0" fill="#0c0c60" opacity="0.57"/><circle cx="283.4" cy="707.7" r="0.9" fill="#0c0c60" opacity="0.31"/><circle cx="273.8" cy="703.1" r="1.0" fill="#0c0c60" opacity="0.41"/><circle cx="276.9" cy="678.3" r="0.9" fill="#0c0c60" opacity="0.47"/><circle cx="299.4" cy="682.4" r="1.2" fill="#0c0c60" opacity="0.37"/><circle cx="267.4" cy="677.1" r="0.8" fill="#0c0c60" opacity="0.53"/><circle cx="292.6" cy="695.0" r="0.8" fill="#0c0c60" opacity="0.32"/><circle cx="277.2" cy="687.1" r="1.3" fill="#0c0c60" opacity="0.52"/><circle cx="288.5" cy="721.0" r="1.2" fill="#0c0c60" opacity="0.25"/><circle cx="272.0" cy="693.3" r="1.3" fill="#0c0c60" opacity="0.43"/><circle cx="287.8" cy="687.9" r="1.5" fill="#0c0c60" opacity="0.50"/><circle cx="287.2" cy="677.6" r="1.5" fill="#0c0c60" opacity="0.30"/><circle cx="297.6" cy="699.4" r="1.4" fill="#0c0c60" opacity="0.32"/><circle cx="289.9" cy="711.5" r="0.9" fill="#0c0c60" opacity="0.31"/><circle cx="258.2" cy="689.7" r="0.9" fill="#0c0c60" opacity="0.27"/><circle cx="273.0" cy="714.4" r="0.8" fill="#0c0c60" opacity="0.27"/><circle cx="289.7" cy="710.1" r="1.1" fill="#0c0c60" opacity="0.27"/><circle cx="273.6" cy="679.7" r="1.1" fill="#0c0c60" opacity="0.39"/><circle cx="284.0" cy="710.4" r="1.4" fill="#0c0c60" opacity="0.39"/><circle cx="264.0" cy="692.5" r="1.3" fill="#0c0c60" opacity="0.25"/><circle cx="266.9" cy="706.8" r="1.2" fill="#0c0c60" opacity="0.24"/><circle cx="289.9" cy="717.2" r="1.0" fill="#0c0c60" opacity="0.26"/><circle cx="298.8" cy="698.2" r="0.7" fill="#0c0c60" opacity="0.27"/><circle cx="288.8" cy="682.7" r="0.9" fill="#0c0c60" opacity="0.42"/><circle cx="291.0" cy="698.0" r="1.3" fill="#0c0c60" opacity="0.24"/><circle cx="267.0" cy="711.1" r="1.4" fill="#0c0c60" opacity="0.57"/><circle cx="299.9" cy="709.9" r="1.3" fill="#0c0c60" opacity="0.43"/><circle cx="270.2" cy="678.4" r="0.7" fill="#0c0c60" opacity="0.55"/><circle cx="278.2" cy="690.8" r="1.1" fill="#0c0c60" opacity="0.24"/><circle cx="290.9" cy="717.8" r="1.3" fill="#0c0c60" opacity="0.55"/><circle cx="283.7" cy="680.6" r="1.3" fill="#0c0c60" opacity="0.48"/><circle cx="282.3" cy="689.9" r="0.7" fill="#0c0c60" opacity="0.53"/><circle cx="277.0" cy="710.6" r="0.9" fill="#0c0c60" opacity="0.33"/><circle cx="281.3" cy="709.8" r="1.4" fill="#0c0c60" opacity="0.34"/><circle cx="298.8" cy="702.5" r="1.4" fill="#0c0c60" opacity="0.50"/></g><g filter="url(#bl3)"><path d="M282,680 Q300,673 310,683 Q313,690 309,696" stroke="#38b838" stroke-width="9" fill="none" opacity="0.6"/><path d="M263,701 Q265,713 279,720" stroke="#38b838" stroke-width="9" fill="none" opacity="0.55"/></g><g filter="url(#bl08)"><path d="M302.9,683.4 Q290.3,690.4 283.1,689.1" stroke="#40d040" stroke-width="0.7" fill="none" opacity="0.22"/><path d="M302.1,684.2 Q281.1,700.5 269.4,710.7" stroke="#40d040" stroke-width="0.7" fill="none" opacity="0.41"/><path d="M300.8,682.9 Q285.7,694.2 277.6,696.1" stroke="#40d040" stroke-width="0.7" fill="none" opacity="0.46"/><path d="M300.7,682.5 Q296.1,698.8 286.4,705.0" stroke="#40d040" stroke-width="0.7" fill="none" opacity="0.28"/><path d="M301.0,684.1 Q297.1,685.5 291.6,681.5" stroke="#40d040" stroke-width="0.7" fill="none" opacity="0.56"/><path d="M303.4,684.8 Q296.0,684.9 290.4,690.3" stroke="#40d040" stroke-width="0.7" fill="none" opacity="0.47"/><path d="M301.6,685.1 Q287.6,696.2 273.6,702.3" stroke="#40d040" stroke-width="0.7" fill="none" opacity="0.47"/><path d="M303.4,682.5 Q293.6,690.4 279.1,696.3" stroke="#40d040" stroke-width="0.7" fill="none" opacity="0.56"/><path d="M301.5,684.6 Q299.1,685.3 289.1,693.6" stroke="#40d040" stroke-width="0.7" fill="none" opacity="0.53"/><path d="M300.9,682.7 Q290.6,693.3 276.2,711.8" stroke="#40d040" stroke-width="0.7" fill="none" opacity="0.42"/><path d="M303.2,685.0 Q287.6,680.5 274.2,685.4" stroke="#40d040" stroke-width="0.7" fill="none" opacity="0.41"/><path d="M303.4,685.4 Q291.5,684.0 278.9,687.1" stroke="#40d040" stroke-width="0.7" fill="none" opacity="0.49"/><path d="M300.9,683.8 Q293.9,679.8 293.4,678.7" stroke="#40d040" stroke-width="0.7" fill="none" opacity="0.59"/><path d="M300.6,683.3 Q295.1,694.5 293.7,710.5" stroke="#40d040" stroke-width="0.7" fill="none" opacity="0.20"/><path d="M302.3,683.4 Q293.8,686.0 282.1,686.8" stroke="#40d040" stroke-width="0.7" fill="none" opacity="0.49"/><path d="M301.4,682.6 Q294.8,692.5 288.2,701.7" stroke="#40d040" stroke-width="0.7" fill="none" opacity="0.38"/><path d="M303.1,684.9 Q297.3,687.1 285.4,682.7" stroke="#40d040" stroke-width="0.7" fill="none" opacity="0.39"/><path d="M300.8,682.5 Q287.7,689.7 268.7,685.8" stroke="#40d040" stroke-width="0.7" fill="none" opacity="0.33"/><path d="M301.5,685.2 Q284.8,694.2 275.3,697.5" stroke="#40d040" stroke-width="0.7" fill="none" opacity="0.32"/><path d="M303.0,682.7 Q292.5,684.1 273.6,682.3" stroke="#40d040" stroke-width="0.7" fill="none" opacity="0.41"/><path d="M301.6,685.5 Q300.3,693.7 289.9,711.4" stroke="#40d040" stroke-width="0.7" fill="none" opacity="0.40"/><path d="M301.3,684.2 Q295.4,689.0 298.4,685.1" stroke="#40d040" stroke-width="0.7" fill="none" opacity="0.33"/><path d="M301.3,685.0 Q297.4,700.6 283.9,709.6" stroke="#40d040" stroke-width="0.7" fill="none" opacity="0.19"/><path d="M302.2,683.2 Q287.5,695.7 277.8,710.0" stroke="#40d040" stroke-width="0.7" fill="none" opacity="0.48"/><path d="M302.6,683.5 Q298.6,677.4 286.8,679.4" stroke="#40d040" stroke-width="0.7" fill="none" opacity="0.24"/><path d="M302.9,685.4 Q286.5,697.5 265.0,711.9" stroke="#40d040" stroke-width="0.7" fill="none" opacity="0.57"/><path d="M302.7,684.5 Q292.3,689.8 282.2,685.9" stroke="#40d040" stroke-width="0.7" fill="none" opacity="0.53"/><path d="M303.1,682.6 Q293.3,687.1 277.5,696.1" stroke="#40d040" stroke-width="0.7" fill="none" opacity="0.41"/><path d="M301.1,683.7 Q297.1,682.0 283.8,681.3" stroke="#40d040" stroke-width="0.7" fill="none" opacity="0.43"/><path d="M300.9,683.3 Q286.1,682.2 278.3,676.1" stroke="#40d040" stroke-width="0.7" fill="none" opacity="0.52"/><path d="M302.8,684.3 Q295.1,690.9 294.7,707.7" stroke="#40d040" stroke-width="0.7" fill="none" opacity="0.33"/><path d="M303.4,683.1 Q279.7,688.6 262.7,691.5" stroke="#40d040" stroke-width="0.7" fill="none" opacity="0.21"/><path d="M303.5,683.5 Q292.4,681.3 288.4,679.9" stroke="#40d040" stroke-width="0.7" fill="none" opacity="0.31"/><path d="M301.5,684.9 Q290.1,684.9 280.1,681.8" stroke="#40d040" stroke-width="0.7" fill="none" opacity="0.26"/><path d="M300.8,684.7 Q283.5,695.5 265.9,698.6" stroke="#40d040" stroke-width="0.7" fill="none" opacity="0.46"/><path d="M301.9,683.9 Q290.2,684.9 276.1,680.6" stroke="#40d040" stroke-width="0.7" fill="none" opacity="0.47"/><path d="M302.1,685.2 Q290.4,687.3 285.2,691.2" stroke="#40d040" stroke-width="0.7" fill="none" opacity="0.60"/><path d="M302.7,683.2 Q289.8,687.2 283.2,687.8" stroke="#40d040" stroke-width="0.7" fill="none" opacity="0.47"/><path d="M302.5,685.1 Q305.4,686.4 300.0,690.1" stroke="#40d040" stroke-width="0.7" fill="none" opacity="0.27"/><path d="M301.9,684.7 Q284.2,695.8 275.1,711.4" stroke="#40d040" stroke-width="0.7" fill="none" opacity="0.44"/><path d="M300.6,683.8 Q294.7,687.8 297.3,700.1" stroke="#40d040" stroke-width="0.7" fill="none" opacity="0.19"/><path d="M301.7,685.4 Q289.0,694.9 282.0,698.8" stroke="#40d040" stroke-width="0.7" fill="none" opacity="0.33"/><path d="M300.5,683.2 Q291.4,692.6 285.6,695.5" stroke="#40d040" stroke-width="0.7" fill="none" opacity="0.31"/><path d="M302.3,684.9 Q294.1,687.0 295.5,694.0" stroke="#40d040" stroke-width="0.7" fill="none" opacity="0.23"/><path d="M301.8,685.5 Q297.0,686.2 291.6,690.1" stroke="#40d040" stroke-width="0.7" fill="none" opacity="0.57"/></g><g filter="url(#bl08)"><path d="M300.6,685.0 Q310.9,691.5 316.5,704.7" stroke="#40d040" stroke-width="0.7" fill="none" opacity="0.39"/><path d="M302.1,682.6 Q304.8,693.5 311.4,696.3" stroke="#40d040" stroke-width="0.7" fill="none" opacity="0.27"/><path d="M302.9,682.5 Q308.0,690.9 306.3,691.4" stroke="#40d040" stroke-width="0.7" fill="none" opacity="0.30"/><path d="M302.9,682.9 Q304.5,696.6 302.0,704.5" stroke="#40d040" stroke-width="0.7" fill="none" opacity="0.15"/><path d="M301.2,685.1 Q304.5,695.6 301.7,706.8" stroke="#40d040" stroke-width="0.7" fill="none" opacity="0.19"/><path d="M302.8,684.9 Q307.8,686.3 305.8,690.0" stroke="#40d040" stroke-width="0.7" fill="none" opacity="0.35"/><path d="M300.7,684.8 Q313.3,698.5 317.8,705.5" stroke="#40d040" stroke-width="0.7" fill="none" opacity="0.23"/><path d="M301.8,682.9 Q307.8,686.9 305.8,696.8" stroke="#40d040" stroke-width="0.7" fill="none" opacity="0.50"/><path d="M301.5,683.7 Q305.6,696.2 308.9,704.0" stroke="#40d040" stroke-width="0.7" fill="none" opacity="0.41"/><path d="M302.7,684.2 Q305.8,698.7 312.6,707.8" stroke="#40d040" stroke-width="0.7" fill="none" opacity="0.29"/><path d="M300.9,682.6 Q302.9,686.3 310.2,691.5" stroke="#40d040" stroke-width="0.7" fill="none" opacity="0.40"/><path d="M303.0,684.4 Q305.2,694.9 313.2,702.3" stroke="#40d040" stroke-width="0.7" fill="none" opacity="0.23"/><path d="M303.1,684.4 Q304.2,688.1 310.2,697.9" stroke="#40d040" stroke-width="0.7" fill="none" opacity="0.48"/><path d="M301.4,684.1 Q302.6,686.1 303.1,695.3" stroke="#40d040" stroke-width="0.7" fill="none" opacity="0.32"/><path d="M302.9,683.6 Q310.3,693.5 316.4,701.5" stroke="#40d040" stroke-width="0.7" fill="none" opacity="0.15"/><path d="M301.2,684.5 Q306.8,691.8 317.6,705.8" stroke="#40d040" stroke-width="0.7" fill="none" opacity="0.20"/><path d="M301.6,683.1 Q297.2,690.0 300.4,699.9" stroke="#40d040" stroke-width="0.7" fill="none" opacity="0.15"/><path d="M301.6,683.5 Q301.9,688.8 304.7,694.9" stroke="#40d040" stroke-width="0.7" fill="none" opacity="0.16"/><path d="M301.2,685.2 Q308.5,690.4 315.1,704.8" stroke="#40d040" stroke-width="0.7" fill="none" opacity="0.31"/><path d="M302.0,684.2 Q306.0,692.2 303.7,706.4" stroke="#40d040" stroke-width="0.7" fill="none" opacity="0.19"/><path d="M302.4,683.6 Q305.3,694.2 305.7,702.4" stroke="#40d040" stroke-width="0.7" fill="none" opacity="0.17"/><path d="M300.7,684.8 Q304.1,698.6 300.3,706.8" stroke="#40d040" stroke-width="0.7" fill="none" opacity="0.21"/><path d="M303.0,683.6 Q307.0,691.6 306.2,694.0" stroke="#40d040" stroke-width="0.7" fill="none" opacity="0.48"/><path d="M301.6,682.8 Q304.7,690.6 304.7,701.5" stroke="#40d040" stroke-width="0.7" fill="none" opacity="0.43"/><path d="M302.4,684.1 Q300.9,689.5 303.3,692.7" stroke="#40d040" stroke-width="0.7" fill="none" opacity="0.45"/></g><g filter="url(#bl08)"><path d="M269.2,710.9 Q282.9,698.7 295.1,692.0" stroke="#40d040" stroke-width="0.7" fill="none" opacity="0.19"/><path d="M269.2,712.3 Q275.3,710.7 277.4,717.7" stroke="#40d040" stroke-width="0.7" fill="none" opacity="0.37"/><path d="M268.7,712.8 Q267.2,700.8 263.2,687.6" stroke="#40d040" stroke-width="0.7" fill="none" opacity="0.26"/><path d="M269.7,711.8 Q277.4,712.5 287.9,704.1" stroke="#40d040" stroke-width="0.7" fill="none" opacity="0.37"/><path d="M270.7,712.4 Q287.2,717.2 298.9,721.5" stroke="#40d040" stroke-width="0.7" fill="none" opacity="0.53"/><path d="M269.8,711.2 Q284.5,713.1 304.7,712.9" stroke="#40d040" stroke-width="0.7" fill="none" opacity="0.47"/><path d="M270.6,712.7 Q270.8,710.8 271.7,711.0" stroke="#40d040" stroke-width="0.7" fill="none" opacity="0.55"/><path d="M270.0,713.3 Q285.6,714.9 306.0,714.4" stroke="#40d040" stroke-width="0.7" fill="none" opacity="0.34"/><path d="M269.4,710.8 Q273.6,698.8 277.7,685.0" stroke="#40d040" stroke-width="0.7" fill="none" opacity="0.35"/><path d="M270.0,712.1 Q267.0,699.7 265.1,690.5" stroke="#40d040" stroke-width="0.7" fill="none" opacity="0.31"/><path d="M269.3,711.6 Q269.5,703.1 267.9,684.7" stroke="#40d040" stroke-width="0.7" fill="none" opacity="0.29"/><path d="M268.9,711.1 Q285.3,702.4 294.7,702.7" stroke="#40d040" stroke-width="0.7" fill="none" opacity="0.31"/><path d="M270.2,713.4 Q279.4,704.7 279.6,698.6" stroke="#40d040" stroke-width="0.7" fill="none" opacity="0.41"/><path d="M271.4,712.1 Q277.4,709.1 288.2,715.5" stroke="#40d040" stroke-width="0.7" fill="none" opacity="0.39"/><path d="M269.4,713.3 Q266.2,713.6 264.9,712.3" stroke="#40d040" stroke-width="0.7" fill="none" opacity="0.31"/><path d="M270.0,713.4 Q269.3,712.7 274.1,718.0" stroke="#40d040" stroke-width="0.7" fill="none" opacity="0.21"/><path d="M270.8,712.6 Q266.4,712.3 271.3,714.2" stroke="#40d040" stroke-width="0.7" fill="none" opacity="0.47"/><path d="M269.9,713.2 Q267.1,718.0 267.2,717.8" stroke="#40d040" stroke-width="0.7" fill="none" opacity="0.35"/><path d="M269.0,713.1 Q271.6,696.4 273.3,689.7" stroke="#40d040" stroke-width="0.7" fill="none" opacity="0.39"/><path d="M268.8,711.3 Q284.8,700.6 300.0,689.7" stroke="#40d040" stroke-width="0.7" fill="none" opacity="0.52"/><path d="M271.4,712.3 Q283.0,711.3 293.8,703.3" stroke="#40d040" stroke-width="0.7" fill="none" opacity="0.18"/><path d="M270.0,712.2 Q282.6,697.5 300.4,690.3" stroke="#40d040" stroke-width="0.7" fill="none" opacity="0.34"/><path d="M269.4,713.0 Q278.5,701.1 282.7,689.4" stroke="#40d040" stroke-width="0.7" fill="none" opacity="0.53"/><path d="M269.8,711.3 Q282.0,715.6 302.6,721.4" stroke="#40d040" stroke-width="0.7" fill="none" opacity="0.45"/><path d="M271.2,711.9 Q286.0,705.3 301.8,689.3" stroke="#40d040" stroke-width="0.7" fill="none" opacity="0.21"/><path d="M269.3,713.5 Q278.9,704.7 282.1,703.7" stroke="#40d040" stroke-width="0.7" fill="none" opacity="0.17"/><path d="M271.3,711.2 Q281.9,699.0 288.9,687.6" stroke="#40d040" stroke-width="0.7" fill="none" opacity="0.50"/><path d="M269.7,713.4 Q266.9,694.7 272.0,685.8" stroke="#40d040" stroke-width="0.7" fill="none" opacity="0.30"/><path d="M268.8,712.2 Q281.9,699.0 293.5,685.3" stroke="#40d040" stroke-width="0.7" fill="none" opacity="0.34"/><path d="M268.8,710.7 Q275.1,710.0 276.4,715.6" stroke="#40d040" stroke-width="0.7" fill="none" opacity="0.27"/><path d="M268.9,712.9 Q284.7,720.0 290.0,720.8" stroke="#40d040" stroke-width="0.7" fill="none" opacity="0.46"/><path d="M269.1,710.9 Q277.4,713.1 282.8,721.8" stroke="#40d040" stroke-width="0.7" fill="none" opacity="0.40"/><path d="M271.4,711.3 Q274.8,709.4 289.5,716.6" stroke="#40d040" stroke-width="0.7" fill="none" opacity="0.27"/><path d="M270.2,712.3 Q288.0,704.1 300.1,688.2" stroke="#40d040" stroke-width="0.7" fill="none" opacity="0.17"/><path d="M268.8,711.2 Q282.1,709.8 288.7,707.3" stroke="#40d040" stroke-width="0.7" fill="none" opacity="0.42"/><path d="M270.1,711.6 Q265.3,703.0 265.5,688.1" stroke="#40d040" stroke-width="0.7" fill="none" opacity="0.54"/><path d="M269.6,711.8 Q279.4,706.1 287.6,693.1" stroke="#40d040" stroke-width="0.7" fill="none" opacity="0.39"/><path d="M269.5,711.9 Q284.5,711.0 305.4,708.3" stroke="#40d040" stroke-width="0.7" fill="none" opacity="0.44"/><path d="M271.0,711.9 Q264.6,708.6 262.9,703.3" stroke="#40d040" stroke-width="0.7" fill="none" opacity="0.41"/><path d="M269.2,712.8 Q272.5,703.2 274.7,693.7" stroke="#40d040" stroke-width="0.7" fill="none" opacity="0.36"/></g><g filter="url(#bl08)"><polyline points="299.5,679.0 300.5,679.4 301.5,679.7 302.5,680.1 303.4,680.6" stroke="#40d840" stroke-width="0.8" fill="none" opacity="0.65"/><polyline points="307.6,697.4 307.5,698.1 307.4,698.8 307.3,699.4 307.2,700.1" stroke="#40d840" stroke-width="0.8" fill="none" opacity="0.52"/><polyline points="285.7,681.4 287.4,680.7 289.1,680.2 290.8,679.8 292.6,679.6" stroke="#40d840" stroke-width="0.8" fill="none" opacity="0.38"/><polyline points="300.6,685.2 301.6,685.8 302.6,686.4 303.6,687.1 304.4,687.9" stroke="#40d840" stroke-width="0.8" fill="none" opacity="0.39"/><polyline points="310.8,691.9 311.2,693.3 311.5,694.7 311.7,696.1 311.7,697.5" stroke="#40d840" stroke-width="0.8" fill="none" opacity="0.26"/><polyline points="293.6,684.8 294.3,684.8 295.0,684.8 295.7,684.9 296.4,685.0" stroke="#40d840" stroke-width="0.8" fill="none" opacity="0.52"/><polyline points="306.2,685.3 307.4,686.5 308.5,687.9 309.4,689.3 310.2,690.9" stroke="#40d840" stroke-width="0.8" fill="none" opacity="0.66"/><polyline points="301.8,684.8 302.8,685.3 303.7,686.0 304.5,686.7 305.3,687.4" stroke="#40d840" stroke-width="0.8" fill="none" opacity="0.44"/><polyline points="307.0,697.4 306.9,698.2 306.8,699.1 306.6,699.9 306.4,700.7" stroke="#40d840" stroke-width="0.8" fill="none" opacity="0.38"/><polyline points="292.7,681.0 294.1,680.9 295.5,681.0 296.9,681.2 298.2,681.4" stroke="#40d840" stroke-width="0.8" fill="none" opacity="0.44"/><polyline points="307.7,697.1 307.6,698.3 307.4,699.4 307.2,700.6 306.7,701.7" stroke="#40d840" stroke-width="0.8" fill="none" opacity="0.23"/><polyline points="309.9,688.7 310.6,689.9 311.1,691.2 311.6,692.5 311.9,693.8" stroke="#40d840" stroke-width="0.8" fill="none" opacity="0.46"/><polyline points="285.6,680.1 286.8,679.6 288.1,679.2 289.4,678.8 290.7,678.6" stroke="#40d840" stroke-width="0.8" fill="none" opacity="0.50"/><polyline points="285.7,679.5 286.5,679.1 287.3,678.8 288.2,678.6 289.1,678.3" stroke="#40d840" stroke-width="0.8" fill="none" opacity="0.48"/><polyline points="290.9,677.8 292.7,677.6 294.5,677.6 296.3,677.7 298.0,678.0" stroke="#40d840" stroke-width="0.8" fill="none" opacity="0.63"/><polyline points="305.1,689.5 305.8,690.5 306.4,691.6 306.9,692.7 307.3,693.8" stroke="#40d840" stroke-width="0.8" fill="none" opacity="0.44"/><polyline points="307.7,693.7 307.9,694.4 308.0,695.2 308.1,696.0 308.1,696.8" stroke="#40d840" stroke-width="0.8" fill="none" opacity="0.63"/><polyline points="305.9,691.0 306.1,691.4 306.3,691.8 306.5,692.3 306.7,692.7" stroke="#40d840" stroke-width="0.8" fill="none" opacity="0.48"/><polyline points="314.0,698.3 313.8,699.9 313.5,701.4 313.0,702.8 312.5,704.3" stroke="#40d840" stroke-width="0.8" fill="none" opacity="0.26"/><polyline points="305.0,686.6 305.6,687.1 306.1,687.7 306.5,688.2 307.0,688.8" stroke="#40d840" stroke-width="0.8" fill="none" opacity="0.28"/><polyline points="303.2,682.1 303.8,682.4 304.4,682.8 305.0,683.2 305.5,683.6" stroke="#40d840" stroke-width="0.8" fill="none" opacity="0.53"/><polyline points="307.6,696.5 307.6,697.6 307.5,698.8 307.2,699.9 306.9,701.0" stroke="#40d840" stroke-width="0.8" fill="none" opacity="0.64"/><polyline points="305.0,684.9 306.3,686.0 307.4,687.3 308.4,688.7 309.3,690.1" stroke="#40d840" stroke-width="0.8" fill="none" opacity="0.25"/><polyline points="312.3,687.5 312.8,688.4 313.2,689.2 313.6,690.1 313.9,691.0" stroke="#40d840" stroke-width="0.8" fill="none" opacity="0.47"/><polyline points="309.6,696.3 309.6,697.4 309.5,698.4 309.4,699.4 309.2,700.5" stroke="#40d840" stroke-width="0.8" fill="none" opacity="0.53"/><polyline points="307.5,690.4 307.9,691.3 308.3,692.2 308.6,693.1 308.9,694.1" stroke="#40d840" stroke-width="0.8" fill="none" opacity="0.42"/><polyline points="306.7,691.0 307.0,691.6 307.3,692.2 307.6,692.9 307.8,693.5" stroke="#40d840" stroke-width="0.8" fill="none" opacity="0.45"/><polyline points="306.5,689.0 306.8,689.5 307.2,689.9 307.4,690.4 307.7,690.9" stroke="#40d840" stroke-width="0.8" fill="none" opacity="0.69"/><polyline points="295.3,682.6 296.7,682.8 298.1,683.1 299.4,683.5 300.7,684.0" stroke="#40d840" stroke-width="0.8" fill="none" opacity="0.25"/><polyline points="304.5,681.8 306.1,682.8 307.5,684.0 308.8,685.4 309.9,686.8" stroke="#40d840" stroke-width="0.8" fill="none" opacity="0.23"/></g><g filter="url(#bl08)"><polyline points="267.5,706.1 267.0,704.9 266.6,703.7 266.3,702.4 266.2,701.1" stroke="#40d840" stroke-width="0.8" fill="none" opacity="0.46"/><polyline points="269.6,711.9 269.0,711.2 268.4,710.6 267.8,709.9 267.3,709.2" stroke="#40d840" stroke-width="0.8" fill="none" opacity="0.23"/><polyline points="276.4,715.1 274.8,714.4 273.3,713.5 271.8,712.5 270.5,711.4" stroke="#40d840" stroke-width="0.8" fill="none" opacity="0.39"/><polyline points="268.2,705.6 267.7,704.6 267.4,703.6 267.2,702.5 267.0,701.5" stroke="#40d840" stroke-width="0.8" fill="none" opacity="0.41"/><polyline points="285.9,712.2 285.0,712.3 284.1,712.3 283.3,712.3 282.4,712.2" stroke="#40d840" stroke-width="0.8" fill="none" opacity="0.60"/><polyline points="268.7,700.0 268.8,698.9 268.9,697.8 269.2,696.7 269.6,695.7" stroke="#40d840" stroke-width="0.8" fill="none" opacity="0.54"/><polyline points="277.1,716.1 275.4,715.4 273.8,714.6 272.3,713.7 270.9,712.6" stroke="#40d840" stroke-width="0.8" fill="none" opacity="0.43"/><polyline points="264.4,705.9 264.1,704.9 263.8,703.9 263.6,702.9 263.4,701.9" stroke="#40d840" stroke-width="0.8" fill="none" opacity="0.41"/><polyline points="268.6,704.0 268.3,702.7 268.0,701.4 268.0,700.0 268.0,698.6" stroke="#40d840" stroke-width="0.8" fill="none" opacity="0.35"/><polyline points="273.6,716.5 272.8,716.1 272.1,715.7 271.4,715.2 270.8,714.8" stroke="#40d840" stroke-width="0.8" fill="none" opacity="0.47"/><polyline points="269.4,713.7 268.3,712.7 267.3,711.6 266.4,710.4 265.6,709.2" stroke="#40d840" stroke-width="0.8" fill="none" opacity="0.21"/><polyline points="275.0,714.2 273.7,713.4 272.4,712.6 271.3,711.7 270.2,710.7" stroke="#40d840" stroke-width="0.8" fill="none" opacity="0.39"/><polyline points="277.9,716.5 276.9,716.2 276.0,715.8 275.1,715.4 274.2,715.0" stroke="#40d840" stroke-width="0.8" fill="none" opacity="0.32"/><polyline points="262.3,698.9 262.5,696.9 263.0,695.0 263.6,693.0 264.5,691.2" stroke="#40d840" stroke-width="0.8" fill="none" opacity="0.30"/><polyline points="271.7,710.2 271.3,709.8 270.8,709.3 270.4,708.8 270.0,708.2" stroke="#40d840" stroke-width="0.8" fill="none" opacity="0.21"/><polyline points="269.7,712.8 268.3,711.3 267.1,709.8 266.0,708.1 265.2,706.4" stroke="#40d840" stroke-width="0.8" fill="none" opacity="0.33"/><polyline points="279.0,711.6 277.6,711.1 276.3,710.5 275.1,709.8 273.9,708.9" stroke="#40d840" stroke-width="0.8" fill="none" opacity="0.53"/><polyline points="262.5,702.0 262.4,701.2 262.4,700.4 262.4,699.6 262.4,698.9" stroke="#40d840" stroke-width="0.8" fill="none" opacity="0.45"/><polyline points="273.8,714.2 272.8,713.5 271.8,712.8 270.8,712.1 270.0,711.3" stroke="#40d840" stroke-width="0.8" fill="none" opacity="0.40"/><polyline points="267.4,701.2 267.4,699.7 267.5,698.2 267.8,696.7 268.3,695.3" stroke="#40d840" stroke-width="0.8" fill="none" opacity="0.18"/><polyline points="265.4,704.3 265.0,702.9 264.8,701.5 264.8,700.0 264.8,698.6" stroke="#40d840" stroke-width="0.8" fill="none" opacity="0.21"/><polyline points="284.5,714.9 282.8,714.9 281.1,714.7 279.4,714.3 277.8,713.9" stroke="#40d840" stroke-width="0.8" fill="none" opacity="0.38"/><polyline points="265.1,697.9 265.2,697.1 265.4,696.2 265.6,695.4 265.9,694.6" stroke="#40d840" stroke-width="0.8" fill="none" opacity="0.21"/><polyline points="272.0,708.2 271.2,707.2 270.5,706.2 269.9,705.1 269.5,704.0" stroke="#40d840" stroke-width="0.8" fill="none" opacity="0.50"/><polyline points="263.8,697.9 264.1,696.2 264.6,694.5 265.3,692.8 266.2,691.2" stroke="#40d840" stroke-width="0.8" fill="none" opacity="0.58"/><polyline points="264.8,706.7 264.3,705.4 263.9,704.0 263.6,702.6 263.5,701.3" stroke="#40d840" stroke-width="0.8" fill="none" opacity="0.52"/></g><g filter="url(#bl2)"><ellipse cx="302" cy="684" rx="7" ry="4" transform="rotate(25 302 684)" fill="#60e840" opacity="0.6"/><ellipse cx="270" cy="711" rx="4" ry="5" fill="#50c840" opacity="0.5"/></g><g filter="url(#bl08)"><path d="M277.8,712.0 Q287.4,697.7 300.6,693.6" stroke="#45d8c0" stroke-width="0.9" fill="none" opacity="0.69"/><path d="M275.7,714.0 Q286.5,695.5 300.6,685.8" stroke="#45d8c0" stroke-width="0.9" fill="none" opacity="0.77"/><path d="M276.2,710.3 Q292.8,699.3 303.0,689.4" stroke="#45d8c0" stroke-width="0.9" fill="none" opacity="0.53"/><path d="M279.7,709.7 Q290.2,698.8 299.1,686.5" stroke="#45d8c0" stroke-width="0.9" fill="none" opacity="0.55"/><path d="M278.8,710.6 Q286.5,702.5 299.1,693.8" stroke="#45d8c0" stroke-width="0.9" fill="none" opacity="0.32"/><path d="M277.9,708.9 Q288.1,698.4 304.0,689.4" stroke="#45d8c0" stroke-width="0.9" fill="none" opacity="0.51"/><path d="M276.4,711.1 Q288.2,702.6 299.5,686.3" stroke="#45d8c0" stroke-width="0.9" fill="none" opacity="0.57"/><path d="M276.1,712.3 Q286.3,700.4 300.9,694.3" stroke="#45d8c0" stroke-width="0.9" fill="none" opacity="0.45"/><path d="M276.6,709.9 Q290.3,697.2 303.4,689.1" stroke="#45d8c0" stroke-width="0.9" fill="none" opacity="0.65"/><path d="M275.7,710.7 Q290.5,700.7 303.2,689.3" stroke="#45d8c0" stroke-width="0.9" fill="none" opacity="0.34"/><path d="M274.7,708.9 Q287.5,696.5 303.3,688.4" stroke="#45d8c0" stroke-width="0.9" fill="none" opacity="0.75"/><path d="M275.4,709.5 Q287.5,696.2 303.5,690.8" stroke="#45d8c0" stroke-width="0.9" fill="none" opacity="0.43"/></g><g filter="url(#bl08)"><polyline points="245.9,653.1 243.8,652.0 241.8,650.7 239.9,649.2 238.2,647.6" stroke="#3ad03a" stroke-width="1.0" fill="none" opacity="0.58"/><polyline points="251.3,654.3 249.5,653.8 247.8,653.2 246.1,652.5 244.5,651.6" stroke="#3ad03a" stroke-width="1.0" fill="none" opacity="0.44"/><polyline points="241.4,650.9 240.0,649.8 238.7,648.6 237.4,647.4 236.2,646.1" stroke="#3ad03a" stroke-width="1.0" fill="none" opacity="0.29"/><polyline points="247.1,653.5 244.7,652.3 242.3,650.9 240.1,649.2 238.1,647.4" stroke="#3ad03a" stroke-width="1.0" fill="none" opacity="0.45"/><polyline points="256.3,655.4 254.9,655.2 253.4,655.0 252.0,654.8 250.6,654.4" stroke="#3ad03a" stroke-width="1.0" fill="none" opacity="0.31"/><polyline points="249.8,655.7 247.8,655.0 245.8,654.2 244.0,653.3 242.2,652.2" stroke="#3ad03a" stroke-width="1.0" fill="none" opacity="0.78"/><polyline points="243.4,652.7 240.9,651.0 238.6,649.1 236.5,647.0 234.6,644.6" stroke="#3ad03a" stroke-width="1.0" fill="none" opacity="0.25"/><polyline points="270.3,654.0 267.4,655.2 264.5,656.0 261.4,656.5 258.3,656.7" stroke="#3ad03a" stroke-width="1.0" fill="none" opacity="0.58"/><polyline points="252.5,655.3 250.6,654.9 248.9,654.3 247.1,653.6 245.4,652.8" stroke="#3ad03a" stroke-width="1.0" fill="none" opacity="0.32"/><polyline points="255.1,655.1 253.6,654.9 252.1,654.6 250.7,654.2 249.2,653.8" stroke="#3ad03a" stroke-width="1.0" fill="none" opacity="0.73"/><polyline points="254.1,655.3 251.4,654.8 248.8,654.0 246.2,652.9 243.8,651.6" stroke="#3ad03a" stroke-width="1.0" fill="none" opacity="0.56"/><polyline points="264.7,654.6 262.2,655.1 259.5,655.4 256.9,655.4 254.2,655.2" stroke="#3ad03a" stroke-width="1.0" fill="none" opacity="0.60"/></g><g filter="url(#bl08)"><circle cx="301.3" cy="746.0" r="0.9" fill="#30c030" opacity="0.49"/><circle cx="300.6" cy="748.9" r="1.0" fill="#30c030" opacity="0.37"/><circle cx="295.3" cy="748.8" r="1.0" fill="#30c030" opacity="0.55"/><circle cx="305.0" cy="747.0" r="0.9" fill="#30c030" opacity="0.49"/><circle cx="310.6" cy="746.3" r="1.2" fill="#30c030" opacity="0.47"/><circle cx="300.1" cy="744.3" r="1.5" fill="#30c030" opacity="0.53"/><circle cx="296.3" cy="745.7" r="0.9" fill="#30c030" opacity="0.67"/><circle cx="308.2" cy="746.3" r="1.3" fill="#30c030" opacity="0.52"/><circle cx="305.6" cy="745.0" r="1.3" fill="#30c030" opacity="0.31"/><circle cx="303.7" cy="747.7" r="1.6" fill="#30c030" opacity="0.56"/><circle cx="300.5" cy="744.1" r="1.6" fill="#30c030" opacity="0.50"/><circle cx="308.0" cy="746.9" r="1.0" fill="#30c030" opacity="0.46"/><circle cx="289.8" cy="747.5" r="1.0" fill="#30c030" opacity="0.58"/><circle cx="292.2" cy="748.1" r="1.3" fill="#30c030" opacity="0.58"/><circle cx="310.8" cy="745.8" r="1.3" fill="#30c030" opacity="0.46"/></g><g filter="url(#bl08)"><circle cx="305.0" cy="707.2" r="0.5" fill="#2a8a2a" opacity="0.42"/><circle cx="272.7" cy="723.2" r="0.7" fill="#2a8a2a" opacity="0.40"/><circle cx="308.0" cy="696.7" r="0.6" fill="#2a8a2a" opacity="0.39"/><circle cx="296.7" cy="702.9" r="0.8" fill="#2a8a2a" opacity="0.16"/><circle cx="248.0" cy="697.5" r="0.4" fill="#2a8a2a" opacity="0.40"/><circle cx="264.1" cy="673.6" r="0.8" fill="#2a8a2a" opacity="0.35"/><circle cx="278.2" cy="706.9" r="0.7" fill="#2a8a2a" opacity="0.43"/><circle cx="285.6" cy="702.9" r="0.6" fill="#2a8a2a" opacity="0.27"/><circle cx="299.4" cy="672.0" r="0.7" fill="#2a8a2a" opacity="0.43"/><circle cx="304.8" cy="703.1" r="0.6" fill="#2a8a2a" opacity="0.18"/><circle cx="254.0" cy="702.8" r="0.8" fill="#2a8a2a" opacity="0.41"/><circle cx="260.9" cy="717.9" r="0.8" fill="#2a8a2a" opacity="0.29"/><circle cx="312.2" cy="677.4" r="0.6" fill="#2a8a2a" opacity="0.30"/><circle cx="302.2" cy="696.3" r="0.6" fill="#2a8a2a" opacity="0.41"/><circle cx="276.8" cy="694.2" r="0.5" fill="#2a8a2a" opacity="0.29"/><circle cx="300.7" cy="690.0" r="0.7" fill="#2a8a2a" opacity="0.30"/><circle cx="268.9" cy="703.3" r="0.9" fill="#2a8a2a" opacity="0.21"/><circle cx="258.6" cy="725.3" r="0.7" fill="#2a8a2a" opacity="0.16"/><circle cx="267.6" cy="700.8" r="0.5" fill="#2a8a2a" opacity="0.24"/><circle cx="315.7" cy="696.0" r="0.5" fill="#2a8a2a" opacity="0.33"/><circle cx="255.6" cy="701.4" r="0.7" fill="#2a8a2a" opacity="0.18"/><circle cx="288.7" cy="686.3" r="0.8" fill="#2a8a2a" opacity="0.33"/><circle cx="316.1" cy="707.7" r="0.5" fill="#2a8a2a" opacity="0.21"/><circle cx="300.5" cy="722.3" r="0.4" fill="#2a8a2a" opacity="0.28"/><circle cx="268.5" cy="697.7" r="0.8" fill="#2a8a2a" opacity="0.32"/><circle cx="303.6" cy="719.1" r="0.5" fill="#2a8a2a" opacity="0.34"/><circle cx="275.5" cy="698.1" r="0.7" fill="#2a8a2a" opacity="0.35"/><circle cx="259.8" cy="724.4" r="0.5" fill="#2a8a2a" opacity="0.24"/><circle cx="274.9" cy="732.5" r="0.4" fill="#2a8a2a" opacity="0.44"/><circle cx="304.9" cy="675.6" r="0.8" fill="#2a8a2a" opacity="0.15"/><circle cx="256.4" cy="689.7" r="0.4" fill="#2a8a2a" opacity="0.29"/><circle cx="273.3" cy="717.2" r="0.6" fill="#2a8a2a" opacity="0.44"/><circle cx="311.1" cy="676.3" r="0.9" fill="#2a8a2a" opacity="0.42"/><circle cx="289.9" cy="701.9" r="0.5" fill="#2a8a2a" opacity="0.25"/><circle cx="263.7" cy="678.1" r="0.7" fill="#2a8a2a" opacity="0.25"/><circle cx="305.3" cy="705.3" r="0.8" fill="#2a8a2a" opacity="0.18"/><circle cx="311.4" cy="700.6" r="0.7" fill="#2a8a2a" opacity="0.22"/><circle cx="299.9" cy="693.2" r="0.8" fill="#2a8a2a" opacity="0.33"/><circle cx="257.7" cy="685.6" r="0.8" fill="#2a8a2a" opacity="0.15"/><circle cx="295.0" cy="703.3" r="0.8" fill="#2a8a2a" opacity="0.25"/><circle cx="283.2" cy="698.3" r="0.8" fill="#2a8a2a" opacity="0.17"/><circle cx="285.8" cy="682.7" r="0.7" fill="#2a8a2a" opacity="0.23"/><circle cx="262.7" cy="680.7" r="0.8" fill="#2a8a2a" opacity="0.26"/><circle cx="313.9" cy="716.9" r="0.5" fill="#2a8a2a" opacity="0.32"/><circle cx="295.0" cy="672.1" r="0.7" fill="#2a8a2a" opacity="0.30"/><circle cx="298.0" cy="684.8" r="0.9" fill="#2a8a2a" opacity="0.34"/><circle cx="314.2" cy="685.9" r="0.8" fill="#2a8a2a" opacity="0.41"/><circle cx="310.6" cy="681.9" r="0.8" fill="#2a8a2a" opacity="0.36"/><circle cx="282.4" cy="728.9" r="0.8" fill="#2a8a2a" opacity="0.45"/><circle cx="319.9" cy="705.3" r="0.8" fill="#2a8a2a" opacity="0.35"/><circle cx="277.4" cy="699.9" r="0.7" fill="#2a8a2a" opacity="0.21"/><circle cx="266.8" cy="724.8" r="0.8" fill="#2a8a2a" opacity="0.36"/><circle cx="299.3" cy="700.7" r="0.7" fill="#2a8a2a" opacity="0.35"/><circle cx="247.6" cy="695.9" r="0.9" fill="#2a8a2a" opacity="0.21"/><circle cx="282.5" cy="669.6" r="0.5" fill="#2a8a2a" opacity="0.40"/><circle cx="307.6" cy="726.5" r="0.5" fill="#2a8a2a" opacity="0.43"/><circle cx="275.3" cy="696.4" r="0.9" fill="#2a8a2a" opacity="0.31"/><circle cx="298.7" cy="671.9" r="0.4" fill="#2a8a2a" opacity="0.23"/><circle cx="298.6" cy="677.8" r="0.8" fill="#2a8a2a" opacity="0.25"/><circle cx="287.0" cy="669.5" r="0.8" fill="#2a8a2a" opacity="0.39"/><circle cx="291.1" cy="713.7" r="0.6" fill="#2a8a2a" opacity="0.19"/><circle cx="271.7" cy="717.3" r="0.7" fill="#2a8a2a" opacity="0.19"/><circle cx="265.3" cy="698.2" r="0.4" fill="#2a8a2a" opacity="0.16"/><circle cx="281.2" cy="673.6" r="0.8" fill="#2a8a2a" opacity="0.19"/><circle cx="303.9" cy="721.2" r="0.6" fill="#2a8a2a" opacity="0.31"/><circle cx="276.4" cy="734.3" r="0.5" fill="#2a8a2a" opacity="0.44"/><circle cx="270.6" cy="694.3" r="0.6" fill="#2a8a2a" opacity="0.35"/><circle cx="314.1" cy="713.6" r="0.5" fill="#2a8a2a" opacity="0.45"/><circle cx="301.9" cy="700.5" r="0.8" fill="#2a8a2a" opacity="0.18"/><circle cx="292.5" cy="720.6" r="0.8" fill="#2a8a2a" opacity="0.35"/><circle cx="251.8" cy="698.4" r="0.5" fill="#2a8a2a" opacity="0.33"/><circle cx="277.2" cy="696.8" r="0.7" fill="#2a8a2a" opacity="0.33"/><circle cx="314.7" cy="684.3" r="0.5" fill="#2a8a2a" opacity="0.21"/><circle cx="274.4" cy="729.1" r="0.8" fill="#2a8a2a" opacity="0.44"/><circle cx="285.2" cy="665.1" r="0.5" fill="#2a8a2a" opacity="0.29"/><circle cx="298.8" cy="675.1" r="0.5" fill="#2a8a2a" opacity="0.25"/><circle cx="254.8" cy="721.6" r="0.8" fill="#2a8a2a" opacity="0.16"/><circle cx="308.1" cy="724.7" r="0.7" fill="#2a8a2a" opacity="0.24"/><circle cx="254.2" cy="710.5" r="0.5" fill="#2a8a2a" opacity="0.35"/><circle cx="298.1" cy="680.7" r="0.6" fill="#2a8a2a" opacity="0.21"/></g><g filter="url(#bl08)"><line x1="306.3" y1="705.3" x2="296.9" y2="704.8" stroke="#3cc43c" stroke-width="0.6" opacity="0.12"/><line x1="307.1" y1="712.4" x2="287.8" y2="703.3" stroke="#3cc43c" stroke-width="0.6" opacity="0.22"/><line x1="300.3" y1="700.6" x2="275.4" y2="699.8" stroke="#3cc43c" stroke-width="0.6" opacity="0.15"/><line x1="261.3" y1="700.0" x2="306.3" y2="709.5" stroke="#3cc43c" stroke-width="0.6" opacity="0.15"/><line x1="287.4" y1="703.0" x2="291.1" y2="697.1" stroke="#3cc43c" stroke-width="0.6" opacity="0.23"/><line x1="296.8" y1="717.3" x2="287.8" y2="712.6" stroke="#3cc43c" stroke-width="0.6" opacity="0.27"/><line x1="267.2" y1="687.4" x2="277.3" y2="692.0" stroke="#3cc43c" stroke-width="0.6" opacity="0.22"/><line x1="276.3" y1="722.9" x2="299.2" y2="692.8" stroke="#3cc43c" stroke-width="0.6" opacity="0.27"/><line x1="309.1" y1="682.7" x2="293.7" y2="721.0" stroke="#3cc43c" stroke-width="0.6" opacity="0.19"/><line x1="306.6" y1="713.6" x2="277.6" y2="681.9" stroke="#3cc43c" stroke-width="0.6" opacity="0.30"/><line x1="282.6" y1="691.8" x2="285.1" y2="710.0" stroke="#3cc43c" stroke-width="0.6" opacity="0.32"/><line x1="308.7" y1="711.8" x2="270.1" y2="692.7" stroke="#3cc43c" stroke-width="0.6" opacity="0.10"/><line x1="271.4" y1="691.3" x2="270.2" y2="697.9" stroke="#3cc43c" stroke-width="0.6" opacity="0.13"/><line x1="295.0" y1="694.7" x2="273.8" y2="707.9" stroke="#3cc43c" stroke-width="0.6" opacity="0.18"/><line x1="262.2" y1="715.2" x2="300.2" y2="717.2" stroke="#3cc43c" stroke-width="0.6" opacity="0.17"/><line x1="274.7" y1="708.4" x2="268.6" y2="721.4" stroke="#3cc43c" stroke-width="0.6" opacity="0.26"/><line x1="289.5" y1="677.5" x2="275.7" y2="695.3" stroke="#3cc43c" stroke-width="0.6" opacity="0.35"/><line x1="268.5" y1="703.4" x2="265.0" y2="721.6" stroke="#3cc43c" stroke-width="0.6" opacity="0.29"/><line x1="303.2" y1="711.0" x2="270.3" y2="686.6" stroke="#3cc43c" stroke-width="0.6" opacity="0.11"/><line x1="289.7" y1="678.9" x2="270.8" y2="683.4" stroke="#3cc43c" stroke-width="0.6" opacity="0.33"/><line x1="302.1" y1="688.7" x2="311.5" y2="682.7" stroke="#3cc43c" stroke-width="0.6" opacity="0.14"/><line x1="280.8" y1="713.7" x2="266.1" y2="712.9" stroke="#3cc43c" stroke-width="0.6" opacity="0.24"/><line x1="302.5" y1="691.2" x2="263.2" y2="679.7" stroke="#3cc43c" stroke-width="0.6" opacity="0.28"/><line x1="287.4" y1="711.7" x2="271.3" y2="688.4" stroke="#3cc43c" stroke-width="0.6" opacity="0.15"/><line x1="305.2" y1="708.8" x2="269.1" y2="709.8" stroke="#3cc43c" stroke-width="0.6" opacity="0.11"/><line x1="285.3" y1="687.3" x2="300.8" y2="709.5" stroke="#3cc43c" stroke-width="0.6" opacity="0.27"/><line x1="271.3" y1="677.1" x2="294.3" y2="708.3" stroke="#3cc43c" stroke-width="0.6" opacity="0.10"/><line x1="304.6" y1="718.1" x2="279.8" y2="699.9" stroke="#3cc43c" stroke-width="0.6" opacity="0.26"/><line x1="309.1" y1="706.2" x2="287.8" y2="711.9" stroke="#3cc43c" stroke-width="0.6" opacity="0.22"/><line x1="262.7" y1="701.3" x2="282.5" y2="691.1" stroke="#3cc43c" stroke-width="0.6" opacity="0.20"/><line x1="272.5" y1="690.0" x2="299.8" y2="717.5" stroke="#3cc43c" stroke-width="0.6" opacity="0.21"/><line x1="305.0" y1="681.0" x2="287.8" y2="710.7" stroke="#3cc43c" stroke-width="0.6" opacity="0.30"/><line x1="281.1" y1="683.1" x2="311.0" y2="704.2" stroke="#3cc43c" stroke-width="0.6" opacity="0.26"/><line x1="279.0" y1="680.4" x2="290.7" y2="694.4" stroke="#3cc43c" stroke-width="0.6" opacity="0.32"/><line x1="295.5" y1="711.3" x2="290.6" y2="711.1" stroke="#3cc43c" stroke-width="0.6" opacity="0.13"/><line x1="312.8" y1="702.9" x2="292.1" y2="684.1" stroke="#3cc43c" stroke-width="0.6" opacity="0.12"/><line x1="297.7" y1="709.9" x2="295.7" y2="687.2" stroke="#3cc43c" stroke-width="0.6" opacity="0.22"/><line x1="300.9" y1="705.7" x2="308.3" y2="679.3" stroke="#3cc43c" stroke-width="0.6" opacity="0.29"/><line x1="261.7" y1="705.0" x2="288.8" y2="678.6" stroke="#3cc43c" stroke-width="0.6" opacity="0.20"/><line x1="295.7" y1="716.6" x2="265.0" y2="699.5" stroke="#3cc43c" stroke-width="0.6" opacity="0.30"/></g><g filter="url(#bl08)"><path d="M301.1,682.9 Q287.4,703.0 258.8,726.9" stroke="#40c840" stroke-width="0.6" fill="none" opacity="0.18"/><path d="M303.4,683.8 Q298.7,699.5 281.4,713.0" stroke="#40c840" stroke-width="0.6" fill="none" opacity="0.30"/><path d="M302.9,682.8 Q268.4,681.8 250.0,691.4" stroke="#40c840" stroke-width="0.6" fill="none" opacity="0.20"/><path d="M302.5,683.7 Q288.2,685.5 289.4,699.4" stroke="#40c840" stroke-width="0.6" fill="none" opacity="0.15"/><path d="M301.0,682.7 Q301.9,678.7 285.9,687.9" stroke="#40c840" stroke-width="0.6" fill="none" opacity="0.27"/><path d="M301.6,685.4 Q305.8,701.8 322.0,718.3" stroke="#40c840" stroke-width="0.6" fill="none" opacity="0.32"/><path d="M301.6,684.2 Q297.6,682.0 295.3,679.2" stroke="#40c840" stroke-width="0.6" fill="none" opacity="0.15"/><path d="M302.8,684.9 Q290.2,709.1 281.6,734.0" stroke="#40c840" stroke-width="0.6" fill="none" opacity="0.33"/><path d="M300.5,683.1 Q285.5,700.6 278.6,713.4" stroke="#40c840" stroke-width="0.6" fill="none" opacity="0.17"/><path d="M300.8,685.4 Q281.5,705.7 276.4,715.4" stroke="#40c840" stroke-width="0.6" fill="none" opacity="0.39"/><path d="M303.1,682.6 Q306.1,702.7 296.1,723.0" stroke="#40c840" stroke-width="0.6" fill="none" opacity="0.34"/><path d="M302.1,684.3 Q294.7,694.5 298.6,718.2" stroke="#40c840" stroke-width="0.6" fill="none" opacity="0.31"/><path d="M303.0,685.4 Q290.2,689.3 263.4,702.6" stroke="#40c840" stroke-width="0.6" fill="none" opacity="0.31"/><path d="M300.7,683.3 Q292.0,681.7 283.0,691.4" stroke="#40c840" stroke-width="0.6" fill="none" opacity="0.17"/><path d="M303.2,685.2 Q315.7,686.6 317.5,687.2" stroke="#40c840" stroke-width="0.6" fill="none" opacity="0.32"/><path d="M303.0,682.6 Q293.8,678.1 283.6,678.3" stroke="#40c840" stroke-width="0.6" fill="none" opacity="0.30"/><path d="M303.5,683.6 Q289.4,695.5 275.4,691.5" stroke="#40c840" stroke-width="0.6" fill="none" opacity="0.39"/><path d="M302.9,684.0 Q312.9,686.9 321.7,699.5" stroke="#40c840" stroke-width="0.6" fill="none" opacity="0.33"/><path d="M300.9,683.9 Q313.7,696.2 319.1,706.8" stroke="#40c840" stroke-width="0.6" fill="none" opacity="0.14"/><path d="M301.8,682.7 Q280.9,702.9 263.5,733.5" stroke="#40c840" stroke-width="0.6" fill="none" opacity="0.29"/><path d="M300.5,684.6 Q286.8,687.0 267.1,676.3" stroke="#40c840" stroke-width="0.6" fill="none" opacity="0.28"/><path d="M302.1,683.5 Q286.4,685.4 286.5,691.6" stroke="#40c840" stroke-width="0.6" fill="none" opacity="0.40"/><path d="M302.0,684.0 Q293.7,708.4 275.5,723.4" stroke="#40c840" stroke-width="0.6" fill="none" opacity="0.36"/><path d="M301.9,685.4 Q272.6,680.3 258.8,676.9" stroke="#40c840" stroke-width="0.6" fill="none" opacity="0.38"/><path d="M302.1,683.0 Q284.9,694.6 280.4,697.2" stroke="#40c840" stroke-width="0.6" fill="none" opacity="0.37"/><path d="M300.9,683.3 Q277.2,687.2 253.2,674.4" stroke="#40c840" stroke-width="0.6" fill="none" opacity="0.34"/><path d="M301.4,685.0 Q280.9,702.6 275.2,729.7" stroke="#40c840" stroke-width="0.6" fill="none" opacity="0.15"/><path d="M300.7,683.9 Q308.9,710.1 300.5,726.5" stroke="#40c840" stroke-width="0.6" fill="none" opacity="0.18"/><path d="M300.9,683.4 Q284.3,682.3 259.1,678.2" stroke="#40c840" stroke-width="0.6" fill="none" opacity="0.14"/><path d="M303.4,683.1 Q310.3,707.7 319.5,716.6" stroke="#40c840" stroke-width="0.6" fill="none" opacity="0.19"/><path d="M302.8,684.1 Q284.7,695.9 264.4,707.1" stroke="#40c840" stroke-width="0.6" fill="none" opacity="0.21"/><path d="M300.9,684.7 Q293.9,707.4 300.1,731.2" stroke="#40c840" stroke-width="0.6" fill="none" opacity="0.24"/><path d="M302.3,685.4 Q314.8,698.4 312.9,710.2" stroke="#40c840" stroke-width="0.6" fill="none" opacity="0.34"/><path d="M303.3,685.3 Q295.4,668.9 275.3,667.8" stroke="#40c840" stroke-width="0.6" fill="none" opacity="0.31"/><path d="M301.2,682.7 Q315.5,696.3 321.2,705.5" stroke="#40c840" stroke-width="0.6" fill="none" opacity="0.33"/><path d="M301.3,685.1 Q293.9,672.9 283.9,669.4" stroke="#40c840" stroke-width="0.6" fill="none" opacity="0.29"/><path d="M301.8,683.6 Q303.0,701.9 306.1,721.3" stroke="#40c840" stroke-width="0.6" fill="none" opacity="0.34"/><path d="M300.5,684.6 Q312.5,678.6 316.3,682.4" stroke="#40c840" stroke-width="0.6" fill="none" opacity="0.34"/><path d="M302.8,685.0 Q291.9,706.4 274.7,734.6" stroke="#40c840" stroke-width="0.6" fill="none" opacity="0.16"/><path d="M302.1,684.1 Q306.6,686.3 318.4,692.6" stroke="#40c840" stroke-width="0.6" fill="none" opacity="0.20"/></g><g filter="url(#bl08)"><path d="M269.7,713.1 Q265.6,713.7 254.2,709.2" stroke="#40c840" stroke-width="0.6" fill="none" opacity="0.11"/><path d="M269.2,712.1 Q265.4,689.5 259.0,666.3" stroke="#40c840" stroke-width="0.6" fill="none" opacity="0.11"/><path d="M270.5,712.0 Q267.4,715.3 252.5,732.4" stroke="#40c840" stroke-width="0.6" fill="none" opacity="0.24"/><path d="M271.2,710.8 Q296.5,713.9 308.8,709.9" stroke="#40c840" stroke-width="0.6" fill="none" opacity="0.31"/><path d="M270.8,711.7 Q275.8,728.2 272.4,729.5" stroke="#40c840" stroke-width="0.6" fill="none" opacity="0.23"/><path d="M270.7,711.5 Q288.0,691.6 304.8,669.1" stroke="#40c840" stroke-width="0.6" fill="none" opacity="0.25"/><path d="M269.6,712.1 Q288.7,708.3 301.5,691.7" stroke="#40c840" stroke-width="0.6" fill="none" opacity="0.22"/><path d="M270.5,711.0 Q285.9,696.2 308.7,683.9" stroke="#40c840" stroke-width="0.6" fill="none" opacity="0.34"/><path d="M269.7,712.2 Q276.2,706.5 285.2,716.1" stroke="#40c840" stroke-width="0.6" fill="none" opacity="0.13"/><path d="M269.2,711.5 Q293.6,701.5 318.6,706.1" stroke="#40c840" stroke-width="0.6" fill="none" opacity="0.26"/><path d="M270.6,712.1 Q262.4,706.5 262.2,699.0" stroke="#40c840" stroke-width="0.6" fill="none" opacity="0.29"/><path d="M270.8,713.3 Q284.3,691.2 293.6,670.9" stroke="#40c840" stroke-width="0.6" fill="none" opacity="0.19"/><path d="M271.0,711.8 Q292.2,688.6 309.5,681.1" stroke="#40c840" stroke-width="0.6" fill="none" opacity="0.22"/><path d="M270.4,710.7 Q273.1,704.6 284.8,691.1" stroke="#40c840" stroke-width="0.6" fill="none" opacity="0.17"/><path d="M269.6,713.3 Q289.3,699.6 315.2,684.8" stroke="#40c840" stroke-width="0.6" fill="none" opacity="0.35"/><path d="M269.4,712.5 Q259.3,695.5 259.0,680.7" stroke="#40c840" stroke-width="0.6" fill="none" opacity="0.32"/><path d="M268.9,711.8 Q256.3,686.4 255.0,666.8" stroke="#40c840" stroke-width="0.6" fill="none" opacity="0.19"/><path d="M270.4,710.9 Q293.1,721.1 300.9,732.7" stroke="#40c840" stroke-width="0.6" fill="none" opacity="0.25"/><path d="M271.2,712.6 Q285.2,714.1 311.8,727.0" stroke="#40c840" stroke-width="0.6" fill="none" opacity="0.29"/><path d="M270.9,711.5 Q254.7,713.9 254.7,708.3" stroke="#40c840" stroke-width="0.6" fill="none" opacity="0.11"/><path d="M269.5,712.9 Q287.6,721.3 301.3,734.9" stroke="#40c840" stroke-width="0.6" fill="none" opacity="0.34"/><path d="M269.8,711.4 Q280.7,695.1 275.6,680.5" stroke="#40c840" stroke-width="0.6" fill="none" opacity="0.28"/><path d="M269.8,712.9 Q300.1,703.3 318.8,697.8" stroke="#40c840" stroke-width="0.6" fill="none" opacity="0.34"/><path d="M271.4,712.1 Q291.7,719.9 302.9,714.3" stroke="#40c840" stroke-width="0.6" fill="none" opacity="0.20"/><path d="M271.5,711.4 Q257.9,698.9 250.5,701.9" stroke="#40c840" stroke-width="0.6" fill="none" opacity="0.33"/><path d="M270.5,712.0 Q265.1,703.9 251.1,690.2" stroke="#40c840" stroke-width="0.6" fill="none" opacity="0.13"/><path d="M270.9,712.0 Q288.7,716.1 308.2,718.3" stroke="#40c840" stroke-width="0.6" fill="none" opacity="0.22"/><path d="M270.8,711.6 Q280.7,711.6 283.9,716.5" stroke="#40c840" stroke-width="0.6" fill="none" opacity="0.27"/><path d="M269.6,711.6 Q280.3,724.4 276.4,727.9" stroke="#40c840" stroke-width="0.6" fill="none" opacity="0.21"/><path d="M268.7,713.2 Q281.9,696.5 292.3,667.4" stroke="#40c840" stroke-width="0.6" fill="none" opacity="0.25"/></g><g filter="url(#bl4)"><ellipse cx="300" cy="688" rx="14" ry="10" fill="#38b838" opacity="0.3"/></g></g><g clip-path="url(#c1_3)"><g filter="url(#bl3)"><ellipse cx="389" cy="702" rx="28" ry="14" transform="rotate(36 389 702)" fill="#2224c8"/><ellipse cx="361" cy="681" rx="13" ry="11" fill="#2224c8"/></g><g filter="url(#bl08)"><circle cx="394.7" cy="714.3" r="1.3" fill="#2d30ec" opacity="0.26"/><circle cx="403.0" cy="703.1" r="1.4" fill="#2d30ec" opacity="0.46"/><circle cx="383.2" cy="697.5" r="1.3" fill="#2d30ec" opacity="0.69"/><circle cx="387.3" cy="716.0" r="1.9" fill="#2d30ec" opacity="0.29"/><circle cx="402.7" cy="708.1" r="1.5" fill="#2d30ec" opacity="0.48"/><circle cx="402.5" cy="705.4" r="1.6" fill="#2d30ec" opacity="0.38"/><circle cx="401.4" cy="710.8" r="1.6" fill="#2d30ec" opacity="0.70"/><circle cx="405.9" cy="715.1" r="1.6" fill="#2d30ec" opacity="0.62"/><circle cx="407.8" cy="712.0" r="2.0" fill="#2d30ec" opacity="0.40"/><circle cx="393.8" cy="716.2" r="1.2" fill="#2d30ec" opacity="0.41"/><circle cx="385.6" cy="694.4" r="1.3" fill="#2d30ec" opacity="0.62"/><circle cx="400.8" cy="712.5" r="1.6" fill="#2d30ec" opacity="0.35"/><circle cx="394.8" cy="718.3" r="1.3" fill="#2d30ec" opacity="0.45"/><circle cx="380.5" cy="687.8" r="1.8" fill="#2d30ec" opacity="0.52"/><circle cx="384.5" cy="703.3" r="1.0" fill="#2d30ec" opacity="0.20"/><circle cx="381.6" cy="699.1" r="1.0" fill="#2d30ec" opacity="0.47"/><circle cx="385.0" cy="691.5" r="1.7" fill="#2d30ec" opacity="0.38"/><circle cx="395.8" cy="714.9" r="1.3" fill="#2d30ec" opacity="0.22"/><circle cx="403.2" cy="714.0" r="1.5" fill="#2d30ec" opacity="0.54"/><circle cx="384.9" cy="712.1" r="0.8" fill="#2d30ec" opacity="0.68"/><circle cx="395.5" cy="703.7" r="1.9" fill="#2d30ec" opacity="0.65"/><circle cx="400.7" cy="694.7" r="1.5" fill="#2d30ec" opacity="0.41"/><circle cx="387.2" cy="711.3" r="1.0" fill="#2d30ec" opacity="0.62"/><circle cx="384.5" cy="690.8" r="0.8" fill="#2d30ec" opacity="0.25"/><circle cx="378.4" cy="695.2" r="1.9" fill="#2d30ec" opacity="0.29"/><circle cx="381.7" cy="692.6" r="1.6" fill="#2d30ec" opacity="0.38"/><circle cx="401.8" cy="700.0" r="0.9" fill="#2d30ec" opacity="0.49"/><circle cx="404.4" cy="701.4" r="0.9" fill="#2d30ec" opacity="0.53"/><circle cx="402.5" cy="700.9" r="1.3" fill="#2d30ec" opacity="0.23"/><circle cx="373.3" cy="685.8" r="1.9" fill="#2d30ec" opacity="0.65"/><circle cx="398.0" cy="712.9" r="1.5" fill="#2d30ec" opacity="0.46"/><circle cx="395.9" cy="706.9" r="1.3" fill="#2d30ec" opacity="0.62"/><circle cx="381.7" cy="693.7" r="1.6" fill="#2d30ec" opacity="0.68"/><circle cx="383.2" cy="695.7" r="1.3" fill="#2d30ec" opacity="0.31"/><circle cx="378.2" cy="703.5" r="1.0" fill="#2d30ec" opacity="0.44"/><circle cx="378.4" cy="696.8" r="1.7" fill="#2d30ec" opacity="0.26"/><circle cx="393.2" cy="695.0" r="1.6" fill="#2d30ec" opacity="0.54"/><circle cx="380.9" cy="687.5" r="1.2" fill="#2d30ec" opacity="0.36"/><circle cx="403.4" cy="709.0" r="1.3" fill="#2d30ec" opacity="0.30"/><circle cx="380.4" cy="710.2" r="0.9" fill="#2d30ec" opacity="0.40"/><circle cx="370.4" cy="699.6" r="1.2" fill="#2d30ec" opacity="0.44"/><circle cx="366.5" cy="691.8" r="1.4" fill="#2d30ec" opacity="0.60"/><circle cx="394.9" cy="714.2" r="1.1" fill="#2d30ec" opacity="0.33"/><circle cx="400.2" cy="695.6" r="1.9" fill="#2d30ec" opacity="0.56"/><circle cx="390.8" cy="698.9" r="0.9" fill="#2d30ec" opacity="0.48"/><circle cx="406.8" cy="702.6" r="0.9" fill="#2d30ec" opacity="0.54"/><circle cx="383.2" cy="707.2" r="1.3" fill="#2d30ec" opacity="0.69"/><circle cx="408.0" cy="710.1" r="1.4" fill="#2d30ec" opacity="0.49"/><circle cx="382.0" cy="707.1" r="1.6" fill="#2d30ec" opacity="0.61"/><circle cx="378.1" cy="694.3" r="1.5" fill="#2d30ec" opacity="0.49"/><circle cx="391.9" cy="693.2" r="1.8" fill="#2d30ec" opacity="0.48"/><circle cx="395.8" cy="714.7" r="1.5" fill="#2d30ec" opacity="0.66"/><circle cx="372.1" cy="684.4" r="1.0" fill="#2d30ec" opacity="0.52"/><circle cx="378.1" cy="683.6" r="1.4" fill="#2d30ec" opacity="0.43"/><circle cx="394.9" cy="690.6" r="1.4" fill="#2d30ec" opacity="0.33"/><circle cx="375.3" cy="688.8" r="1.0" fill="#2d30ec" opacity="0.43"/><circle cx="370.7" cy="696.3" r="1.9" fill="#2d30ec" opacity="0.36"/><circle cx="368.5" cy="692.0" r="1.7" fill="#2d30ec" opacity="0.44"/><circle cx="392.4" cy="717.6" r="1.9" fill="#2d30ec" opacity="0.62"/><circle cx="386.0" cy="700.2" r="1.8" fill="#2d30ec" opacity="0.39"/><circle cx="381.6" cy="685.0" r="1.9" fill="#2d30ec" opacity="0.35"/><circle cx="375.3" cy="707.3" r="1.6" fill="#2d30ec" opacity="0.42"/><circle cx="373.8" cy="686.6" r="1.1" fill="#2d30ec" opacity="0.67"/><circle cx="378.3" cy="709.4" r="1.1" fill="#2d30ec" opacity="0.22"/><circle cx="400.1" cy="713.1" r="1.1" fill="#2d30ec" opacity="0.62"/><circle cx="378.5" cy="709.9" r="1.5" fill="#2d30ec" opacity="0.67"/><circle cx="409.7" cy="713.1" r="1.6" fill="#2d30ec" opacity="0.56"/><circle cx="393.2" cy="713.5" r="1.0" fill="#2d30ec" opacity="0.25"/><circle cx="369.4" cy="689.2" r="0.9" fill="#2d30ec" opacity="0.62"/><circle cx="400.3" cy="707.9" r="1.0" fill="#2d30ec" opacity="0.41"/><circle cx="388.2" cy="713.0" r="1.9" fill="#2d30ec" opacity="0.36"/><circle cx="394.9" cy="711.0" r="1.8" fill="#2d30ec" opacity="0.61"/><circle cx="389.6" cy="712.7" r="1.0" fill="#2d30ec" opacity="0.67"/><circle cx="402.5" cy="698.8" r="1.0" fill="#2d30ec" opacity="0.52"/><circle cx="373.8" cy="705.0" r="1.1" fill="#2d30ec" opacity="0.44"/><circle cx="382.4" cy="711.4" r="1.2" fill="#2d30ec" opacity="0.65"/><circle cx="397.7" cy="710.5" r="1.9" fill="#2d30ec" opacity="0.64"/><circle cx="399.2" cy="710.9" r="0.9" fill="#2d30ec" opacity="0.31"/><circle cx="401.4" cy="698.7" r="1.6" fill="#2d30ec" opacity="0.37"/><circle cx="379.1" cy="705.2" r="1.8" fill="#2d30ec" opacity="0.57"/><circle cx="386.1" cy="701.1" r="2.0" fill="#2d30ec" opacity="0.66"/><circle cx="400.1" cy="696.6" r="1.9" fill="#2d30ec" opacity="0.22"/><circle cx="369.8" cy="693.2" r="1.0" fill="#2d30ec" opacity="0.58"/><circle cx="402.3" cy="700.9" r="1.9" fill="#2d30ec" opacity="0.70"/><circle cx="402.6" cy="711.0" r="1.8" fill="#2d30ec" opacity="0.67"/><circle cx="403.9" cy="699.5" r="1.2" fill="#2d30ec" opacity="0.55"/><circle cx="388.2" cy="690.7" r="1.3" fill="#2d30ec" opacity="0.27"/><circle cx="394.0" cy="692.8" r="1.7" fill="#2d30ec" opacity="0.31"/><circle cx="392.5" cy="709.2" r="1.0" fill="#2d30ec" opacity="0.51"/><circle cx="389.4" cy="706.0" r="1.0" fill="#2d30ec" opacity="0.44"/><circle cx="401.9" cy="715.1" r="1.1" fill="#2d30ec" opacity="0.37"/><circle cx="387.8" cy="701.6" r="1.3" fill="#2d30ec" opacity="0.20"/><circle cx="390.2" cy="696.2" r="1.3" fill="#2d30ec" opacity="0.23"/><circle cx="405.0" cy="703.9" r="1.2" fill="#2d30ec" opacity="0.24"/><circle cx="380.7" cy="696.7" r="1.7" fill="#2d30ec" opacity="0.45"/><circle cx="398.9" cy="694.5" r="1.0" fill="#2d30ec" opacity="0.54"/><circle cx="389.9" cy="705.8" r="0.9" fill="#2d30ec" opacity="0.37"/><circle cx="379.6" cy="702.8" r="1.7" fill="#2d30ec" opacity="0.55"/><circle cx="375.6" cy="691.1" r="1.9" fill="#2d30ec" opacity="0.29"/><circle cx="380.6" cy="699.6" r="2.0" fill="#2d30ec" opacity="0.21"/></g><g filter="url(#bl08)"><circle cx="389.9" cy="700.9" r="1.1" fill="#0c0c60" opacity="0.54"/><circle cx="358.8" cy="683.0" r="0.9" fill="#0c0c60" opacity="0.50"/><circle cx="391.8" cy="700.7" r="0.7" fill="#0c0c60" opacity="0.51"/><circle cx="388.7" cy="703.5" r="1.3" fill="#0c0c60" opacity="0.58"/><circle cx="364.5" cy="690.3" r="1.3" fill="#0c0c60" opacity="0.31"/><circle cx="402.6" cy="705.0" r="1.5" fill="#0c0c60" opacity="0.43"/><circle cx="395.8" cy="702.0" r="1.0" fill="#0c0c60" opacity="0.43"/><circle cx="396.2" cy="703.9" r="1.4" fill="#0c0c60" opacity="0.29"/><circle cx="386.9" cy="687.7" r="0.8" fill="#0c0c60" opacity="0.32"/><circle cx="356.9" cy="680.6" r="1.2" fill="#0c0c60" opacity="0.36"/><circle cx="393.7" cy="706.5" r="1.2" fill="#0c0c60" opacity="0.23"/><circle cx="357.7" cy="690.9" r="0.7" fill="#0c0c60" opacity="0.44"/><circle cx="371.2" cy="694.6" r="1.4" fill="#0c0c60" opacity="0.53"/><circle cx="367.0" cy="702.5" r="1.3" fill="#0c0c60" opacity="0.31"/><circle cx="371.3" cy="689.5" r="1.4" fill="#0c0c60" opacity="0.24"/><circle cx="396.2" cy="712.7" r="1.1" fill="#0c0c60" opacity="0.36"/><circle cx="375.8" cy="688.7" r="1.2" fill="#0c0c60" opacity="0.38"/><circle cx="384.2" cy="711.1" r="0.7" fill="#0c0c60" opacity="0.21"/><circle cx="396.8" cy="703.9" r="0.8" fill="#0c0c60" opacity="0.20"/><circle cx="374.9" cy="694.7" r="0.6" fill="#0c0c60" opacity="0.20"/><circle cx="363.4" cy="696.1" r="1.3" fill="#0c0c60" opacity="0.30"/><circle cx="376.7" cy="689.7" r="1.2" fill="#0c0c60" opacity="0.31"/><circle cx="372.9" cy="690.0" r="0.8" fill="#0c0c60" opacity="0.37"/><circle cx="392.0" cy="703.8" r="0.7" fill="#0c0c60" opacity="0.34"/><circle cx="387.8" cy="691.4" r="0.9" fill="#0c0c60" opacity="0.42"/><circle cx="378.6" cy="683.0" r="1.4" fill="#0c0c60" opacity="0.23"/><circle cx="381.9" cy="697.9" r="1.0" fill="#0c0c60" opacity="0.45"/><circle cx="401.6" cy="704.4" r="0.7" fill="#0c0c60" opacity="0.28"/><circle cx="396.7" cy="710.6" r="1.3" fill="#0c0c60" opacity="0.36"/><circle cx="368.3" cy="693.1" r="1.1" fill="#0c0c60" opacity="0.57"/><circle cx="366.1" cy="679.5" r="1.2" fill="#0c0c60" opacity="0.56"/><circle cx="373.6" cy="700.3" r="0.7" fill="#0c0c60" opacity="0.46"/><circle cx="368.5" cy="693.4" r="0.9" fill="#0c0c60" opacity="0.27"/><circle cx="365.1" cy="691.9" r="1.2" fill="#0c0c60" opacity="0.57"/><circle cx="383.0" cy="682.1" r="1.3" fill="#0c0c60" opacity="0.30"/><circle cx="390.8" cy="702.4" r="1.0" fill="#0c0c60" opacity="0.21"/><circle cx="362.7" cy="691.0" r="1.0" fill="#0c0c60" opacity="0.55"/><circle cx="394.3" cy="706.6" r="1.5" fill="#0c0c60" opacity="0.20"/><circle cx="374.6" cy="692.3" r="0.6" fill="#0c0c60" opacity="0.55"/><circle cx="361.7" cy="684.5" r="0.8" fill="#0c0c60" opacity="0.35"/><circle cx="381.8" cy="689.0" r="0.8" fill="#0c0c60" opacity="0.47"/><circle cx="393.0" cy="690.0" r="1.5" fill="#0c0c60" opacity="0.24"/><circle cx="370.2" cy="680.3" r="0.9" fill="#0c0c60" opacity="0.40"/><circle cx="381.6" cy="700.4" r="0.8" fill="#0c0c60" opacity="0.34"/><circle cx="371.0" cy="701.8" r="1.3" fill="#0c0c60" opacity="0.39"/><circle cx="361.4" cy="676.6" r="1.3" fill="#0c0c60" opacity="0.37"/><circle cx="372.4" cy="694.3" r="0.6" fill="#0c0c60" opacity="0.46"/><circle cx="395.4" cy="692.8" r="1.0" fill="#0c0c60" opacity="0.54"/><circle cx="368.0" cy="687.3" r="0.9" fill="#0c0c60" opacity="0.42"/><circle cx="377.3" cy="687.6" r="1.4" fill="#0c0c60" opacity="0.48"/><circle cx="380.6" cy="690.8" r="1.4" fill="#0c0c60" opacity="0.35"/><circle cx="394.1" cy="694.0" r="1.1" fill="#0c0c60" opacity="0.31"/><circle cx="402.3" cy="706.6" r="1.5" fill="#0c0c60" opacity="0.43"/><circle cx="371.4" cy="690.6" r="1.4" fill="#0c0c60" opacity="0.48"/><circle cx="394.6" cy="707.9" r="1.2" fill="#0c0c60" opacity="0.26"/><circle cx="393.8" cy="709.9" r="1.2" fill="#0c0c60" opacity="0.32"/><circle cx="392.3" cy="704.9" r="0.9" fill="#0c0c60" opacity="0.60"/><circle cx="390.3" cy="708.7" r="1.4" fill="#0c0c60" opacity="0.48"/><circle cx="366.9" cy="701.2" r="1.4" fill="#0c0c60" opacity="0.47"/><circle cx="376.8" cy="692.7" r="0.6" fill="#0c0c60" opacity="0.56"/></g><g filter="url(#bl3)"><path d="M375,683 Q385,673 400,672 Q409,678 406,695" stroke="#38b838" stroke-width="9" fill="none" opacity="0.5"/><path d="M361,697 Q360,714 368,722 Q379,725 388,717" stroke="#38b838" stroke-width="9" fill="none" opacity="0.5"/></g><g filter="url(#bl08)"><path d="M399.6,674.7 Q401.6,688.5 402.9,695.8" stroke="#45d040" stroke-width="0.7" fill="none" opacity="0.29"/><path d="M400.7,673.8 Q398.3,685.8 393.5,688.6" stroke="#45d040" stroke-width="0.7" fill="none" opacity="0.19"/><path d="M399.8,673.5 Q401.5,678.8 403.1,692.1" stroke="#45d040" stroke-width="0.7" fill="none" opacity="0.56"/><path d="M400.2,675.4 Q385.2,682.1 370.0,687.7" stroke="#45d040" stroke-width="0.7" fill="none" opacity="0.45"/><path d="M400.4,674.1 Q403.1,673.9 409.4,680.8" stroke="#45d040" stroke-width="0.7" fill="none" opacity="0.19"/><path d="M401.9,673.6 Q403.9,683.8 401.9,686.3" stroke="#45d040" stroke-width="0.7" fill="none" opacity="0.43"/><path d="M402.0,675.1 Q403.4,685.2 403.7,697.0" stroke="#45d040" stroke-width="0.7" fill="none" opacity="0.33"/><path d="M402.0,675.5 Q391.8,685.3 388.8,692.1" stroke="#45d040" stroke-width="0.7" fill="none" opacity="0.18"/><path d="M401.5,675.1 Q389.3,688.0 385.0,701.0" stroke="#45d040" stroke-width="0.7" fill="none" opacity="0.32"/><path d="M401.1,675.7 Q381.5,688.1 368.7,699.1" stroke="#45d040" stroke-width="0.7" fill="none" opacity="0.23"/><path d="M401.7,674.6 Q408.7,684.6 408.9,700.4" stroke="#45d040" stroke-width="0.7" fill="none" opacity="0.47"/><path d="M400.9,675.6 Q403.6,682.0 397.3,690.3" stroke="#45d040" stroke-width="0.7" fill="none" opacity="0.24"/><path d="M399.9,675.3 Q407.2,677.9 405.6,688.0" stroke="#45d040" stroke-width="0.7" fill="none" opacity="0.28"/><path d="M401.6,673.9 Q396.0,681.9 386.5,684.0" stroke="#45d040" stroke-width="0.7" fill="none" opacity="0.20"/><path d="M402.3,676.0 Q398.9,678.2 392.5,680.4" stroke="#45d040" stroke-width="0.7" fill="none" opacity="0.46"/><path d="M401.6,675.5 Q399.8,679.7 402.7,693.2" stroke="#45d040" stroke-width="0.7" fill="none" opacity="0.45"/><path d="M399.9,676.4 Q399.4,682.1 389.5,691.7" stroke="#45d040" stroke-width="0.7" fill="none" opacity="0.50"/><path d="M401.0,675.0 Q402.7,687.8 405.6,707.6" stroke="#45d040" stroke-width="0.7" fill="none" opacity="0.34"/><path d="M400.4,676.0 Q405.7,677.4 401.0,685.5" stroke="#45d040" stroke-width="0.7" fill="none" opacity="0.28"/><path d="M400.2,676.0 Q398.8,680.3 398.4,686.2" stroke="#45d040" stroke-width="0.7" fill="none" opacity="0.58"/><path d="M401.7,675.1 Q399.2,678.3 406.8,682.8" stroke="#45d040" stroke-width="0.7" fill="none" opacity="0.58"/><path d="M399.7,674.7 Q402.9,685.8 409.5,698.5" stroke="#45d040" stroke-width="0.7" fill="none" opacity="0.50"/><path d="M401.4,673.8 Q391.5,683.2 381.3,683.6" stroke="#45d040" stroke-width="0.7" fill="none" opacity="0.36"/><path d="M402.1,674.4 Q388.5,688.1 377.6,702.4" stroke="#45d040" stroke-width="0.7" fill="none" opacity="0.37"/><path d="M400.5,675.4 Q405.5,682.6 409.2,687.2" stroke="#45d040" stroke-width="0.7" fill="none" opacity="0.36"/><path d="M401.6,674.7 Q404.2,685.6 402.9,694.7" stroke="#45d040" stroke-width="0.7" fill="none" opacity="0.24"/><path d="M401.1,674.9 Q387.3,684.1 383.3,687.8" stroke="#45d040" stroke-width="0.7" fill="none" opacity="0.48"/><path d="M402.1,675.0 Q388.1,673.8 370.8,681.8" stroke="#45d040" stroke-width="0.7" fill="none" opacity="0.59"/><path d="M401.8,674.9 Q401.0,682.0 404.1,690.2" stroke="#45d040" stroke-width="0.7" fill="none" opacity="0.48"/><path d="M401.0,675.2 Q405.5,690.2 409.6,700.5" stroke="#45d040" stroke-width="0.7" fill="none" opacity="0.36"/><path d="M399.8,675.2 Q404.8,691.9 407.3,707.6" stroke="#45d040" stroke-width="0.7" fill="none" opacity="0.57"/><path d="M400.3,675.3 Q387.1,690.3 378.2,701.2" stroke="#45d040" stroke-width="0.7" fill="none" opacity="0.51"/><path d="M400.4,675.2 Q385.4,686.5 369.4,703.2" stroke="#45d040" stroke-width="0.7" fill="none" opacity="0.49"/><path d="M400.7,675.8 Q385.6,678.9 375.5,680.1" stroke="#45d040" stroke-width="0.7" fill="none" opacity="0.49"/><path d="M401.4,674.2 Q388.7,686.4 383.4,695.7" stroke="#45d040" stroke-width="0.7" fill="none" opacity="0.46"/><path d="M401.5,674.1 Q387.9,695.3 373.8,707.2" stroke="#45d040" stroke-width="0.7" fill="none" opacity="0.49"/><path d="M401.5,674.2 Q399.3,684.8 393.8,689.4" stroke="#45d040" stroke-width="0.7" fill="none" opacity="0.59"/><path d="M400.5,674.1 Q407.9,687.9 406.2,691.0" stroke="#45d040" stroke-width="0.7" fill="none" opacity="0.28"/><path d="M399.6,675.3 Q392.2,681.0 388.6,682.3" stroke="#45d040" stroke-width="0.7" fill="none" opacity="0.35"/><path d="M399.5,676.1 Q399.2,677.5 397.8,685.8" stroke="#45d040" stroke-width="0.7" fill="none" opacity="0.33"/><path d="M399.9,674.7 Q389.4,690.9 380.4,706.0" stroke="#45d040" stroke-width="0.7" fill="none" opacity="0.55"/><path d="M399.7,673.9 Q406.0,686.1 402.6,702.5" stroke="#45d040" stroke-width="0.7" fill="none" opacity="0.45"/><path d="M401.3,674.8 Q398.1,679.2 390.9,689.1" stroke="#45d040" stroke-width="0.7" fill="none" opacity="0.24"/><path d="M400.8,674.9 Q403.8,681.9 400.6,683.5" stroke="#45d040" stroke-width="0.7" fill="none" opacity="0.27"/><path d="M400.6,674.3 Q386.1,687.6 373.9,698.9" stroke="#45d040" stroke-width="0.7" fill="none" opacity="0.25"/></g><g filter="url(#bl08)"><path d="M366.0,719.2 Q374.5,717.0 389.0,706.5" stroke="#55d040" stroke-width="0.7" fill="none" opacity="0.25"/><path d="M367.6,721.0 Q369.4,724.0 381.3,719.6" stroke="#55d040" stroke-width="0.7" fill="none" opacity="0.36"/><path d="M366.4,721.2 Q369.4,710.5 376.6,693.6" stroke="#55d040" stroke-width="0.7" fill="none" opacity="0.53"/><path d="M366.4,719.2 Q380.2,711.0 395.0,695.3" stroke="#55d040" stroke-width="0.7" fill="none" opacity="0.19"/><path d="M367.4,719.0 Q370.8,713.0 380.3,710.9" stroke="#55d040" stroke-width="0.7" fill="none" opacity="0.51"/><path d="M366.4,718.8 Q376.4,713.7 393.1,706.0" stroke="#55d040" stroke-width="0.7" fill="none" opacity="0.48"/><path d="M368.3,719.6 Q371.6,712.4 381.3,700.3" stroke="#55d040" stroke-width="0.7" fill="none" opacity="0.43"/><path d="M367.3,720.1 Q368.5,711.9 368.4,707.7" stroke="#55d040" stroke-width="0.7" fill="none" opacity="0.20"/><path d="M367.3,720.4 Q362.2,713.3 364.5,705.7" stroke="#55d040" stroke-width="0.7" fill="none" opacity="0.55"/><path d="M368.3,720.3 Q371.2,723.4 383.1,719.3" stroke="#55d040" stroke-width="0.7" fill="none" opacity="0.53"/><path d="M367.6,720.9 Q370.6,713.1 380.9,706.5" stroke="#55d040" stroke-width="0.7" fill="none" opacity="0.56"/><path d="M366.8,720.1 Q372.1,718.1 379.7,725.9" stroke="#55d040" stroke-width="0.7" fill="none" opacity="0.50"/><path d="M368.1,720.2 Q370.2,702.4 368.9,691.0" stroke="#55d040" stroke-width="0.7" fill="none" opacity="0.24"/><path d="M365.7,718.9 Q370.6,724.2 379.8,719.3" stroke="#55d040" stroke-width="0.7" fill="none" opacity="0.43"/><path d="M365.6,720.1 Q380.6,713.5 385.7,712.9" stroke="#55d040" stroke-width="0.7" fill="none" opacity="0.33"/><path d="M367.6,720.2 Q374.9,710.4 375.1,705.0" stroke="#55d040" stroke-width="0.7" fill="none" opacity="0.30"/><path d="M367.6,720.6 Q378.8,706.8 394.7,699.7" stroke="#55d040" stroke-width="0.7" fill="none" opacity="0.33"/><path d="M367.5,718.5 Q364.1,716.8 364.5,712.6" stroke="#55d040" stroke-width="0.7" fill="none" opacity="0.20"/><path d="M366.8,721.0 Q374.9,718.7 391.1,723.0" stroke="#55d040" stroke-width="0.7" fill="none" opacity="0.31"/><path d="M367.3,721.4 Q385.7,702.3 396.3,693.5" stroke="#55d040" stroke-width="0.7" fill="none" opacity="0.48"/><path d="M366.3,720.8 Q385.4,715.7 394.7,703.4" stroke="#55d040" stroke-width="0.7" fill="none" opacity="0.57"/><path d="M368.3,719.8 Q370.3,713.2 368.1,704.9" stroke="#55d040" stroke-width="0.7" fill="none" opacity="0.37"/><path d="M368.2,720.9 Q370.4,707.8 366.4,700.4" stroke="#55d040" stroke-width="0.7" fill="none" opacity="0.42"/><path d="M368.4,721.4 Q365.4,708.3 371.5,690.1" stroke="#55d040" stroke-width="0.7" fill="none" opacity="0.30"/><path d="M368.0,720.5 Q380.0,717.5 395.6,706.7" stroke="#55d040" stroke-width="0.7" fill="none" opacity="0.30"/><path d="M367.2,719.4 Q363.2,705.4 364.1,697.0" stroke="#55d040" stroke-width="0.7" fill="none" opacity="0.27"/><path d="M367.2,718.6 Q375.2,707.1 393.3,704.0" stroke="#55d040" stroke-width="0.7" fill="none" opacity="0.41"/><path d="M366.1,721.0 Q365.2,714.3 361.0,707.8" stroke="#55d040" stroke-width="0.7" fill="none" opacity="0.59"/><path d="M367.1,719.7 Q383.7,721.4 390.9,725.4" stroke="#55d040" stroke-width="0.7" fill="none" opacity="0.51"/><path d="M368.5,719.5 Q366.2,709.7 366.4,698.6" stroke="#55d040" stroke-width="0.7" fill="none" opacity="0.18"/><path d="M367.3,721.0 Q366.8,721.8 374.7,723.3" stroke="#55d040" stroke-width="0.7" fill="none" opacity="0.32"/><path d="M366.5,720.5 Q379.8,723.7 383.1,726.2" stroke="#55d040" stroke-width="0.7" fill="none" opacity="0.49"/><path d="M366.6,719.2 Q375.3,720.0 385.8,715.7" stroke="#55d040" stroke-width="0.7" fill="none" opacity="0.22"/><path d="M366.6,719.7 Q371.8,706.2 381.0,696.5" stroke="#55d040" stroke-width="0.7" fill="none" opacity="0.59"/><path d="M367.9,720.1 Q372.5,715.9 380.0,710.9" stroke="#55d040" stroke-width="0.7" fill="none" opacity="0.40"/><path d="M366.4,718.6 Q367.3,704.4 373.3,697.0" stroke="#55d040" stroke-width="0.7" fill="none" opacity="0.35"/><path d="M367.4,719.8 Q376.9,706.7 381.8,694.4" stroke="#55d040" stroke-width="0.7" fill="none" opacity="0.51"/><path d="M367.7,719.6 Q376.9,704.9 385.8,694.6" stroke="#55d040" stroke-width="0.7" fill="none" opacity="0.27"/><path d="M368.3,718.7 Q360.3,721.2 361.3,727.5" stroke="#55d040" stroke-width="0.7" fill="none" opacity="0.35"/><path d="M366.5,718.8 Q374.5,722.7 376.4,715.9" stroke="#55d040" stroke-width="0.7" fill="none" opacity="0.27"/><path d="M365.8,719.3 Q364.8,714.1 360.2,700.2" stroke="#55d040" stroke-width="0.7" fill="none" opacity="0.55"/><path d="M366.2,720.3 Q370.4,708.2 382.3,705.2" stroke="#55d040" stroke-width="0.7" fill="none" opacity="0.20"/><path d="M366.7,720.3 Q368.1,718.4 379.1,721.1" stroke="#55d040" stroke-width="0.7" fill="none" opacity="0.49"/><path d="M366.9,721.3 Q374.8,714.5 385.8,706.5" stroke="#55d040" stroke-width="0.7" fill="none" opacity="0.40"/><path d="M367.5,720.3 Q374.4,717.6 382.3,715.3" stroke="#55d040" stroke-width="0.7" fill="none" opacity="0.60"/></g><g filter="url(#bl08)"><polyline points="392.9,669.2 394.4,669.4 395.8,669.6 397.1,669.9 398.5,670.4" stroke="#45d840" stroke-width="0.8" fill="none" opacity="0.61"/><polyline points="400.2,678.6 400.8,679.1 401.4,679.6 401.9,680.2 402.4,680.9" stroke="#45d840" stroke-width="0.8" fill="none" opacity="0.41"/><polyline points="396.7,675.8 397.6,676.2 398.5,676.6 399.3,677.1 400.1,677.7" stroke="#45d840" stroke-width="0.8" fill="none" opacity="0.45"/><polyline points="403.2,676.1 403.7,676.6 404.3,677.1 404.8,677.7 405.2,678.3" stroke="#45d840" stroke-width="0.8" fill="none" opacity="0.56"/><polyline points="389.3,677.0 389.9,676.9 390.6,676.8 391.3,676.7 391.9,676.7" stroke="#45d840" stroke-width="0.8" fill="none" opacity="0.44"/><polyline points="405.6,679.7 406.2,680.7 406.8,681.7 407.2,682.7 407.7,683.8" stroke="#45d840" stroke-width="0.8" fill="none" opacity="0.51"/><polyline points="383.1,675.8 383.6,675.5 384.1,675.1 384.7,674.8 385.2,674.5" stroke="#45d840" stroke-width="0.8" fill="none" opacity="0.66"/><polyline points="404.0,682.2 404.5,683.1 404.9,684.0 405.3,685.0 405.6,686.0" stroke="#45d840" stroke-width="0.8" fill="none" opacity="0.27"/><polyline points="403.7,679.7 404.5,680.9 405.2,682.2 405.9,683.5 406.4,684.9" stroke="#45d840" stroke-width="0.8" fill="none" opacity="0.25"/><polyline points="391.6,670.8 393.2,670.9 394.8,671.1 396.3,671.4 397.9,671.9" stroke="#45d840" stroke-width="0.8" fill="none" opacity="0.41"/><polyline points="404.1,688.7 404.2,689.5 404.2,690.4 404.1,691.2 404.0,692.0" stroke="#45d840" stroke-width="0.8" fill="none" opacity="0.31"/><polyline points="404.6,688.7 404.7,689.9 404.7,691.1 404.5,692.3 404.3,693.5" stroke="#45d840" stroke-width="0.8" fill="none" opacity="0.35"/><polyline points="395.2,677.3 396.0,677.5 396.8,677.9 397.6,678.3 398.4,678.7" stroke="#45d840" stroke-width="0.8" fill="none" opacity="0.66"/><polyline points="398.9,679.1 399.5,679.5 400.0,679.9 400.5,680.4 400.9,680.9" stroke="#45d840" stroke-width="0.8" fill="none" opacity="0.49"/><polyline points="410.9,690.2 410.8,692.0 410.5,693.7 410.2,695.4 409.6,697.1" stroke="#45d840" stroke-width="0.8" fill="none" opacity="0.64"/><polyline points="403.6,680.7 403.9,681.2 404.2,681.7 404.5,682.2 404.8,682.7" stroke="#45d840" stroke-width="0.8" fill="none" opacity="0.50"/><polyline points="395.9,677.1 396.5,677.4 397.1,677.6 397.7,677.9 398.3,678.3" stroke="#45d840" stroke-width="0.8" fill="none" opacity="0.63"/><polyline points="404.7,680.0 405.2,680.8 405.6,681.6 406.1,682.4 406.5,683.3" stroke="#45d840" stroke-width="0.8" fill="none" opacity="0.64"/><polyline points="387.3,676.0 388.4,675.7 389.5,675.4 390.6,675.2 391.7,675.1" stroke="#45d840" stroke-width="0.8" fill="none" opacity="0.65"/><polyline points="406.3,685.1 406.7,686.7 407.0,688.4 407.1,690.0 407.0,691.7" stroke="#45d840" stroke-width="0.8" fill="none" opacity="0.46"/><polyline points="393.7,669.5 394.9,669.6 396.1,669.8 397.2,670.1 398.4,670.5" stroke="#45d840" stroke-width="0.8" fill="none" opacity="0.69"/><polyline points="407.7,692.7 407.4,694.4 406.9,696.0 406.2,697.6 405.4,699.1" stroke="#45d840" stroke-width="0.8" fill="none" opacity="0.53"/><polyline points="411.3,689.0 411.3,690.3 411.3,691.7 411.1,693.0 410.9,694.4" stroke="#45d840" stroke-width="0.8" fill="none" opacity="0.60"/><polyline points="391.9,671.5 393.0,671.5 394.1,671.6 395.1,671.8 396.2,672.0" stroke="#45d840" stroke-width="0.8" fill="none" opacity="0.29"/><polyline points="391.1,676.2 391.7,676.1 392.3,676.2 393.0,676.2 393.6,676.3" stroke="#45d840" stroke-width="0.8" fill="none" opacity="0.66"/><polyline points="407.8,692.9 407.5,694.5 407.0,696.0 406.4,697.5 405.7,698.9" stroke="#45d840" stroke-width="0.8" fill="none" opacity="0.58"/><polyline points="405.4,680.4 406.0,681.4 406.5,682.5 407.0,683.5 407.3,684.6" stroke="#45d840" stroke-width="0.8" fill="none" opacity="0.27"/><polyline points="390.4,674.2 391.3,674.2 392.2,674.1 393.1,674.2 394.0,674.3" stroke="#45d840" stroke-width="0.8" fill="none" opacity="0.53"/><polyline points="390.0,670.1 391.0,670.0 391.9,670.0 392.9,670.0 393.9,670.1" stroke="#45d840" stroke-width="0.8" fill="none" opacity="0.59"/><polyline points="405.6,690.1 405.5,691.5 405.3,692.8 405.0,694.1 404.6,695.4" stroke="#45d840" stroke-width="0.8" fill="none" opacity="0.45"/></g><g filter="url(#bl08)"><polyline points="364.2,710.3 364.2,709.3 364.3,708.3 364.6,707.3 365.0,706.3" stroke="#45d840" stroke-width="0.8" fill="none" opacity="0.45"/><polyline points="366.2,716.0 365.9,715.7 365.7,715.4 365.5,715.0 365.3,714.7" stroke="#45d840" stroke-width="0.8" fill="none" opacity="0.57"/><polyline points="362.7,715.4 362.3,714.5 362.0,713.6 361.8,712.7 361.6,711.8" stroke="#45d840" stroke-width="0.8" fill="none" opacity="0.47"/><polyline points="369.9,723.5 369.2,723.3 368.6,723.0 368.0,722.7 367.4,722.3" stroke="#45d840" stroke-width="0.8" fill="none" opacity="0.59"/><polyline points="366.5,722.6 365.3,721.6 364.1,720.6 363.0,719.5 362.1,718.4" stroke="#45d840" stroke-width="0.8" fill="none" opacity="0.55"/><polyline points="365.7,710.8 365.7,709.8 365.8,708.8 366.0,707.8 366.3,706.9" stroke="#45d840" stroke-width="0.8" fill="none" opacity="0.67"/><polyline points="366.4,721.6 365.2,720.7 364.2,719.7 363.2,718.6 362.4,717.4" stroke="#45d840" stroke-width="0.8" fill="none" opacity="0.26"/><polyline points="363.0,718.3 362.6,717.7 362.3,717.2 361.9,716.7 361.6,716.1" stroke="#45d840" stroke-width="0.8" fill="none" opacity="0.38"/><polyline points="368.5,723.5 367.7,723.1 366.9,722.6 366.1,722.1 365.4,721.6" stroke="#45d840" stroke-width="0.8" fill="none" opacity="0.52"/><polyline points="373.0,719.9 371.9,719.6 370.9,719.2 370.0,718.7 369.1,718.1" stroke="#45d840" stroke-width="0.8" fill="none" opacity="0.60"/><polyline points="363.4,717.3 362.7,716.1 362.1,715.0 361.7,713.8 361.3,712.5" stroke="#45d840" stroke-width="0.8" fill="none" opacity="0.69"/><polyline points="362.2,714.6 361.9,713.7 361.6,712.8 361.4,711.8 361.3,710.9" stroke="#45d840" stroke-width="0.8" fill="none" opacity="0.49"/><polyline points="371.9,724.7 370.9,724.4 370.0,724.1 369.1,723.7 368.2,723.3" stroke="#45d840" stroke-width="0.8" fill="none" opacity="0.61"/><polyline points="362.5,706.5 362.9,705.5 363.4,704.4 364.0,703.4 364.7,702.5" stroke="#45d840" stroke-width="0.8" fill="none" opacity="0.40"/><polyline points="359.4,715.2 359.0,713.9 358.7,712.5 358.5,711.2 358.5,709.8" stroke="#45d840" stroke-width="0.8" fill="none" opacity="0.58"/><polyline points="371.3,718.1 370.8,717.8 370.3,717.5 369.8,717.2 369.3,716.9" stroke="#45d840" stroke-width="0.8" fill="none" opacity="0.59"/><polyline points="370.3,717.7 369.8,717.3 369.2,716.9 368.7,716.5 368.2,716.0" stroke="#45d840" stroke-width="0.8" fill="none" opacity="0.45"/><polyline points="360.2,708.2 360.3,707.4 360.5,706.6 360.7,705.8 361.0,705.0" stroke="#45d840" stroke-width="0.8" fill="none" opacity="0.58"/><polyline points="365.1,714.5 364.8,713.7 364.5,712.9 364.2,712.0 364.1,711.2" stroke="#45d840" stroke-width="0.8" fill="none" opacity="0.54"/><polyline points="364.5,717.3 363.6,716.1 363.0,714.9 362.4,713.5 362.1,712.2" stroke="#45d840" stroke-width="0.8" fill="none" opacity="0.38"/><polyline points="363.4,708.4 363.6,707.5 363.9,706.6 364.2,705.7 364.7,704.8" stroke="#45d840" stroke-width="0.8" fill="none" opacity="0.53"/><polyline points="377.1,726.1 376.2,726.1 375.3,726.0 374.4,725.9 373.5,725.8" stroke="#45d840" stroke-width="0.8" fill="none" opacity="0.44"/><polyline points="362.3,711.3 362.3,710.6 362.2,710.0 362.3,709.3 362.3,708.7" stroke="#45d840" stroke-width="0.8" fill="none" opacity="0.33"/><polyline points="362.9,711.2 362.9,710.2 362.9,709.3 363.0,708.3 363.2,707.4" stroke="#45d840" stroke-width="0.8" fill="none" opacity="0.40"/><polyline points="374.9,724.4 374.0,724.3 373.2,724.1 372.4,724.0 371.6,723.7" stroke="#45d840" stroke-width="0.8" fill="none" opacity="0.36"/><polyline points="378.6,722.5 377.7,722.6 376.8,722.6 375.9,722.6 374.9,722.5" stroke="#45d840" stroke-width="0.8" fill="none" opacity="0.69"/><polyline points="367.6,724.5 366.6,723.9 365.6,723.3 364.6,722.6 363.7,721.9" stroke="#45d840" stroke-width="0.8" fill="none" opacity="0.56"/><polyline points="368.8,718.3 368.2,717.9 367.6,717.4 367.1,716.8 366.6,716.3" stroke="#45d840" stroke-width="0.8" fill="none" opacity="0.28"/><polyline points="369.2,717.4 368.5,716.8 367.8,716.2 367.2,715.6 366.7,714.9" stroke="#45d840" stroke-width="0.8" fill="none" opacity="0.44"/><polyline points="376.4,721.7 375.3,721.7 374.2,721.5 373.2,721.3 372.1,721.0" stroke="#45d840" stroke-width="0.8" fill="none" opacity="0.54"/></g><g filter="url(#bl08)"><line x1="401.0" y1="675.0" x2="394.6" y2="670.1" stroke="#4adc40" stroke-width="0.7" opacity="0.34"/><line x1="401.0" y1="675.0" x2="398.7" y2="680.7" stroke="#4adc40" stroke-width="0.7" opacity="0.44"/><line x1="401.0" y1="675.0" x2="396.9" y2="671.5" stroke="#4adc40" stroke-width="0.7" opacity="0.59"/><line x1="401.0" y1="675.0" x2="396.8" y2="668.6" stroke="#4adc40" stroke-width="0.7" opacity="0.41"/><line x1="401.0" y1="675.0" x2="394.2" y2="672.4" stroke="#4adc40" stroke-width="0.7" opacity="0.33"/><line x1="401.0" y1="675.0" x2="393.2" y2="670.8" stroke="#4adc40" stroke-width="0.7" opacity="0.36"/><line x1="401.0" y1="675.0" x2="395.9" y2="674.6" stroke="#4adc40" stroke-width="0.7" opacity="0.38"/><line x1="401.0" y1="675.0" x2="396.4" y2="678.3" stroke="#4adc40" stroke-width="0.7" opacity="0.40"/><line x1="401.0" y1="675.0" x2="392.6" y2="671.0" stroke="#4adc40" stroke-width="0.7" opacity="0.39"/><line x1="401.0" y1="675.0" x2="393.3" y2="672.1" stroke="#4adc40" stroke-width="0.7" opacity="0.59"/><line x1="401.0" y1="675.0" x2="398.3" y2="678.0" stroke="#4adc40" stroke-width="0.7" opacity="0.42"/><line x1="401.0" y1="675.0" x2="393.9" y2="671.8" stroke="#4adc40" stroke-width="0.7" opacity="0.35"/><line x1="401.0" y1="675.0" x2="395.4" y2="678.1" stroke="#4adc40" stroke-width="0.7" opacity="0.51"/><line x1="401.0" y1="675.0" x2="396.6" y2="669.8" stroke="#4adc40" stroke-width="0.7" opacity="0.42"/><line x1="401.0" y1="675.0" x2="395.8" y2="676.0" stroke="#4adc40" stroke-width="0.7" opacity="0.49"/><line x1="401.0" y1="675.0" x2="387.1" y2="675.1" stroke="#4adc40" stroke-width="0.7" opacity="0.56"/><line x1="401.0" y1="675.0" x2="397.3" y2="669.5" stroke="#4adc40" stroke-width="0.7" opacity="0.23"/><line x1="401.0" y1="675.0" x2="397.2" y2="671.6" stroke="#4adc40" stroke-width="0.7" opacity="0.47"/><line x1="401.0" y1="675.0" x2="394.5" y2="683.9" stroke="#4adc40" stroke-width="0.7" opacity="0.20"/><line x1="401.0" y1="675.0" x2="396.0" y2="686.7" stroke="#4adc40" stroke-width="0.7" opacity="0.40"/></g><g filter="url(#bl08)"><line x1="367.5" y1="720.0" x2="380.6" y2="716.0" stroke="#4adc40" stroke-width="0.7" opacity="0.51"/><line x1="367.5" y1="720.0" x2="374.8" y2="711.7" stroke="#4adc40" stroke-width="0.7" opacity="0.34"/><line x1="367.5" y1="720.0" x2="374.4" y2="718.1" stroke="#4adc40" stroke-width="0.7" opacity="0.28"/><line x1="367.5" y1="720.0" x2="372.8" y2="715.9" stroke="#4adc40" stroke-width="0.7" opacity="0.26"/><line x1="367.5" y1="720.0" x2="373.3" y2="725.2" stroke="#4adc40" stroke-width="0.7" opacity="0.42"/><line x1="367.5" y1="720.0" x2="376.5" y2="726.0" stroke="#4adc40" stroke-width="0.7" opacity="0.25"/><line x1="367.5" y1="720.0" x2="375.4" y2="730.7" stroke="#4adc40" stroke-width="0.7" opacity="0.53"/><line x1="367.5" y1="720.0" x2="377.7" y2="713.1" stroke="#4adc40" stroke-width="0.7" opacity="0.45"/><line x1="367.5" y1="720.0" x2="369.4" y2="712.5" stroke="#4adc40" stroke-width="0.7" opacity="0.47"/><line x1="367.5" y1="720.0" x2="380.9" y2="719.1" stroke="#4adc40" stroke-width="0.7" opacity="0.51"/><line x1="367.5" y1="720.0" x2="378.5" y2="728.3" stroke="#4adc40" stroke-width="0.7" opacity="0.32"/><line x1="367.5" y1="720.0" x2="370.2" y2="722.9" stroke="#4adc40" stroke-width="0.7" opacity="0.52"/><line x1="367.5" y1="720.0" x2="370.9" y2="711.7" stroke="#4adc40" stroke-width="0.7" opacity="0.37"/><line x1="367.5" y1="720.0" x2="371.1" y2="710.3" stroke="#4adc40" stroke-width="0.7" opacity="0.51"/><line x1="367.5" y1="720.0" x2="371.8" y2="715.2" stroke="#4adc40" stroke-width="0.7" opacity="0.50"/><line x1="367.5" y1="720.0" x2="371.7" y2="719.6" stroke="#4adc40" stroke-width="0.7" opacity="0.31"/><line x1="367.5" y1="720.0" x2="371.7" y2="725.3" stroke="#4adc40" stroke-width="0.7" opacity="0.30"/><line x1="367.5" y1="720.0" x2="379.8" y2="716.3" stroke="#4adc40" stroke-width="0.7" opacity="0.52"/><line x1="367.5" y1="720.0" x2="377.1" y2="715.3" stroke="#4adc40" stroke-width="0.7" opacity="0.19"/><line x1="367.5" y1="720.0" x2="370.0" y2="712.7" stroke="#4adc40" stroke-width="0.7" opacity="0.45"/></g><g filter="url(#bl08)"><circle cx="435.8" cy="733.7" r="0.7" fill="#30b030" opacity="0.44"/><circle cx="418.7" cy="735.7" r="1.2" fill="#30b030" opacity="0.73"/><circle cx="423.3" cy="740.3" r="0.9" fill="#30b030" opacity="0.69"/><circle cx="419.4" cy="742.5" r="0.6" fill="#30b030" opacity="0.86"/><circle cx="421.6" cy="741.1" r="0.8" fill="#30b030" opacity="0.62"/><circle cx="422.8" cy="742.8" r="1.4" fill="#30b030" opacity="0.82"/><circle cx="438.4" cy="739.1" r="1.1" fill="#30b030" opacity="0.58"/><circle cx="423.3" cy="740.2" r="1.6" fill="#30b030" opacity="0.43"/><circle cx="433.4" cy="736.5" r="1.2" fill="#30b030" opacity="0.53"/><circle cx="432.8" cy="739.9" r="0.9" fill="#30b030" opacity="0.62"/><circle cx="425.7" cy="743.4" r="0.6" fill="#30b030" opacity="0.87"/><circle cx="426.5" cy="741.7" r="1.2" fill="#30b030" opacity="0.44"/><circle cx="428.1" cy="745.0" r="1.4" fill="#30b030" opacity="0.77"/><circle cx="432.0" cy="732.6" r="1.0" fill="#30b030" opacity="0.65"/><circle cx="419.2" cy="741.3" r="0.9" fill="#30b030" opacity="0.48"/><circle cx="438.0" cy="742.4" r="1.3" fill="#30b030" opacity="0.70"/><circle cx="429.4" cy="747.5" r="0.7" fill="#30b030" opacity="0.59"/><circle cx="421.8" cy="741.9" r="1.0" fill="#30b030" opacity="0.86"/><circle cx="422.1" cy="735.4" r="1.5" fill="#30b030" opacity="0.76"/><circle cx="426.4" cy="737.5" r="1.3" fill="#30b030" opacity="0.47"/><circle cx="432.9" cy="734.5" r="1.4" fill="#30b030" opacity="0.44"/><circle cx="423.4" cy="746.0" r="1.2" fill="#30b030" opacity="0.52"/><circle cx="432.1" cy="738.3" r="0.7" fill="#30b030" opacity="0.83"/><circle cx="432.8" cy="734.9" r="1.0" fill="#30b030" opacity="0.74"/><circle cx="425.2" cy="735.2" r="1.1" fill="#30b030" opacity="0.88"/><circle cx="419.1" cy="735.0" r="1.1" fill="#30b030" opacity="0.89"/><circle cx="431.1" cy="732.8" r="0.8" fill="#30b030" opacity="0.47"/><circle cx="428.0" cy="749.9" r="1.6" fill="#30b030" opacity="0.58"/><circle cx="436.8" cy="743.8" r="0.7" fill="#30b030" opacity="0.85"/><circle cx="428.3" cy="740.3" r="0.8" fill="#30b030" opacity="0.64"/><circle cx="433.7" cy="741.1" r="1.6" fill="#30b030" opacity="0.67"/><circle cx="433.2" cy="742.0" r="1.5" fill="#30b030" opacity="0.57"/><circle cx="427.2" cy="746.3" r="0.9" fill="#30b030" opacity="0.59"/><circle cx="435.6" cy="743.0" r="1.1" fill="#30b030" opacity="0.41"/><circle cx="433.8" cy="738.3" r="0.8" fill="#30b030" opacity="0.59"/><circle cx="420.0" cy="746.8" r="1.4" fill="#30b030" opacity="0.88"/><circle cx="431.8" cy="733.2" r="1.0" fill="#30b030" opacity="0.90"/><circle cx="420.3" cy="733.4" r="0.9" fill="#30b030" opacity="0.71"/><circle cx="426.5" cy="733.5" r="0.7" fill="#30b030" opacity="0.66"/><circle cx="424.7" cy="740.0" r="0.7" fill="#30b030" opacity="0.58"/><circle cx="428.1" cy="731.7" r="1.1" fill="#30b030" opacity="0.82"/><circle cx="430.0" cy="732.6" r="1.2" fill="#30b030" opacity="0.44"/><circle cx="428.7" cy="733.6" r="0.9" fill="#30b030" opacity="0.46"/><circle cx="431.8" cy="746.1" r="1.0" fill="#30b030" opacity="0.69"/><circle cx="424.3" cy="746.4" r="1.3" fill="#30b030" opacity="0.44"/><circle cx="432.5" cy="732.8" r="1.1" fill="#30b030" opacity="0.49"/><circle cx="427.7" cy="743.1" r="1.3" fill="#30b030" opacity="0.56"/><circle cx="418.2" cy="739.0" r="1.5" fill="#30b030" opacity="0.68"/><circle cx="430.6" cy="745.3" r="1.2" fill="#30b030" opacity="0.87"/><circle cx="434.8" cy="732.8" r="0.9" fill="#30b030" opacity="0.76"/></g><g filter="url(#bl08)"><path d="M387.0,652.5 Q389.4,655.9 387.4,661.8" stroke="#30b030" stroke-width="0.6" fill="none" opacity="0.19"/><path d="M388.4,652.4 Q385.8,653.1 384.8,652.4" stroke="#30b030" stroke-width="0.6" fill="none" opacity="0.17"/><path d="M388.4,653.2 Q394.9,656.3 396.8,659.3" stroke="#30b030" stroke-width="0.6" fill="none" opacity="0.41"/><path d="M389.0,651.7 Q385.7,651.6 389.0,648.6" stroke="#30b030" stroke-width="0.6" fill="none" opacity="0.22"/><path d="M387.1,651.1 Q387.2,654.5 383.2,661.5" stroke="#30b030" stroke-width="0.6" fill="none" opacity="0.41"/><path d="M387.7,650.9 Q382.2,655.3 377.5,662.2" stroke="#30b030" stroke-width="0.6" fill="none" opacity="0.46"/><path d="M387.2,653.5 Q378.6,650.6 370.7,654.7" stroke="#30b030" stroke-width="0.6" fill="none" opacity="0.45"/><path d="M388.7,652.2 Q387.8,659.1 382.6,662.0" stroke="#30b030" stroke-width="0.6" fill="none" opacity="0.33"/><path d="M389.2,652.8 Q392.6,652.9 391.5,657.6" stroke="#30b030" stroke-width="0.6" fill="none" opacity="0.30"/><path d="M389.4,651.2 Q391.1,652.8 395.4,652.6" stroke="#30b030" stroke-width="0.6" fill="none" opacity="0.45"/><path d="M389.2,653.2 Q387.7,658.3 389.7,662.7" stroke="#30b030" stroke-width="0.6" fill="none" opacity="0.39"/><path d="M388.1,653.4 Q391.9,653.2 395.2,658.1" stroke="#30b030" stroke-width="0.6" fill="none" opacity="0.48"/><path d="M387.0,652.8 Q378.1,654.5 371.3,652.9" stroke="#30b030" stroke-width="0.6" fill="none" opacity="0.22"/><path d="M387.3,652.8 Q381.9,658.3 380.2,663.6" stroke="#30b030" stroke-width="0.6" fill="none" opacity="0.17"/><path d="M388.5,650.6 Q391.9,651.0 390.3,652.1" stroke="#30b030" stroke-width="0.6" fill="none" opacity="0.48"/><path d="M388.7,651.6 Q390.0,654.7 389.0,662.6" stroke="#30b030" stroke-width="0.6" fill="none" opacity="0.22"/><path d="M388.4,650.7 Q391.5,652.7 396.7,658.6" stroke="#30b030" stroke-width="0.6" fill="none" opacity="0.23"/><path d="M389.5,651.3 Q381.2,650.0 371.5,650.8" stroke="#30b030" stroke-width="0.6" fill="none" opacity="0.43"/><path d="M389.0,653.3 Q390.7,653.0 392.1,658.3" stroke="#30b030" stroke-width="0.6" fill="none" opacity="0.34"/><path d="M387.5,651.3 Q380.3,653.5 375.6,649.4" stroke="#30b030" stroke-width="0.6" fill="none" opacity="0.33"/></g><g filter="url(#bl08)"><circle cx="407.4" cy="684.1" r="0.4" fill="#2a8a2a" opacity="0.42"/><circle cx="409.8" cy="717.0" r="0.5" fill="#2a8a2a" opacity="0.44"/><circle cx="396.3" cy="664.3" r="0.9" fill="#2a8a2a" opacity="0.36"/><circle cx="392.8" cy="707.8" r="0.4" fill="#2a8a2a" opacity="0.21"/><circle cx="391.6" cy="671.9" r="0.8" fill="#2a8a2a" opacity="0.29"/><circle cx="374.2" cy="719.2" r="0.6" fill="#2a8a2a" opacity="0.43"/><circle cx="371.9" cy="707.1" r="0.5" fill="#2a8a2a" opacity="0.37"/><circle cx="367.7" cy="692.4" r="0.8" fill="#2a8a2a" opacity="0.40"/><circle cx="356.2" cy="674.5" r="0.5" fill="#2a8a2a" opacity="0.38"/><circle cx="398.9" cy="713.6" r="0.8" fill="#2a8a2a" opacity="0.22"/><circle cx="384.7" cy="662.4" r="0.6" fill="#2a8a2a" opacity="0.33"/><circle cx="365.8" cy="719.2" r="0.5" fill="#2a8a2a" opacity="0.28"/><circle cx="399.7" cy="678.0" r="0.7" fill="#2a8a2a" opacity="0.27"/><circle cx="397.2" cy="721.2" r="0.7" fill="#2a8a2a" opacity="0.41"/><circle cx="398.3" cy="718.1" r="0.8" fill="#2a8a2a" opacity="0.33"/><circle cx="387.5" cy="673.6" r="0.5" fill="#2a8a2a" opacity="0.18"/><circle cx="353.9" cy="690.2" r="0.5" fill="#2a8a2a" opacity="0.32"/><circle cx="411.3" cy="681.4" r="0.8" fill="#2a8a2a" opacity="0.40"/><circle cx="360.4" cy="704.5" r="0.5" fill="#2a8a2a" opacity="0.17"/><circle cx="362.6" cy="676.7" r="0.4" fill="#2a8a2a" opacity="0.16"/><circle cx="409.6" cy="724.3" r="0.8" fill="#2a8a2a" opacity="0.17"/><circle cx="375.0" cy="686.9" r="0.8" fill="#2a8a2a" opacity="0.31"/><circle cx="371.3" cy="672.8" r="0.5" fill="#2a8a2a" opacity="0.36"/><circle cx="362.9" cy="699.8" r="0.5" fill="#2a8a2a" opacity="0.30"/><circle cx="385.1" cy="681.0" r="0.5" fill="#2a8a2a" opacity="0.28"/><circle cx="409.9" cy="672.0" r="0.7" fill="#2a8a2a" opacity="0.39"/><circle cx="390.6" cy="687.0" r="0.9" fill="#2a8a2a" opacity="0.38"/><circle cx="383.7" cy="694.4" r="0.8" fill="#2a8a2a" opacity="0.34"/><circle cx="389.0" cy="699.1" r="0.8" fill="#2a8a2a" opacity="0.26"/><circle cx="355.5" cy="674.7" r="0.5" fill="#2a8a2a" opacity="0.18"/><circle cx="423.1" cy="702.0" r="0.8" fill="#2a8a2a" opacity="0.29"/><circle cx="386.7" cy="678.2" r="0.8" fill="#2a8a2a" opacity="0.28"/><circle cx="377.5" cy="715.4" r="0.8" fill="#2a8a2a" opacity="0.45"/><circle cx="383.5" cy="692.5" r="0.8" fill="#2a8a2a" opacity="0.28"/><circle cx="361.2" cy="696.4" r="0.6" fill="#2a8a2a" opacity="0.23"/><circle cx="406.8" cy="687.1" r="0.7" fill="#2a8a2a" opacity="0.24"/><circle cx="354.1" cy="718.2" r="0.8" fill="#2a8a2a" opacity="0.36"/><circle cx="393.8" cy="674.5" r="0.7" fill="#2a8a2a" opacity="0.40"/><circle cx="407.7" cy="704.5" r="0.7" fill="#2a8a2a" opacity="0.20"/><circle cx="377.0" cy="712.4" r="0.7" fill="#2a8a2a" opacity="0.41"/><circle cx="419.4" cy="681.6" r="0.5" fill="#2a8a2a" opacity="0.19"/><circle cx="371.4" cy="669.4" r="0.9" fill="#2a8a2a" opacity="0.32"/><circle cx="384.3" cy="666.1" r="0.9" fill="#2a8a2a" opacity="0.22"/><circle cx="406.6" cy="676.7" r="0.5" fill="#2a8a2a" opacity="0.19"/><circle cx="387.8" cy="682.5" r="0.7" fill="#2a8a2a" opacity="0.36"/><circle cx="363.1" cy="671.5" r="0.7" fill="#2a8a2a" opacity="0.27"/><circle cx="380.7" cy="688.5" r="0.5" fill="#2a8a2a" opacity="0.19"/><circle cx="403.2" cy="707.7" r="0.7" fill="#2a8a2a" opacity="0.34"/><circle cx="386.1" cy="676.2" r="0.9" fill="#2a8a2a" opacity="0.31"/><circle cx="381.6" cy="680.8" r="0.6" fill="#2a8a2a" opacity="0.44"/><circle cx="377.5" cy="719.9" r="0.5" fill="#2a8a2a" opacity="0.33"/><circle cx="366.7" cy="678.9" r="0.6" fill="#2a8a2a" opacity="0.27"/><circle cx="396.5" cy="691.3" r="0.8" fill="#2a8a2a" opacity="0.20"/><circle cx="413.4" cy="693.4" r="0.8" fill="#2a8a2a" opacity="0.27"/><circle cx="365.6" cy="726.4" r="0.7" fill="#2a8a2a" opacity="0.37"/><circle cx="386.8" cy="713.2" r="0.9" fill="#2a8a2a" opacity="0.37"/><circle cx="422.5" cy="687.2" r="0.5" fill="#2a8a2a" opacity="0.41"/><circle cx="379.8" cy="691.8" r="0.9" fill="#2a8a2a" opacity="0.21"/><circle cx="358.3" cy="674.4" r="0.6" fill="#2a8a2a" opacity="0.28"/><circle cx="375.6" cy="695.1" r="0.4" fill="#2a8a2a" opacity="0.25"/><circle cx="385.7" cy="665.9" r="0.6" fill="#2a8a2a" opacity="0.42"/><circle cx="397.3" cy="730.1" r="0.8" fill="#2a8a2a" opacity="0.30"/><circle cx="391.1" cy="722.7" r="0.6" fill="#2a8a2a" opacity="0.19"/><circle cx="405.7" cy="700.8" r="0.6" fill="#2a8a2a" opacity="0.19"/><circle cx="389.3" cy="703.3" r="0.8" fill="#2a8a2a" opacity="0.42"/><circle cx="370.7" cy="691.9" r="0.6" fill="#2a8a2a" opacity="0.39"/><circle cx="380.3" cy="667.1" r="0.6" fill="#2a8a2a" opacity="0.19"/><circle cx="375.4" cy="694.4" r="0.4" fill="#2a8a2a" opacity="0.19"/><circle cx="417.1" cy="701.2" r="0.9" fill="#2a8a2a" opacity="0.31"/><circle cx="421.3" cy="711.8" r="0.6" fill="#2a8a2a" opacity="0.17"/><circle cx="356.8" cy="719.0" r="0.7" fill="#2a8a2a" opacity="0.24"/><circle cx="358.1" cy="708.1" r="0.9" fill="#2a8a2a" opacity="0.22"/><circle cx="424.8" cy="700.5" r="0.5" fill="#2a8a2a" opacity="0.20"/><circle cx="401.9" cy="728.8" r="0.5" fill="#2a8a2a" opacity="0.22"/><circle cx="356.4" cy="677.0" r="0.5" fill="#2a8a2a" opacity="0.28"/><circle cx="364.0" cy="709.7" r="0.5" fill="#2a8a2a" opacity="0.23"/><circle cx="378.5" cy="674.2" r="0.4" fill="#2a8a2a" opacity="0.18"/><circle cx="348.9" cy="696.5" r="0.8" fill="#2a8a2a" opacity="0.33"/><circle cx="369.5" cy="691.0" r="0.6" fill="#2a8a2a" opacity="0.25"/><circle cx="356.4" cy="677.0" r="0.6" fill="#2a8a2a" opacity="0.18"/></g><g filter="url(#bl08)"><line x1="391.0" y1="683.6" x2="385.5" y2="707.3" stroke="#3cc43c" stroke-width="0.6" opacity="0.22"/><line x1="397.5" y1="711.4" x2="382.3" y2="684.2" stroke="#3cc43c" stroke-width="0.6" opacity="0.11"/><line x1="395.0" y1="691.6" x2="374.1" y2="678.0" stroke="#3cc43c" stroke-width="0.6" opacity="0.15"/><line x1="405.4" y1="696.7" x2="403.1" y2="714.5" stroke="#3cc43c" stroke-width="0.6" opacity="0.16"/><line x1="370.8" y1="716.6" x2="371.3" y2="702.7" stroke="#3cc43c" stroke-width="0.6" opacity="0.33"/><line x1="383.2" y1="694.4" x2="408.8" y2="715.4" stroke="#3cc43c" stroke-width="0.6" opacity="0.33"/><line x1="395.8" y1="684.8" x2="361.5" y2="675.0" stroke="#3cc43c" stroke-width="0.6" opacity="0.33"/><line x1="387.2" y1="716.4" x2="408.8" y2="685.4" stroke="#3cc43c" stroke-width="0.6" opacity="0.34"/><line x1="373.2" y1="682.6" x2="373.1" y2="721.8" stroke="#3cc43c" stroke-width="0.6" opacity="0.33"/><line x1="377.3" y1="697.1" x2="401.8" y2="712.6" stroke="#3cc43c" stroke-width="0.6" opacity="0.32"/><line x1="377.8" y1="685.2" x2="385.7" y2="718.8" stroke="#3cc43c" stroke-width="0.6" opacity="0.25"/><line x1="404.3" y1="683.4" x2="385.4" y2="718.0" stroke="#3cc43c" stroke-width="0.6" opacity="0.24"/><line x1="400.3" y1="712.8" x2="382.0" y2="707.1" stroke="#3cc43c" stroke-width="0.6" opacity="0.27"/><line x1="381.9" y1="699.0" x2="401.1" y2="716.3" stroke="#3cc43c" stroke-width="0.6" opacity="0.35"/><line x1="378.1" y1="706.5" x2="387.6" y2="714.9" stroke="#3cc43c" stroke-width="0.6" opacity="0.16"/><line x1="383.3" y1="686.3" x2="400.8" y2="708.1" stroke="#3cc43c" stroke-width="0.6" opacity="0.10"/><line x1="364.6" y1="680.8" x2="389.7" y2="711.2" stroke="#3cc43c" stroke-width="0.6" opacity="0.19"/><line x1="363.1" y1="702.1" x2="390.9" y2="694.7" stroke="#3cc43c" stroke-width="0.6" opacity="0.17"/><line x1="377.0" y1="685.2" x2="401.3" y2="692.3" stroke="#3cc43c" stroke-width="0.6" opacity="0.28"/><line x1="387.6" y1="685.0" x2="373.5" y2="706.2" stroke="#3cc43c" stroke-width="0.6" opacity="0.32"/><line x1="406.7" y1="681.4" x2="372.5" y2="678.8" stroke="#3cc43c" stroke-width="0.6" opacity="0.15"/><line x1="379.1" y1="708.5" x2="406.6" y2="702.4" stroke="#3cc43c" stroke-width="0.6" opacity="0.14"/><line x1="378.6" y1="680.9" x2="373.5" y2="701.6" stroke="#3cc43c" stroke-width="0.6" opacity="0.23"/><line x1="367.9" y1="687.3" x2="405.6" y2="704.3" stroke="#3cc43c" stroke-width="0.6" opacity="0.25"/><line x1="375.7" y1="688.4" x2="398.6" y2="674.7" stroke="#3cc43c" stroke-width="0.6" opacity="0.26"/><line x1="408.7" y1="704.5" x2="361.5" y2="675.6" stroke="#3cc43c" stroke-width="0.6" opacity="0.30"/><line x1="368.6" y1="694.3" x2="392.9" y2="706.4" stroke="#3cc43c" stroke-width="0.6" opacity="0.17"/><line x1="394.5" y1="717.9" x2="383.3" y2="693.0" stroke="#3cc43c" stroke-width="0.6" opacity="0.27"/><line x1="404.4" y1="707.0" x2="407.2" y2="711.5" stroke="#3cc43c" stroke-width="0.6" opacity="0.34"/><line x1="372.0" y1="706.3" x2="369.9" y2="679.6" stroke="#3cc43c" stroke-width="0.6" opacity="0.19"/><line x1="408.2" y1="688.1" x2="375.1" y2="718.5" stroke="#3cc43c" stroke-width="0.6" opacity="0.35"/><line x1="398.4" y1="690.9" x2="401.8" y2="677.1" stroke="#3cc43c" stroke-width="0.6" opacity="0.10"/><line x1="362.3" y1="690.1" x2="371.5" y2="715.2" stroke="#3cc43c" stroke-width="0.6" opacity="0.21"/><line x1="403.3" y1="697.4" x2="378.4" y2="690.3" stroke="#3cc43c" stroke-width="0.6" opacity="0.11"/><line x1="382.6" y1="719.7" x2="409.5" y2="718.7" stroke="#3cc43c" stroke-width="0.6" opacity="0.12"/><line x1="382.0" y1="714.0" x2="367.0" y2="677.1" stroke="#3cc43c" stroke-width="0.6" opacity="0.15"/><line x1="363.4" y1="709.5" x2="396.1" y2="721.4" stroke="#3cc43c" stroke-width="0.6" opacity="0.11"/><line x1="395.5" y1="712.1" x2="368.3" y2="677.8" stroke="#3cc43c" stroke-width="0.6" opacity="0.34"/><line x1="400.1" y1="677.3" x2="368.7" y2="705.6" stroke="#3cc43c" stroke-width="0.6" opacity="0.14"/><line x1="381.7" y1="681.2" x2="363.8" y2="697.3" stroke="#3cc43c" stroke-width="0.6" opacity="0.24"/></g><g filter="url(#bl08)"><path d="M401.2,674.0 Q404.6,658.3 412.8,655.3" stroke="#40c840" stroke-width="0.6" fill="none" opacity="0.21"/><path d="M400.1,675.6 Q414.5,692.7 422.5,707.0" stroke="#40c840" stroke-width="0.6" fill="none" opacity="0.39"/><path d="M401.5,676.1 Q374.1,693.8 352.1,722.1" stroke="#40c840" stroke-width="0.6" fill="none" opacity="0.17"/><path d="M402.5,673.6 Q376.2,685.1 360.8,695.1" stroke="#40c840" stroke-width="0.6" fill="none" opacity="0.24"/><path d="M400.9,675.2 Q382.5,678.8 361.2,668.3" stroke="#40c840" stroke-width="0.6" fill="none" opacity="0.32"/><path d="M402.2,675.3 Q404.7,698.5 413.7,732.3" stroke="#40c840" stroke-width="0.6" fill="none" opacity="0.37"/><path d="M399.9,674.6 Q372.8,690.7 356.7,718.1" stroke="#40c840" stroke-width="0.6" fill="none" opacity="0.24"/><path d="M400.7,674.6 Q398.2,703.8 397.6,730.0" stroke="#40c840" stroke-width="0.6" fill="none" opacity="0.19"/><path d="M401.6,674.8 Q376.8,680.0 345.4,675.5" stroke="#40c840" stroke-width="0.6" fill="none" opacity="0.24"/><path d="M400.7,675.1 Q388.5,676.1 360.1,674.4" stroke="#40c840" stroke-width="0.6" fill="none" opacity="0.26"/><path d="M402.2,674.4 Q383.6,688.1 368.5,688.4" stroke="#40c840" stroke-width="0.6" fill="none" opacity="0.25"/><path d="M399.5,674.9 Q376.1,702.8 362.8,731.2" stroke="#40c840" stroke-width="0.6" fill="none" opacity="0.25"/><path d="M400.4,673.7 Q373.6,670.7 346.1,667.1" stroke="#40c840" stroke-width="0.6" fill="none" opacity="0.21"/><path d="M401.1,675.6 Q388.5,664.7 372.8,663.3" stroke="#40c840" stroke-width="0.6" fill="none" opacity="0.12"/><path d="M402.0,675.5 Q399.2,693.5 384.8,706.0" stroke="#40c840" stroke-width="0.6" fill="none" opacity="0.18"/><path d="M399.6,676.2 Q405.3,702.0 410.1,715.5" stroke="#40c840" stroke-width="0.6" fill="none" opacity="0.22"/><path d="M399.5,673.6 Q389.4,696.8 388.4,718.8" stroke="#40c840" stroke-width="0.6" fill="none" opacity="0.39"/><path d="M401.0,676.1 Q375.7,689.0 362.6,689.1" stroke="#40c840" stroke-width="0.6" fill="none" opacity="0.20"/><path d="M401.2,675.3 Q393.0,678.2 382.1,674.8" stroke="#40c840" stroke-width="0.6" fill="none" opacity="0.21"/><path d="M402.4,676.0 Q405.8,668.5 421.2,656.6" stroke="#40c840" stroke-width="0.6" fill="none" opacity="0.19"/><path d="M401.4,676.1 Q411.9,685.6 420.5,691.5" stroke="#40c840" stroke-width="0.6" fill="none" opacity="0.37"/><path d="M400.0,675.4 Q382.7,703.6 370.3,726.4" stroke="#40c840" stroke-width="0.6" fill="none" opacity="0.20"/><path d="M399.8,675.7 Q411.0,699.0 424.6,708.2" stroke="#40c840" stroke-width="0.6" fill="none" opacity="0.30"/><path d="M399.8,675.4 Q367.5,691.4 346.4,691.8" stroke="#40c840" stroke-width="0.6" fill="none" opacity="0.27"/><path d="M400.3,674.0 Q379.2,704.3 355.0,729.7" stroke="#40c840" stroke-width="0.6" fill="none" opacity="0.21"/><path d="M401.8,673.9 Q374.3,671.3 347.8,671.1" stroke="#40c840" stroke-width="0.6" fill="none" opacity="0.18"/><path d="M399.9,674.6 Q391.0,687.8 386.9,710.0" stroke="#40c840" stroke-width="0.6" fill="none" opacity="0.23"/><path d="M400.1,673.6 Q402.3,678.5 408.8,674.2" stroke="#40c840" stroke-width="0.6" fill="none" opacity="0.39"/><path d="M400.1,675.9 Q406.1,677.0 418.2,680.3" stroke="#40c840" stroke-width="0.6" fill="none" opacity="0.37"/><path d="M400.1,675.5 Q406.9,688.0 402.0,687.0" stroke="#40c840" stroke-width="0.6" fill="none" opacity="0.17"/><path d="M400.4,673.7 Q411.0,700.7 423.9,718.7" stroke="#40c840" stroke-width="0.6" fill="none" opacity="0.26"/><path d="M400.3,674.1 Q381.7,684.5 351.0,691.5" stroke="#40c840" stroke-width="0.6" fill="none" opacity="0.28"/><path d="M400.8,674.6 Q388.1,700.6 385.7,727.3" stroke="#40c840" stroke-width="0.6" fill="none" opacity="0.17"/><path d="M401.1,676.3 Q383.4,683.8 375.7,698.4" stroke="#40c840" stroke-width="0.6" fill="none" opacity="0.26"/><path d="M399.8,674.9 Q387.1,663.9 372.7,657.8" stroke="#40c840" stroke-width="0.6" fill="none" opacity="0.29"/><path d="M399.6,675.1 Q389.2,687.4 373.1,713.8" stroke="#40c840" stroke-width="0.6" fill="none" opacity="0.29"/><path d="M400.7,675.1 Q392.8,677.7 389.6,673.3" stroke="#40c840" stroke-width="0.6" fill="none" opacity="0.18"/><path d="M401.9,676.5 Q390.2,688.2 395.3,693.3" stroke="#40c840" stroke-width="0.6" fill="none" opacity="0.38"/><path d="M400.8,674.5 Q397.3,686.9 401.2,692.3" stroke="#40c840" stroke-width="0.6" fill="none" opacity="0.15"/><path d="M400.1,675.4 Q401.5,687.9 393.4,711.8" stroke="#40c840" stroke-width="0.6" fill="none" opacity="0.16"/></g><g filter="url(#bl08)"><path d="M367.7,720.8 Q393.8,723.3 415.9,734.2" stroke="#48c840" stroke-width="0.6" fill="none" opacity="0.22"/><path d="M368.0,720.1 Q388.8,718.5 397.0,708.1" stroke="#48c840" stroke-width="0.6" fill="none" opacity="0.37"/><path d="M367.7,719.2 Q377.3,711.3 393.2,715.1" stroke="#48c840" stroke-width="0.6" fill="none" opacity="0.39"/><path d="M367.7,719.5 Q362.4,720.9 362.7,731.6" stroke="#48c840" stroke-width="0.6" fill="none" opacity="0.40"/><path d="M367.5,720.1 Q377.9,687.8 394.4,668.1" stroke="#48c840" stroke-width="0.6" fill="none" opacity="0.21"/><path d="M366.8,721.0 Q388.3,710.7 398.8,695.6" stroke="#48c840" stroke-width="0.6" fill="none" opacity="0.13"/><path d="M368.5,721.5 Q372.9,691.7 363.8,662.3" stroke="#48c840" stroke-width="0.6" fill="none" opacity="0.15"/><path d="M367.2,721.2 Q395.5,695.5 417.0,661.7" stroke="#48c840" stroke-width="0.6" fill="none" opacity="0.33"/><path d="M367.6,720.1 Q370.7,694.5 384.8,682.5" stroke="#48c840" stroke-width="0.6" fill="none" opacity="0.17"/><path d="M366.5,720.1 Q374.3,695.9 387.4,666.4" stroke="#48c840" stroke-width="0.6" fill="none" opacity="0.16"/><path d="M368.9,719.3 Q398.4,705.1 415.6,676.9" stroke="#48c840" stroke-width="0.6" fill="none" opacity="0.31"/><path d="M366.4,718.8 Q362.1,721.5 350.6,737.8" stroke="#48c840" stroke-width="0.6" fill="none" opacity="0.22"/><path d="M366.0,720.1 Q391.0,726.5 420.0,723.1" stroke="#48c840" stroke-width="0.6" fill="none" opacity="0.23"/><path d="M367.9,720.4 Q361.8,734.7 351.0,733.6" stroke="#48c840" stroke-width="0.6" fill="none" opacity="0.16"/><path d="M367.4,719.6 Q376.2,728.1 383.1,731.7" stroke="#48c840" stroke-width="0.6" fill="none" opacity="0.12"/><path d="M368.3,721.5 Q358.5,690.3 362.5,674.9" stroke="#48c840" stroke-width="0.6" fill="none" opacity="0.32"/><path d="M368.6,719.2 Q395.1,696.5 411.5,676.8" stroke="#48c840" stroke-width="0.6" fill="none" opacity="0.20"/><path d="M368.4,721.4 Q373.5,702.6 387.1,677.9" stroke="#48c840" stroke-width="0.6" fill="none" opacity="0.30"/><path d="M368.8,720.2 Q371.6,710.2 373.0,697.5" stroke="#48c840" stroke-width="0.6" fill="none" opacity="0.39"/><path d="M367.4,718.5 Q367.8,705.0 383.2,695.7" stroke="#48c840" stroke-width="0.6" fill="none" opacity="0.24"/><path d="M366.3,720.3 Q367.0,707.3 354.3,681.4" stroke="#48c840" stroke-width="0.6" fill="none" opacity="0.26"/><path d="M367.7,718.7 Q358.9,700.7 349.3,683.8" stroke="#48c840" stroke-width="0.6" fill="none" opacity="0.29"/><path d="M368.7,720.4 Q381.8,704.5 393.9,675.2" stroke="#48c840" stroke-width="0.6" fill="none" opacity="0.27"/><path d="M367.7,720.7 Q389.5,706.1 405.0,696.3" stroke="#48c840" stroke-width="0.6" fill="none" opacity="0.28"/><path d="M367.3,719.8 Q378.0,707.9 393.2,690.7" stroke="#48c840" stroke-width="0.6" fill="none" opacity="0.23"/><path d="M367.9,720.1 Q373.9,710.2 368.3,710.1" stroke="#48c840" stroke-width="0.6" fill="none" opacity="0.30"/><path d="M367.6,720.4 Q375.0,703.8 398.1,692.0" stroke="#48c840" stroke-width="0.6" fill="none" opacity="0.38"/><path d="M366.4,721.2 Q380.2,720.8 397.6,712.3" stroke="#48c840" stroke-width="0.6" fill="none" opacity="0.26"/><path d="M366.4,718.7 Q375.1,725.6 381.3,715.4" stroke="#48c840" stroke-width="0.6" fill="none" opacity="0.29"/><path d="M366.9,719.6 Q373.3,699.6 363.1,678.2" stroke="#48c840" stroke-width="0.6" fill="none" opacity="0.18"/><path d="M367.1,718.8 Q374.0,699.2 365.2,670.8" stroke="#48c840" stroke-width="0.6" fill="none" opacity="0.39"/><path d="M369.0,719.8 Q397.8,694.6 416.2,667.6" stroke="#48c840" stroke-width="0.6" fill="none" opacity="0.24"/><path d="M366.7,721.1 Q352.4,719.1 345.7,706.1" stroke="#48c840" stroke-width="0.6" fill="none" opacity="0.21"/><path d="M367.1,719.3 Q395.4,719.8 409.5,717.1" stroke="#48c840" stroke-width="0.6" fill="none" opacity="0.19"/><path d="M366.0,720.0 Q357.5,707.1 353.3,683.9" stroke="#48c840" stroke-width="0.6" fill="none" opacity="0.26"/><path d="M366.5,721.1 Q357.9,721.6 357.7,715.5" stroke="#48c840" stroke-width="0.6" fill="none" opacity="0.21"/><path d="M366.9,721.4 Q355.3,690.1 352.6,672.0" stroke="#48c840" stroke-width="0.6" fill="none" opacity="0.22"/><path d="M368.6,719.5 Q365.2,713.5 376.5,720.2" stroke="#48c840" stroke-width="0.6" fill="none" opacity="0.17"/><path d="M368.1,719.9 Q371.2,718.1 359.7,719.5" stroke="#48c840" stroke-width="0.6" fill="none" opacity="0.18"/><path d="M366.3,719.7 Q364.8,708.3 370.2,687.1" stroke="#48c840" stroke-width="0.6" fill="none" opacity="0.33"/></g><g filter="url(#bl4)"><ellipse cx="398" cy="684" rx="12" ry="12" fill="#38b838" opacity="0.3"/><ellipse cx="370" cy="714" rx="11" ry="11" fill="#48b838" opacity="0.3"/></g><g filter="url(#bl1)"><circle cx="401" cy="676" r="2" fill="#c8a828"/><ellipse cx="367.5" cy="720" rx="2.8" ry="2.4" fill="#c88028" opacity="0.85"/></g></g><defs><filter id="gr0" x="-70%" y="-70%" width="240%" height="240%"><feTurbulence type="fractalNoise" baseFrequency="0.42" numOctaves="2" seed="11" result="t"/><feColorMatrix in="t" type="matrix" values="0 0 0 0 1  0 0 0 0 1  0 0 0 0 1  2.4 0 0 0 -1.0" result="n"/><feGaussianBlur in="n" stdDeviation="0.45" result="nb"/><feGaussianBlur in="SourceGraphic" stdDeviation="9" result="m"/><feComposite in="nb" in2="m" operator="in"/></filter></defs><defs><filter id="gr1" x="-70%" y="-70%" width="240%" height="240%"><feTurbulence type="fractalNoise" baseFrequency="0.42" numOctaves="2" seed="12" result="t"/><feColorMatrix in="t" type="matrix" values="0 0 0 0 1  0 0 0 0 1  0 0 0 0 1  2.4 0 0 0 -1.0" result="n"/><feGaussianBlur in="n" stdDeviation="0.45" result="nb"/><feGaussianBlur in="SourceGraphic" stdDeviation="9" result="m"/><feComposite in="nb" in2="m" operator="in"/></filter></defs><defs><filter id="gr2" x="-70%" y="-70%" width="240%" height="240%"><feTurbulence type="fractalNoise" baseFrequency="0.42" numOctaves="2" seed="13" result="t"/><feColorMatrix in="t" type="matrix" values="0 0 0 0 1  0 0 0 0 1  0 0 0 0 1  2.4 0 0 0 -1.0" result="n"/><feGaussianBlur in="n" stdDeviation="0.45" result="nb"/><feGaussianBlur in="SourceGraphic" stdDeviation="9" result="m"/><feComposite in="nb" in2="m" operator="in"/></filter></defs><defs><filter id="gr3" x="-70%" y="-70%" width="240%" height="240%"><feTurbulence type="fractalNoise" baseFrequency="0.42" numOctaves="2" seed="14" result="t"/><feColorMatrix in="t" type="matrix" values="0 0 0 0 1  0 0 0 0 1  0 0 0 0 1  2.4 0 0 0 -1.0" result="n"/><feGaussianBlur in="n" stdDeviation="0.45" result="nb"/><feGaussianBlur in="SourceGraphic" stdDeviation="9" result="m"/><feComposite in="nb" in2="m" operator="in"/></filter></defs><g clip-path="url(#c2_0)"><g filter="url(#bl6)"><ellipse cx="86" cy="797" rx="34" ry="33" fill="#1a1a1a"/><ellipse cx="86" cy="795" rx="20" ry="27" transform="rotate(25 86 795)" fill="#262626"/></g><ellipse cx="86" cy="797" rx="30" ry="29" fill="#fff" filter="url(#gr0)" opacity="0.26"/><ellipse cx="130" cy="770" rx="6" ry="18" fill="#fff" filter="url(#gr0)" opacity="0.18"/><g filter="url(#bl1)"><ellipse cx="93" cy="773" rx="7" ry="5.5" fill="#ffffff"/><ellipse cx="88" cy="778" rx="6" ry="3.5" fill="#888"/><ellipse cx="98" cy="778" rx="3" ry="4" fill="#aaa"/></g><g filter="url(#bl1)"><ellipse cx="72.5" cy="822" rx="5.5" ry="4" fill="#ffffff"/><ellipse cx="70" cy="819" rx="3" ry="3" fill="#ddd"/></g></g><g clip-path="url(#c2_1)"><g filter="url(#bl6)"><ellipse cx="185" cy="797" rx="34" ry="34" fill="#181818"/><ellipse cx="185" cy="797" rx="16" ry="26" fill="#222"/></g><ellipse cx="185" cy="797" rx="30" ry="30" fill="#fff" filter="url(#gr1)" opacity="0.26"/><path d="M174,786 Q187,766 201,786 Q187,777 174,786 Z" fill="#fff" filter="url(#gr1)" opacity="0.55"/><path d="M169,808 Q181,830 196,808 Q182,819 169,808 Z" fill="#fff" filter="url(#gr1)" opacity="0.55"/><g filter="url(#bl2)"><ellipse cx="187" cy="779" rx="8" ry="4.5" fill="#3a3a3a"/><ellipse cx="182" cy="817" rx="8" ry="4.5" fill="#3a3a3a"/></g></g><g clip-path="url(#c2_2)"><ellipse cx="285" cy="797" rx="36" ry="34" fill="#fff" filter="url(#gr2)" opacity="0.16"/><g filter="url(#bl1)"><ellipse cx="300" cy="784" rx="3" ry="2.5" fill="#707070"/><ellipse cx="273.5" cy="814.5" rx="3.5" ry="2.5" fill="#505050"/></g></g><g clip-path="url(#c2_3)"><g filter="url(#bl6)"><ellipse cx="385" cy="798" rx="34" ry="33" fill="#191919"/></g><ellipse cx="385" cy="797" rx="31" ry="30" fill="#fff" filter="url(#gr3)" opacity="0.26"/><path d="M383,782 Q395,770 408,776 Q410,790 404,796" stroke="#fff" stroke-width="4" fill="none" filter="url(#gr3)" opacity="0.4"/><path d="M363,806 Q362,820 372,824 Q382,824 388,818" stroke="#fff" stroke-width="4" fill="none" filter="url(#gr3)" opacity="0.4"/><g filter="url(#bl1)"><ellipse cx="401" cy="777" rx="4.5" ry="3.5" fill="#d8d8d8"/><ellipse cx="397" cy="775" rx="2" ry="2" fill="#fff"/></g><g filter="url(#bl1)"><ellipse cx="369" cy="820" rx="5" ry="4" fill="#a8a8a8"/><ellipse cx="368" cy="818" rx="2.5" ry="2" fill="#ddd"/></g></g><line x1="510.5" y1="672.2" x2="510.5" y2="811.8" stroke="#222" stroke-width="1.3"/><line x1="509.9" y1="811.8" x2="649.3" y2="811.8" stroke="#222" stroke-width="1.3"/><line x1="508" y1="672.3" x2="510.5" y2="672.3" stroke="#222" stroke-width="1.2"/><text x="505.3" y="676.0999999999999" font-size="11" fill="#222" text-anchor="end">2.5</text><line x1="508" y1="700.3" x2="510.5" y2="700.3" stroke="#222" stroke-width="1.2"/><text x="505.3" y="704.0999999999999" font-size="11" fill="#222" text-anchor="end">2.0</text><line x1="508" y1="728.3" x2="510.5" y2="728.3" stroke="#222" stroke-width="1.2"/><text x="505.3" y="732.0999999999999" font-size="11" fill="#222" text-anchor="end">1.5</text><line x1="508" y1="756.2" x2="510.5" y2="756.2" stroke="#222" stroke-width="1.2"/><text x="505.3" y="760.0" font-size="11" fill="#222" text-anchor="end">1.0</text><line x1="508" y1="784.1" x2="510.5" y2="784.1" stroke="#222" stroke-width="1.2"/><text x="505.3" y="787.9" font-size="11" fill="#222" text-anchor="end">0.5</text><line x1="508" y1="812" x2="510.5" y2="812" stroke="#222" stroke-width="1.2"/><text x="505.3" y="815.8" font-size="11" fill="#222" text-anchor="end">0.0</text><line x1="527.9" y1="811.8" x2="527.9" y2="814.3" stroke="#222" stroke-width="1.2"/><text x="531.2" y="828.8" font-size="12.2" fill="#222" text-anchor="middle">WT</text><line x1="562.8" y1="811.8" x2="562.8" y2="814.3" stroke="#222" stroke-width="1.2"/><text x="564.8" y="828.8" font-size="12.2" fill="#222" text-anchor="middle">S574A</text><line x1="597.7" y1="811.8" x2="597.7" y2="814.3" stroke="#222" stroke-width="1.2"/><text x="601.1" y="828.8" font-size="12.2" fill="#222" text-anchor="middle">DEL</text><line x1="632.5" y1="811.8" x2="632.5" y2="814.3" stroke="#222" stroke-width="1.2"/><text x="637.8" y="828.8" font-size="12.2" fill="#222" text-anchor="middle">F543A</text><text transform="translate(482.5,741) rotate(-90)" font-size="11" fill="#222" text-anchor="middle">TACC3 intensity on spindle (a.u)</text><line x1="527.9" y1="718.5" x2="527.9" y2="742.4" stroke="#3a3a3a" stroke-width="1.2"/><line x1="527.9" y1="763.4" x2="527.9" y2="770.3" stroke="#3a3a3a" stroke-width="1.2"/><line x1="521.9" y1="718.5" x2="533.9" y2="718.5" stroke="#3a3a3a" stroke-width="1.2"/><line x1="521.9" y1="770.3" x2="533.9" y2="770.3" stroke="#3a3a3a" stroke-width="1.2"/><rect x="516.3" y="742.4" width="23.100000000000023" height="21.0" fill="none" stroke="#3a3a3a" stroke-width="1.2"/><line x1="516.3" y1="755.2" x2="539.4" y2="755.2" stroke="#3a3a3a" stroke-width="1.2"/><line x1="562.8" y1="773.6" x2="562.8" y2="778.8" stroke="#3a3a3a" stroke-width="1.2"/><line x1="562.8" y1="788.9" x2="562.8" y2="792.4" stroke="#3a3a3a" stroke-width="1.2"/><line x1="556.8" y1="773.6" x2="568.8" y2="773.6" stroke="#3a3a3a" stroke-width="1.2"/><line x1="556.8" y1="792.4" x2="568.8" y2="792.4" stroke="#3a3a3a" stroke-width="1.2"/><rect x="551.2" y="778.8" width="23.09999999999991" height="10.100000000000023" fill="none" stroke="#3a3a3a" stroke-width="1.2"/><line x1="551.2" y1="785.2" x2="574.3" y2="785.2" stroke="#3a3a3a" stroke-width="1.2"/><line x1="597.7" y1="790.6" x2="597.7" y2="796.7" stroke="#3a3a3a" stroke-width="1.2"/><line x1="597.7" y1="801.5" x2="597.7" y2="803.4" stroke="#3a3a3a" stroke-width="1.2"/><line x1="591.7" y1="790.6" x2="603.7" y2="790.6" stroke="#3a3a3a" stroke-width="1.2"/><line x1="591.7" y1="803.4" x2="603.7" y2="803.4" stroke="#3a3a3a" stroke-width="1.2"/><rect x="586.1" y="796.7" width="23.100000000000023" height="4.7999999999999545" fill="none" stroke="#3a3a3a" stroke-width="1.2"/><line x1="586.1" y1="800.0" x2="609.2" y2="800.0" stroke="#3a3a3a" stroke-width="1.2"/><line x1="632.5" y1="762.7" x2="632.5" y2="769.9" stroke="#3a3a3a" stroke-width="1.2"/><line x1="632.5" y1="782.5" x2="632.5" y2="786.8" stroke="#3a3a3a" stroke-width="1.2"/><line x1="626.5" y1="762.7" x2="638.5" y2="762.7" stroke="#3a3a3a" stroke-width="1.2"/><line x1="626.5" y1="786.8" x2="638.5" y2="786.8" stroke="#3a3a3a" stroke-width="1.2"/><rect x="620.5" y="769.9" width="24.0" height="12.600000000000023" fill="none" stroke="#3a3a3a" stroke-width="1.2"/><line x1="620.5" y1="779.0" x2="644.5" y2="779.0" stroke="#3a3a3a" stroke-width="1.2"/><path d="M527.3,698 V692.3 H564.8 V698" fill="none" stroke="#222" stroke-width="1.4"/><path d="M527.3,687.6 V682.2 H598.5 V687.6" fill="none" stroke="#222" stroke-width="1.4"/><path d="M527.3,675.7 V670.1 H631.6 V675.7" fill="none" stroke="#222" stroke-width="1.4"/><text x="546.4" y="694.9" font-size="10" fill="#222" text-anchor="middle">****</text><text x="563.4" y="684.7" font-size="10" fill="#222" text-anchor="middle">****</text><text x="576.3" y="672.9" font-size="10" fill="#222" text-anchor="middle">****</text></svg>
</body></html>
